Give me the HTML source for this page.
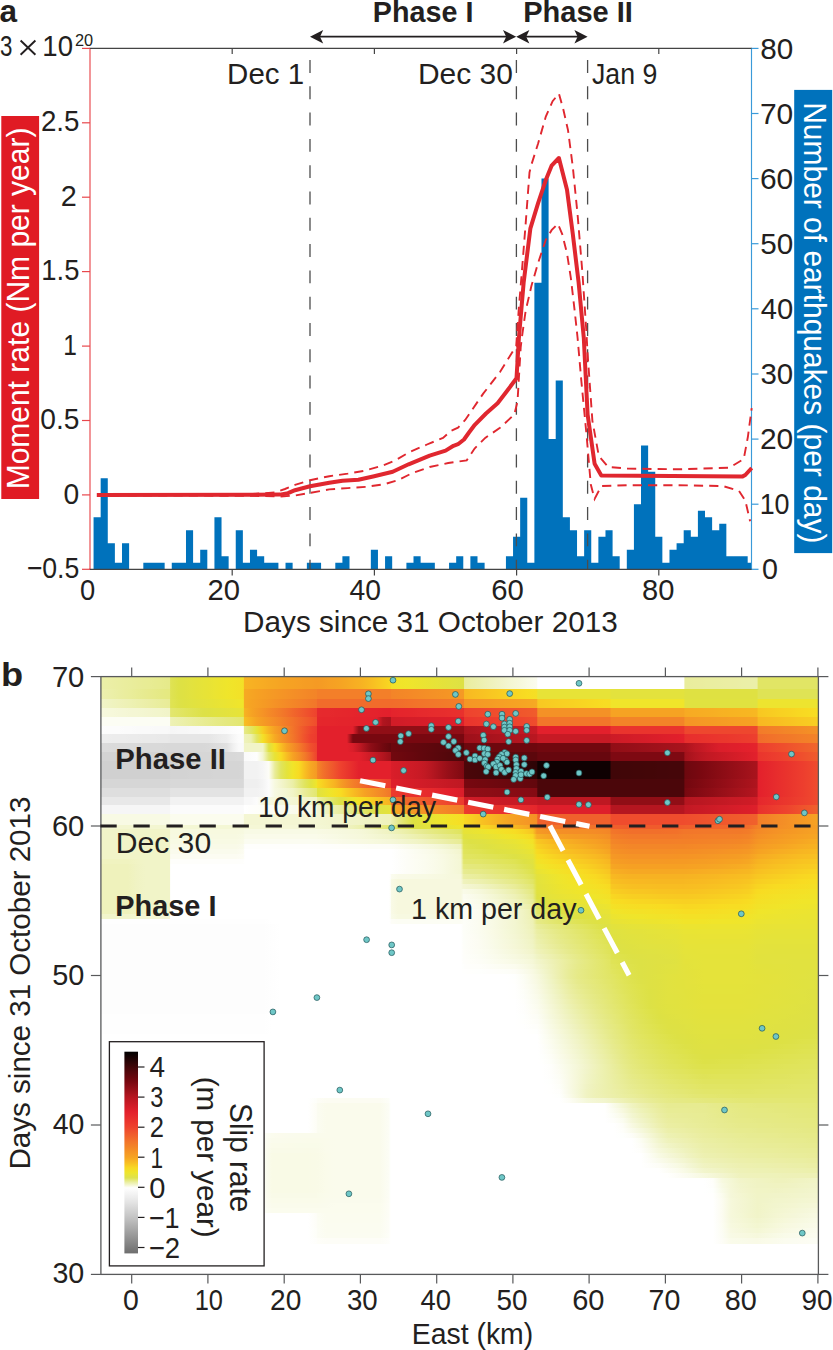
<!DOCTYPE html>
<html><head><meta charset="utf-8"><title>Figure</title>
<style>html,body{margin:0;padding:0;background:#fff;overflow:hidden}svg{display:block}text{font-family:"Liberation Sans",sans-serif}</style>
</head><body>
<svg width="833" height="1350" viewBox="0 0 833 1350">
<rect width="833" height="1350" fill="#fff"/>
<!-- panel a -->
<path d="M93.56 569.30H100.67V517.21H93.56ZM100.67 569.30H107.78V478.14H100.67ZM107.78 569.30H114.89V543.25H107.78ZM114.89 569.30H122.00V562.79H114.89ZM122.00 569.30H129.11V543.25H122.00ZM143.32 569.30H150.44V562.79H143.32ZM150.44 569.30H157.55V562.79H150.44ZM157.55 569.30H164.66V562.79H157.55ZM171.76 569.30H178.88V562.79H171.76ZM178.88 569.30H185.99V562.79H178.88ZM185.99 569.30H193.09V530.23H185.99ZM193.09 569.30H200.20V562.79H193.09ZM200.20 569.30H207.31V549.77H200.20ZM214.43 569.30H221.53V517.21H214.43ZM221.53 569.30H228.65V556.28H221.53ZM235.75 569.30H242.87V530.23H235.75ZM242.87 569.30H249.97V562.79H242.87ZM249.97 569.30H257.09V549.77H249.97ZM257.09 569.30H264.20V556.28H257.09ZM264.20 569.30H271.31V562.79H264.20ZM271.31 569.30H278.42V562.79H271.31ZM285.52 569.30H292.63V562.79H285.52ZM306.86 569.30H313.97V562.79H306.86ZM313.97 569.30H321.08V562.79H313.97ZM335.30 569.30H342.40V562.79H335.30ZM342.40 569.30H349.51V556.28H342.40ZM370.85 569.30H377.96V549.77H370.85ZM385.06 569.30H392.18V556.28H385.06ZM406.40 569.30H413.50V562.79H406.40ZM413.50 569.30H420.62V556.28H413.50ZM420.62 569.30H427.73V562.79H420.62ZM427.73 569.30H434.84V562.79H427.73ZM449.06 569.30H456.17V562.79H449.06ZM456.17 569.30H463.28V556.28H456.17ZM470.38 569.30H477.50V556.28H470.38ZM477.50 569.30H484.61V562.79H477.50ZM505.94 569.30H513.05V556.28H505.94ZM513.05 569.30H520.15V536.74H513.05ZM520.15 569.30H527.27V497.68H520.15ZM527.27 569.30H534.38V562.79H527.27ZM534.38 569.30H541.49V282.80H534.38ZM541.49 569.30H548.60V178.62H541.49ZM548.60 569.30H555.71V439.07H548.60ZM555.71 569.30H562.82V380.47H555.71ZM562.82 569.30H569.92V517.21H562.82ZM569.92 569.30H577.04V530.23H569.92ZM577.04 569.30H584.14V556.28H577.04ZM584.14 569.30H591.25V530.23H584.14ZM591.25 569.30H598.37V562.79H591.25ZM598.37 569.30H605.48V536.74H598.37ZM605.48 569.30H612.59V530.23H605.48ZM612.59 569.30H619.70V556.28H612.59ZM626.81 569.30H633.92V549.77H626.81ZM633.92 569.30H641.02V504.19H633.92ZM641.02 569.30H648.13V445.59H641.02ZM648.13 569.30H655.25V471.63H648.13ZM655.25 569.30H662.36V536.74H655.25ZM662.36 569.30H669.47V562.79H662.36ZM669.47 569.30H676.58V549.77H669.47ZM676.58 569.30H683.69V543.25H676.58ZM683.69 569.30H690.80V530.23H683.69ZM690.80 569.30H697.90V536.74H690.80ZM697.90 569.30H705.01V510.70H697.90ZM705.01 569.30H712.12V517.21H705.01ZM712.12 569.30H719.24V530.23H712.12ZM719.24 569.30H726.35V523.72H719.24ZM726.35 569.30H733.46V556.28H726.35ZM733.46 569.30H740.57V556.28H733.46ZM740.57 569.30H747.68V556.28H740.57ZM747.68 569.30H751.50V562.79H747.68Z" fill="#0072bc"/>
<line x1="310.0" y1="60" x2="310.0" y2="569.3" stroke="#4d4d4d" stroke-width="1.3" stroke-dasharray="12.9 13.4"/>
<line x1="516.4" y1="60" x2="516.4" y2="569.3" stroke="#4d4d4d" stroke-width="1.3" stroke-dasharray="12.9 13.4"/>
<line x1="587.6" y1="60" x2="587.6" y2="569.3" stroke="#4d4d4d" stroke-width="1.3" stroke-dasharray="12.9 13.4"/>
<line x1="90.0" y1="48.4" x2="90.0" y2="569.3" stroke="#e8474c" stroke-width="1.15"/>
<line x1="751.5" y1="48.4" x2="751.5" y2="569.3" stroke="#3a9ad9" stroke-width="1.15"/>
<line x1="89.4" y1="48.4" x2="752.1" y2="48.4" stroke="#444" stroke-width="1.2"/>
<line x1="89.4" y1="569.3" x2="752.1" y2="569.3" stroke="#444" stroke-width="1.2"/>
<line x1="82.0" y1="569.3" x2="90.0" y2="569.3" stroke="#e8474c" stroke-width="1.2"/>
<line x1="82.0" y1="494.9" x2="90.0" y2="494.9" stroke="#e8474c" stroke-width="1.2"/>
<line x1="82.0" y1="420.5" x2="90.0" y2="420.5" stroke="#e8474c" stroke-width="1.2"/>
<line x1="82.0" y1="346.1" x2="90.0" y2="346.1" stroke="#e8474c" stroke-width="1.2"/>
<line x1="82.0" y1="271.6" x2="90.0" y2="271.6" stroke="#e8474c" stroke-width="1.2"/>
<line x1="82.0" y1="197.2" x2="90.0" y2="197.2" stroke="#e8474c" stroke-width="1.2"/>
<line x1="82.0" y1="122.8" x2="90.0" y2="122.8" stroke="#e8474c" stroke-width="1.2"/>
<line x1="82.0" y1="48.4" x2="90.0" y2="48.4" stroke="#e8474c" stroke-width="1.2"/>
<line x1="751.5" y1="569.3" x2="758.5" y2="569.3" stroke="#3a9ad9" stroke-width="1.2"/>
<line x1="751.5" y1="504.2" x2="758.5" y2="504.2" stroke="#3a9ad9" stroke-width="1.2"/>
<line x1="751.5" y1="439.1" x2="758.5" y2="439.1" stroke="#3a9ad9" stroke-width="1.2"/>
<line x1="751.5" y1="374.0" x2="758.5" y2="374.0" stroke="#3a9ad9" stroke-width="1.2"/>
<line x1="751.5" y1="308.8" x2="758.5" y2="308.8" stroke="#3a9ad9" stroke-width="1.2"/>
<line x1="751.5" y1="243.7" x2="758.5" y2="243.7" stroke="#3a9ad9" stroke-width="1.2"/>
<line x1="751.5" y1="178.6" x2="758.5" y2="178.6" stroke="#3a9ad9" stroke-width="1.2"/>
<line x1="751.5" y1="113.5" x2="758.5" y2="113.5" stroke="#3a9ad9" stroke-width="1.2"/>
<line x1="751.5" y1="48.4" x2="758.5" y2="48.4" stroke="#3a9ad9" stroke-width="1.2"/>
<line x1="232.2" y1="569.3" x2="232.2" y2="575.6" stroke="#444" stroke-width="1.2"/>
<line x1="232.2" y1="48.4" x2="232.2" y2="54.0" stroke="#444" stroke-width="1.2"/>
<line x1="374.4" y1="569.3" x2="374.4" y2="575.6" stroke="#444" stroke-width="1.2"/>
<line x1="374.4" y1="48.4" x2="374.4" y2="54.0" stroke="#444" stroke-width="1.2"/>
<line x1="516.6" y1="569.3" x2="516.6" y2="575.6" stroke="#444" stroke-width="1.2"/>
<line x1="516.6" y1="48.4" x2="516.6" y2="54.0" stroke="#444" stroke-width="1.2"/>
<line x1="658.8" y1="569.3" x2="658.8" y2="575.6" stroke="#444" stroke-width="1.2"/>
<line x1="658.8" y1="48.4" x2="658.8" y2="54.0" stroke="#444" stroke-width="1.2"/>
<polyline points="97.0,494.2 250.0,494.1 275.0,492.5 285.0,489.0 295.0,484.9 310.0,480.2 329.3,476.2 347.8,473.6 363.7,470.9 382.2,465.7 395.4,460.4 408.6,452.5 427.0,444.5 443.0,437.9 450.8,430.9 458.0,427.7 465.2,420.0 483.2,393.6 500.0,372.0 516.2,346.0 518.9,307.2 521.8,272.6 525.6,224.4 529.5,172.4 531.4,164.7 538.1,143.5 545.8,116.6 552.6,101.2 558.9,93.6 563.2,108.9 568.0,130.1 572.8,166.7 577.6,214.8 582.4,272.6 586.3,330.3 587.6,353.9 592.4,420.8 598.8,455.9 608.3,467.0 627.4,468.6 678.4,469.3 729.4,467.7 743.7,459.1 747.9,436.8 751.7,408.1" fill="none" stroke="#e0272f" stroke-width="1.9" stroke-dasharray="9.2 6.1"/>
<polyline points="97.0,495.6 250.0,495.7 280.0,496.5 295.0,495.5 310.0,492.9 329.3,489.4 347.8,488.1 366.3,486.8 384.8,484.1 398.0,480.2 411.2,473.6 429.7,467.0 448.2,463.0 466.7,460.4 474.6,448.5 485.2,437.9 500.0,427.8 514.3,414.5 517.5,401.7 520.7,347.5 521.8,338.0 525.6,311.1 531.4,286.0 538.1,262.9 545.8,239.8 551.6,230.2 557.8,223.8 562.2,234.1 567.0,253.3 570.9,278.3 574.7,311.1 577.6,338.0 581.2,379.4 586.7,436.8 590.8,484.6 594.6,498.9 601.3,486.1 627.4,485.2 678.4,485.2 723.0,486.1 739.0,490.9 745.3,500.5 750.1,521.2" fill="none" stroke="#e0272f" stroke-width="1.9" stroke-dasharray="9.2 6.1"/>
<polyline points="96.8,494.9 280.0,494.6 288.0,493.2 295.0,490.2 310.0,486.3 329.3,482.8 342.5,480.7 358.4,479.7 374.2,476.2 392.7,471.7 408.6,464.3 429.7,455.6 445.6,450.6 453.5,445.8 458.0,444.2 464.0,439.5 469.0,432.5 474.8,424.8 486.0,413.5 497.6,403.2 507.0,391.0 516.5,378.3 518.9,338.0 523.7,282.2 530.4,228.3 538.1,203.2 545.8,180.1 551.6,165.7 558.9,158.0 567.0,189.8 572.8,234.1 578.6,282.2 583.8,338.0 587.6,414.5 594.6,463.8 601.3,475.6 742.2,476.6 745.3,475.0 751.7,468.0" fill="none" stroke="#e0272f" stroke-width="4" stroke-linejoin="round" stroke-linecap="butt"/>
<text x="-0.52" y="22.30" font-size="31.0" font-weight="bold" textLength="17.56" lengthAdjust="spacingAndGlyphs" fill="#231f20">a</text>
<text x="-0.06" y="55.70" font-size="29.4" textLength="12.43" lengthAdjust="spacingAndGlyphs" fill="#231f20">3</text>
<path d="M20.6 40.5L35.4 54.7M35.4 40.5L20.6 54.7" stroke="#231f20" stroke-width="1.9" fill="none"/>
<text x="42.29" y="55.70" font-size="29.4" textLength="30.70" lengthAdjust="spacingAndGlyphs" fill="#231f20">10</text>
<text x="74.90" y="45.60" font-size="17.4" textLength="18.17" lengthAdjust="spacingAndGlyphs" fill="#231f20">20</text>
<text x="372.89" y="21.60" font-size="28.6" font-weight="bold" textLength="100.54" lengthAdjust="spacingAndGlyphs" fill="#231f20">Phase I</text>
<text x="523.16" y="21.60" font-size="28.6" font-weight="bold" textLength="109.75" lengthAdjust="spacingAndGlyphs" fill="#231f20">Phase II</text>
<line x1="318" y1="36.7" x2="509" y2="36.7" stroke="#231f20" stroke-width="1.7"/>
<line x1="523" y1="36.7" x2="580" y2="36.7" stroke="#231f20" stroke-width="1.7"/>
<path d="M310.0 36.7L323.2 30L320.0 36.7L323.2 43.4Z" fill="#231f20"/>
<path d="M516.2 36.7L503.0 30L506.2 36.7L503.0 43.4Z" fill="#231f20"/>
<path d="M516.2 36.7L529.4 30L526.2 36.7L529.4 43.4Z" fill="#231f20"/>
<path d="M587.6 36.7L574.4 30L577.6 36.7L574.4 43.4Z" fill="#231f20"/>
<text x="227.10" y="84.00" font-size="29.4" textLength="77.01" lengthAdjust="spacingAndGlyphs" fill="#231f20">Dec 1</text>
<text x="417.96" y="84.00" font-size="29.4" textLength="94.98" lengthAdjust="spacingAndGlyphs" fill="#231f20">Dec 30</text>
<text x="591.95" y="84.00" font-size="29.4" textLength="65.33" lengthAdjust="spacingAndGlyphs" fill="#231f20">Jan 9</text>
<text x="26.75" y="578.20" font-size="29.4" textLength="52.57" lengthAdjust="spacingAndGlyphs" fill="#231f20">−0.5</text>
<text x="63.40" y="503.70" font-size="29.4" textLength="15.70" lengthAdjust="spacingAndGlyphs" fill="#231f20">0</text>
<text x="40.31" y="429.20" font-size="29.4" textLength="39.09" lengthAdjust="spacingAndGlyphs" fill="#231f20">0.5</text>
<text x="63.33" y="354.70" font-size="29.4" textLength="13.64" lengthAdjust="spacingAndGlyphs" fill="#231f20">1</text>
<text x="41.31" y="280.20" font-size="29.4" textLength="38.06" lengthAdjust="spacingAndGlyphs" fill="#231f20">1.5</text>
<text x="60.83" y="205.70" font-size="29.4" textLength="16.04" lengthAdjust="spacingAndGlyphs" fill="#231f20">2</text>
<text x="40.89" y="131.20" font-size="29.4" textLength="38.49" lengthAdjust="spacingAndGlyphs" fill="#231f20">2.5</text>
<text x="79.94" y="599.80" font-size="29.4" textLength="15.23" lengthAdjust="spacingAndGlyphs" fill="#231f20">0</text>
<text x="207.41" y="599.80" font-size="29.4" textLength="32.54" lengthAdjust="spacingAndGlyphs" fill="#231f20">20</text>
<text x="349.58" y="599.80" font-size="29.4" textLength="31.44" lengthAdjust="spacingAndGlyphs" fill="#231f20">40</text>
<text x="491.21" y="599.80" font-size="29.4" textLength="32.65" lengthAdjust="spacingAndGlyphs" fill="#231f20">60</text>
<text x="641.97" y="599.80" font-size="29.4" textLength="32.38" lengthAdjust="spacingAndGlyphs" fill="#231f20">80</text>
<text x="243.08" y="632.20" font-size="29.4" textLength="374.76" lengthAdjust="spacingAndGlyphs" fill="#231f20">Days since 31 October 2013</text>
<text x="760.24" y="58.70" font-size="29.4" textLength="33.03" lengthAdjust="spacingAndGlyphs" fill="#231f20">80</text>
<text x="759.98" y="123.74" font-size="29.4" textLength="33.30" lengthAdjust="spacingAndGlyphs" fill="#231f20">70</text>
<text x="759.98" y="188.78" font-size="29.4" textLength="33.30" lengthAdjust="spacingAndGlyphs" fill="#231f20">60</text>
<text x="760.24" y="253.82" font-size="29.4" textLength="33.03" lengthAdjust="spacingAndGlyphs" fill="#231f20">50</text>
<text x="760.76" y="318.86" font-size="29.4" textLength="32.49" lengthAdjust="spacingAndGlyphs" fill="#231f20">40</text>
<text x="760.50" y="383.90" font-size="29.4" textLength="32.76" lengthAdjust="spacingAndGlyphs" fill="#231f20">30</text>
<text x="759.98" y="448.94" font-size="29.4" textLength="33.30" lengthAdjust="spacingAndGlyphs" fill="#231f20">20</text>
<text x="759.65" y="513.98" font-size="29.4" textLength="29.92" lengthAdjust="spacingAndGlyphs" fill="#231f20">10</text>
<text x="762.09" y="579.02" font-size="29.4" textLength="15.94" lengthAdjust="spacingAndGlyphs" fill="#231f20">0</text>
<rect x="1.3" y="116" width="37.8" height="383" fill="#e01b24"/>
<text transform="translate(28.70,489.36) rotate(-90)" font-size="30.5" textLength="361.84" lengthAdjust="spacingAndGlyphs" fill="#fff">Moment rate (Nm per year)</text>
<rect x="794.2" y="89.9" width="38" height="463.2" fill="#0072bc"/>
<text transform="translate(803.50,102.24) rotate(90)" font-size="30.5" textLength="441.19" lengthAdjust="spacingAndGlyphs" fill="#fff">Number of earthquakes (per day)</text>
<!-- panel b -->
<defs><linearGradient id="g0" gradientUnits="userSpaceOnUse" x1="100.9" x2="818.4" y1="0" y2="0"><stop offset="0.0000" stop-color="#f3f6d1"/><stop offset="0.0960" stop-color="#f3f6d1"/><stop offset="0.0971" stop-color="#f4f7d5"/><stop offset="0.1882" stop-color="#f4f7d5"/><stop offset="0.1986" stop-color="#f4f7d6"/><stop offset="0.1997" stop-color="#f5f7d6"/><stop offset="0.2885" stop-color="#f5f7d6"/><stop offset="0.3006" stop-color="#f4f7d6"/><stop offset="0.3010" stop-color="#f4f7d6"/><stop offset="0.3017" stop-color="#f4f7d5"/><stop offset="0.3136" stop-color="#f3f6d2"/><stop offset="0.3261" stop-color="#f2f5ce"/><stop offset="0.3387" stop-color="#f0f3c5"/><stop offset="0.3512" stop-color="#eef2b9"/><stop offset="0.3638" stop-color="#ecf0ac"/><stop offset="0.3763" stop-color="#e9ed9b"/><stop offset="0.3889" stop-color="#e5e983"/><stop offset="0.4014" stop-color="#e2e66e"/><stop offset="0.4036" stop-color="#e2e66a"/><stop offset="0.4047" stop-color="#e2e668"/><stop offset="0.4139" stop-color="#e0e45d"/><stop offset="0.4265" stop-color="#dee24e"/><stop offset="0.4390" stop-color="#dee143"/><stop offset="0.4516" stop-color="#e1e23f"/><stop offset="0.4641" stop-color="#e5e33a"/><stop offset="0.4767" stop-color="#e8e335"/><stop offset="0.4892" stop-color="#ebe430"/><stop offset="0.5017" stop-color="#efe52c"/><stop offset="0.5056" stop-color="#f5df25"/><stop offset="0.5068" stop-color="#f6df24"/><stop offset="0.5143" stop-color="#f7dd23"/><stop offset="0.5268" stop-color="#f8d922"/><stop offset="0.5394" stop-color="#f8d122"/><stop offset="0.5519" stop-color="#f8c822"/><stop offset="0.5645" stop-color="#f8bf22"/><stop offset="0.5770" stop-color="#f7b722"/><stop offset="0.5895" stop-color="#f7ac23"/><stop offset="0.6021" stop-color="#f6a023"/><stop offset="0.6077" stop-color="#f38028"/><stop offset="0.6088" stop-color="#f38029"/><stop offset="0.6146" stop-color="#f37d29"/><stop offset="0.6272" stop-color="#f2772a"/><stop offset="0.6397" stop-color="#f2752a"/><stop offset="0.6774" stop-color="#f2752a"/><stop offset="0.6899" stop-color="#f2732a"/><stop offset="0.7024" stop-color="#f2712a"/><stop offset="0.7097" stop-color="#f2702a"/><stop offset="0.7108" stop-color="#f0602c"/><stop offset="0.7150" stop-color="#f05f2c"/><stop offset="0.7275" stop-color="#f05d2c"/><stop offset="0.7401" stop-color="#f05b2c"/><stop offset="0.7902" stop-color="#f05b2c"/><stop offset="0.8028" stop-color="#f05c2c"/><stop offset="0.8127" stop-color="#f05f2c"/><stop offset="0.8138" stop-color="#f0602c"/><stop offset="0.8153" stop-color="#f0602c"/><stop offset="0.8279" stop-color="#f0612c"/><stop offset="0.8404" stop-color="#f1632b"/><stop offset="0.8530" stop-color="#f1642b"/><stop offset="0.8655" stop-color="#f1662b"/><stop offset="0.8780" stop-color="#f1672b"/><stop offset="0.8906" stop-color="#f1692b"/><stop offset="0.9031" stop-color="#f16e2b"/><stop offset="0.9147" stop-color="#f38028"/><stop offset="0.9157" stop-color="#f38128"/><stop offset="0.9158" stop-color="#f38128"/><stop offset="0.9282" stop-color="#f48727"/><stop offset="0.9408" stop-color="#f48d26"/><stop offset="0.9533" stop-color="#f49126"/><stop offset="0.9659" stop-color="#f59525"/><stop offset="0.9784" stop-color="#f59a24"/><stop offset="0.9909" stop-color="#f59d24"/><stop offset="1.0000" stop-color="#f69f24"/></linearGradient><linearGradient id="g1" gradientUnits="userSpaceOnUse" x1="100.9" x2="818.4" y1="0" y2="0"><stop offset="0.0000" stop-color="#f1f4c8"/><stop offset="0.0960" stop-color="#f1f4c8"/><stop offset="0.0971" stop-color="#f7f9df"/><stop offset="0.1882" stop-color="#f7f9df"/><stop offset="0.1986" stop-color="#f7f9e0"/><stop offset="0.1997" stop-color="#f8fae4"/><stop offset="0.2007" stop-color="#f8fae5"/><stop offset="0.3006" stop-color="#f8fae5"/><stop offset="0.3010" stop-color="#f8fae4"/><stop offset="0.3017" stop-color="#f8fae4"/><stop offset="0.3136" stop-color="#f8f9e2"/><stop offset="0.3261" stop-color="#f7f9e0"/><stop offset="0.3387" stop-color="#f6f8de"/><stop offset="0.3512" stop-color="#f6f8db"/><stop offset="0.3638" stop-color="#f5f7d8"/><stop offset="0.3763" stop-color="#f3f6d1"/><stop offset="0.3889" stop-color="#f1f4c9"/><stop offset="0.4014" stop-color="#f0f3c1"/><stop offset="0.4036" stop-color="#eff3bf"/><stop offset="0.4047" stop-color="#eff2be"/><stop offset="0.4139" stop-color="#eef1b4"/><stop offset="0.4265" stop-color="#ebefa7"/><stop offset="0.4390" stop-color="#e9ec99"/><stop offset="0.4516" stop-color="#e6ea8c"/><stop offset="0.4641" stop-color="#e5e980"/><stop offset="0.4767" stop-color="#e3e775"/><stop offset="0.4892" stop-color="#e2e66a"/><stop offset="0.5017" stop-color="#e0e45f"/><stop offset="0.5056" stop-color="#e6e338"/><stop offset="0.5068" stop-color="#e7e337"/><stop offset="0.5143" stop-color="#e8e335"/><stop offset="0.5268" stop-color="#ebe431"/><stop offset="0.5394" stop-color="#efe52c"/><stop offset="0.5519" stop-color="#f2e328"/><stop offset="0.5645" stop-color="#f5e025"/><stop offset="0.5770" stop-color="#f7dd23"/><stop offset="0.5895" stop-color="#f8d322"/><stop offset="0.6021" stop-color="#f8c622"/><stop offset="0.6077" stop-color="#f59a24"/><stop offset="0.6088" stop-color="#f59a24"/><stop offset="0.6146" stop-color="#f59725"/><stop offset="0.6272" stop-color="#f49226"/><stop offset="0.6397" stop-color="#f48f26"/><stop offset="0.6523" stop-color="#f48e26"/><stop offset="0.6648" stop-color="#f48d26"/><stop offset="0.6774" stop-color="#f48d26"/><stop offset="0.6899" stop-color="#f48b27"/><stop offset="0.7024" stop-color="#f48827"/><stop offset="0.7097" stop-color="#f38627"/><stop offset="0.7108" stop-color="#f2762a"/><stop offset="0.7150" stop-color="#f2752a"/><stop offset="0.7275" stop-color="#f2712a"/><stop offset="0.7401" stop-color="#f16f2b"/><stop offset="0.7777" stop-color="#f16f2b"/><stop offset="0.7902" stop-color="#f2702a"/><stop offset="0.8028" stop-color="#f2712a"/><stop offset="0.8127" stop-color="#f2762a"/><stop offset="0.8153" stop-color="#f2762a"/><stop offset="0.8279" stop-color="#f2772a"/><stop offset="0.8404" stop-color="#f2782a"/><stop offset="0.8530" stop-color="#f2782a"/><stop offset="0.8655" stop-color="#f2792a"/><stop offset="0.8780" stop-color="#f2792a"/><stop offset="0.8906" stop-color="#f27929"/><stop offset="0.9031" stop-color="#f37c29"/><stop offset="0.9147" stop-color="#f48927"/><stop offset="0.9158" stop-color="#f48927"/><stop offset="0.9282" stop-color="#f48e26"/><stop offset="0.9408" stop-color="#f59226"/><stop offset="0.9533" stop-color="#f59625"/><stop offset="0.9659" stop-color="#f59924"/><stop offset="0.9784" stop-color="#f59d24"/><stop offset="0.9909" stop-color="#f6a024"/><stop offset="1.0000" stop-color="#f6a123"/></linearGradient><linearGradient id="g2" gradientUnits="userSpaceOnUse" x1="100.9" x2="818.4" y1="0" y2="0"><stop offset="0.0000" stop-color="#f1f4c8"/><stop offset="0.0960" stop-color="#f1f4c8"/><stop offset="0.0971" stop-color="#f7f9e1"/><stop offset="0.1882" stop-color="#f7f9e1"/><stop offset="0.1986" stop-color="#f8fae4"/><stop offset="0.1997" stop-color="#f9fae8"/><stop offset="0.2007" stop-color="#fafbea"/><stop offset="0.3010" stop-color="#fafbea"/><stop offset="0.3017" stop-color="#fafbe9"/><stop offset="0.3136" stop-color="#f9fae7"/><stop offset="0.3261" stop-color="#f8fae4"/><stop offset="0.3387" stop-color="#f7f9e1"/><stop offset="0.3512" stop-color="#f7f8de"/><stop offset="0.3638" stop-color="#f6f8db"/><stop offset="0.3763" stop-color="#f5f7d6"/><stop offset="0.3889" stop-color="#f3f6d1"/><stop offset="0.4014" stop-color="#f2f5cc"/><stop offset="0.4036" stop-color="#f2f5cb"/><stop offset="0.4047" stop-color="#f2f4ca"/><stop offset="0.4139" stop-color="#f0f3c3"/><stop offset="0.4265" stop-color="#eef2b9"/><stop offset="0.4390" stop-color="#edf0af"/><stop offset="0.4516" stop-color="#ebeea4"/><stop offset="0.4641" stop-color="#e9ec98"/><stop offset="0.4767" stop-color="#e6ea8d"/><stop offset="0.4892" stop-color="#e5e982"/><stop offset="0.5017" stop-color="#e4e878"/><stop offset="0.5056" stop-color="#e1e23f"/><stop offset="0.5068" stop-color="#e1e23f"/><stop offset="0.5143" stop-color="#e3e23d"/><stop offset="0.5268" stop-color="#e5e33a"/><stop offset="0.5394" stop-color="#e8e336"/><stop offset="0.5519" stop-color="#ebe430"/><stop offset="0.5645" stop-color="#efe52b"/><stop offset="0.5770" stop-color="#f2e328"/><stop offset="0.5895" stop-color="#f5df25"/><stop offset="0.6021" stop-color="#f8d822"/><stop offset="0.6077" stop-color="#f7ae23"/><stop offset="0.6088" stop-color="#f7ae23"/><stop offset="0.6146" stop-color="#f6aa23"/><stop offset="0.6272" stop-color="#f6a223"/><stop offset="0.6397" stop-color="#f69e24"/><stop offset="0.6523" stop-color="#f59c24"/><stop offset="0.6648" stop-color="#f59a24"/><stop offset="0.6774" stop-color="#f59825"/><stop offset="0.6899" stop-color="#f59525"/><stop offset="0.7024" stop-color="#f49126"/><stop offset="0.7097" stop-color="#f48e26"/><stop offset="0.7108" stop-color="#f37e29"/><stop offset="0.7150" stop-color="#f37d29"/><stop offset="0.7275" stop-color="#f27a29"/><stop offset="0.7401" stop-color="#f2782a"/><stop offset="0.8028" stop-color="#f2782a"/><stop offset="0.8127" stop-color="#f27b29"/><stop offset="0.8153" stop-color="#f27b29"/><stop offset="0.8279" stop-color="#f37c29"/><stop offset="0.8404" stop-color="#f37d29"/><stop offset="0.8530" stop-color="#f37e29"/><stop offset="0.8655" stop-color="#f37e29"/><stop offset="0.8780" stop-color="#f37f29"/><stop offset="0.8906" stop-color="#f38028"/><stop offset="0.9031" stop-color="#f38328"/><stop offset="0.9147" stop-color="#f48e26"/><stop offset="0.9157" stop-color="#f48f26"/><stop offset="0.9158" stop-color="#f48f26"/><stop offset="0.9282" stop-color="#f59325"/><stop offset="0.9408" stop-color="#f59725"/><stop offset="0.9533" stop-color="#f59b24"/><stop offset="0.9659" stop-color="#f69e24"/><stop offset="0.9784" stop-color="#f6a123"/><stop offset="0.9909" stop-color="#f6a423"/><stop offset="1.0000" stop-color="#f6a623"/></linearGradient><linearGradient id="g3" gradientUnits="userSpaceOnUse" x1="100.9" x2="818.4" y1="0" y2="0"><stop offset="0.0000" stop-color="#f1f4c8"/><stop offset="0.0960" stop-color="#f1f4c8"/><stop offset="0.0971" stop-color="#f8fae4"/><stop offset="0.1882" stop-color="#f8fae4"/><stop offset="0.1986" stop-color="#f9fae7"/><stop offset="0.1997" stop-color="#fbfcee"/><stop offset="0.2007" stop-color="#fbfcf1"/><stop offset="0.2885" stop-color="#fbfcf1"/><stop offset="0.3006" stop-color="#fbfcf0"/><stop offset="0.3017" stop-color="#fbfcf0"/><stop offset="0.3136" stop-color="#fafbed"/><stop offset="0.3261" stop-color="#fafbea"/><stop offset="0.3387" stop-color="#f9fae7"/><stop offset="0.3512" stop-color="#f8fae5"/><stop offset="0.3638" stop-color="#f8f9e2"/><stop offset="0.3763" stop-color="#f7f9df"/><stop offset="0.3889" stop-color="#f6f8dc"/><stop offset="0.4014" stop-color="#f5f7d9"/><stop offset="0.4036" stop-color="#f5f7d9"/><stop offset="0.4047" stop-color="#f5f7d8"/><stop offset="0.4139" stop-color="#f4f6d4"/><stop offset="0.4265" stop-color="#f2f5cd"/><stop offset="0.4390" stop-color="#f1f4c7"/><stop offset="0.4516" stop-color="#eff2be"/><stop offset="0.4641" stop-color="#eef1b4"/><stop offset="0.4767" stop-color="#ecefaa"/><stop offset="0.4892" stop-color="#eaed9f"/><stop offset="0.5017" stop-color="#e8ec95"/><stop offset="0.5056" stop-color="#dee24a"/><stop offset="0.5068" stop-color="#dee24a"/><stop offset="0.5143" stop-color="#dde145"/><stop offset="0.5268" stop-color="#dfe143"/><stop offset="0.5394" stop-color="#e1e23f"/><stop offset="0.5519" stop-color="#e4e23b"/><stop offset="0.5645" stop-color="#e7e337"/><stop offset="0.5770" stop-color="#e9e434"/><stop offset="0.5895" stop-color="#eee52d"/><stop offset="0.6021" stop-color="#f3e227"/><stop offset="0.6077" stop-color="#f8c822"/><stop offset="0.6088" stop-color="#f8c722"/><stop offset="0.6146" stop-color="#f8c222"/><stop offset="0.6272" stop-color="#f8b922"/><stop offset="0.6397" stop-color="#f7b222"/><stop offset="0.6523" stop-color="#f7ad23"/><stop offset="0.6648" stop-color="#f6a823"/><stop offset="0.6774" stop-color="#f6a323"/><stop offset="0.6899" stop-color="#f69f24"/><stop offset="0.7024" stop-color="#f59924"/><stop offset="0.7097" stop-color="#f59625"/><stop offset="0.7108" stop-color="#f38628"/><stop offset="0.7150" stop-color="#f38528"/><stop offset="0.7275" stop-color="#f38128"/><stop offset="0.7401" stop-color="#f37f29"/><stop offset="0.7902" stop-color="#f37f29"/><stop offset="0.8028" stop-color="#f38029"/><stop offset="0.8127" stop-color="#f38028"/><stop offset="0.8153" stop-color="#f38028"/><stop offset="0.8279" stop-color="#f38128"/><stop offset="0.8404" stop-color="#f38228"/><stop offset="0.8530" stop-color="#f38328"/><stop offset="0.8655" stop-color="#f38428"/><stop offset="0.8780" stop-color="#f38528"/><stop offset="0.8906" stop-color="#f38627"/><stop offset="0.9031" stop-color="#f48927"/><stop offset="0.9147" stop-color="#f59425"/><stop offset="0.9157" stop-color="#f59425"/><stop offset="0.9158" stop-color="#f59525"/><stop offset="0.9282" stop-color="#f59925"/><stop offset="0.9408" stop-color="#f59c24"/><stop offset="0.9533" stop-color="#f69f24"/><stop offset="0.9659" stop-color="#f6a323"/><stop offset="0.9784" stop-color="#f6a723"/><stop offset="0.9909" stop-color="#f7ab23"/><stop offset="1.0000" stop-color="#f7ad23"/></linearGradient><linearGradient id="g4" gradientUnits="userSpaceOnUse" x1="100.9" x2="818.4" y1="0" y2="0"><stop offset="0.0000" stop-color="#f1f4c8"/><stop offset="0.0960" stop-color="#f1f4c8"/><stop offset="0.0971" stop-color="#f9fae8"/><stop offset="0.1882" stop-color="#f9fae8"/><stop offset="0.1986" stop-color="#fafbed"/><stop offset="0.1997" stop-color="#fdfdf7"/><stop offset="0.2007" stop-color="#fefefc"/><stop offset="0.2885" stop-color="#fefefc"/><stop offset="0.3006" stop-color="#fefefb"/><stop offset="0.3136" stop-color="#fefefb"/><stop offset="0.3261" stop-color="#fefefa"/><stop offset="0.3387" stop-color="#fefef9"/><stop offset="0.3512" stop-color="#fdfef9"/><stop offset="0.3638" stop-color="#fdfef8"/><stop offset="0.3763" stop-color="#fdfdf7"/><stop offset="0.3889" stop-color="#fdfdf7"/><stop offset="0.4014" stop-color="#fdfdf6"/><stop offset="0.4047" stop-color="#fdfdf6"/><stop offset="0.4139" stop-color="#fcfcf2"/><stop offset="0.4265" stop-color="#fafbec"/><stop offset="0.4390" stop-color="#f9fae6"/><stop offset="0.4516" stop-color="#f7f9e0"/><stop offset="0.4641" stop-color="#f6f8da"/><stop offset="0.4767" stop-color="#f3f6d2"/><stop offset="0.4892" stop-color="#f1f4c8"/><stop offset="0.5017" stop-color="#eff2be"/><stop offset="0.5056" stop-color="#dfe352"/><stop offset="0.5068" stop-color="#dfe352"/><stop offset="0.5143" stop-color="#dee24e"/><stop offset="0.5268" stop-color="#dde148"/><stop offset="0.5394" stop-color="#dee143"/><stop offset="0.5519" stop-color="#e1e240"/><stop offset="0.5645" stop-color="#e3e23d"/><stop offset="0.5770" stop-color="#e5e339"/><stop offset="0.5895" stop-color="#eae433"/><stop offset="0.6021" stop-color="#efe52b"/><stop offset="0.6077" stop-color="#f8d122"/><stop offset="0.6088" stop-color="#f8d022"/><stop offset="0.6146" stop-color="#f8cb22"/><stop offset="0.6272" stop-color="#f8c222"/><stop offset="0.6397" stop-color="#f8bb22"/><stop offset="0.6523" stop-color="#f7b622"/><stop offset="0.6648" stop-color="#f7b122"/><stop offset="0.6774" stop-color="#f7ac23"/><stop offset="0.6899" stop-color="#f6a623"/><stop offset="0.7024" stop-color="#f6a023"/><stop offset="0.7097" stop-color="#f59d24"/><stop offset="0.7108" stop-color="#f48c27"/><stop offset="0.7150" stop-color="#f48b27"/><stop offset="0.7275" stop-color="#f48827"/><stop offset="0.7401" stop-color="#f38628"/><stop offset="0.7902" stop-color="#f38628"/><stop offset="0.8028" stop-color="#f38627"/><stop offset="0.8138" stop-color="#f38627"/><stop offset="0.8153" stop-color="#f38727"/><stop offset="0.8279" stop-color="#f48827"/><stop offset="0.8404" stop-color="#f48927"/><stop offset="0.8530" stop-color="#f48a27"/><stop offset="0.8655" stop-color="#f48b27"/><stop offset="0.8780" stop-color="#f48c27"/><stop offset="0.8906" stop-color="#f48e26"/><stop offset="0.9031" stop-color="#f49126"/><stop offset="0.9147" stop-color="#f59b24"/><stop offset="0.9158" stop-color="#f59b24"/><stop offset="0.9282" stop-color="#f69f24"/><stop offset="0.9408" stop-color="#f6a223"/><stop offset="0.9533" stop-color="#f6a623"/><stop offset="0.9659" stop-color="#f7aa23"/><stop offset="0.9784" stop-color="#f7ae23"/><stop offset="0.9909" stop-color="#f7b122"/><stop offset="1.0000" stop-color="#f7b322"/></linearGradient><linearGradient id="g5" gradientUnits="userSpaceOnUse" x1="100.9" x2="818.4" y1="0" y2="0"><stop offset="0.0000" stop-color="#f1f4c8"/><stop offset="0.0960" stop-color="#f1f4c8"/><stop offset="0.0971" stop-color="#fafbed"/><stop offset="0.1882" stop-color="#fafbed"/><stop offset="0.1986" stop-color="#fcfcf1"/><stop offset="0.1997" stop-color="#fefefb"/><stop offset="0.2007" stop-color="#ffffff"/><stop offset="0.4047" stop-color="#ffffff"/><stop offset="0.4139" stop-color="#fefefb"/><stop offset="0.4265" stop-color="#fdfdf6"/><stop offset="0.4390" stop-color="#fbfcf1"/><stop offset="0.4516" stop-color="#fafbec"/><stop offset="0.4641" stop-color="#f9fae7"/><stop offset="0.4767" stop-color="#f7f9df"/><stop offset="0.4892" stop-color="#f5f7d7"/><stop offset="0.5017" stop-color="#f3f5ce"/><stop offset="0.5056" stop-color="#e0e45a"/><stop offset="0.5068" stop-color="#e0e45a"/><stop offset="0.5143" stop-color="#dfe357"/><stop offset="0.5268" stop-color="#dfe352"/><stop offset="0.5394" stop-color="#dee24a"/><stop offset="0.5519" stop-color="#dee144"/><stop offset="0.5645" stop-color="#dfe242"/><stop offset="0.5770" stop-color="#e1e23f"/><stop offset="0.5895" stop-color="#e5e33a"/><stop offset="0.6021" stop-color="#eae432"/><stop offset="0.6077" stop-color="#f8da22"/><stop offset="0.6088" stop-color="#f8d922"/><stop offset="0.6146" stop-color="#f8d422"/><stop offset="0.6272" stop-color="#f8cb22"/><stop offset="0.6397" stop-color="#f8c422"/><stop offset="0.6523" stop-color="#f8bf22"/><stop offset="0.6648" stop-color="#f8ba22"/><stop offset="0.6774" stop-color="#f7b622"/><stop offset="0.6899" stop-color="#f7b023"/><stop offset="0.7024" stop-color="#f6a823"/><stop offset="0.7097" stop-color="#f6a323"/><stop offset="0.7108" stop-color="#f59326"/><stop offset="0.7150" stop-color="#f49226"/><stop offset="0.7275" stop-color="#f48e26"/><stop offset="0.7401" stop-color="#f48c27"/><stop offset="0.7902" stop-color="#f48c27"/><stop offset="0.8028" stop-color="#f48d26"/><stop offset="0.8153" stop-color="#f48d26"/><stop offset="0.8279" stop-color="#f48e26"/><stop offset="0.8404" stop-color="#f49026"/><stop offset="0.8530" stop-color="#f49126"/><stop offset="0.8655" stop-color="#f59226"/><stop offset="0.8780" stop-color="#f59425"/><stop offset="0.8906" stop-color="#f59525"/><stop offset="0.9031" stop-color="#f59825"/><stop offset="0.9147" stop-color="#f6a123"/><stop offset="0.9157" stop-color="#f6a223"/><stop offset="0.9158" stop-color="#f6a223"/><stop offset="0.9282" stop-color="#f6a623"/><stop offset="0.9408" stop-color="#f7ab23"/><stop offset="0.9533" stop-color="#f7ae23"/><stop offset="0.9659" stop-color="#f7b222"/><stop offset="0.9784" stop-color="#f7b622"/><stop offset="0.9909" stop-color="#f8b822"/><stop offset="1.0000" stop-color="#f8ba22"/></linearGradient><linearGradient id="g6" gradientUnits="userSpaceOnUse" x1="100.9" x2="818.4" y1="0" y2="0"><stop offset="0.0000" stop-color="#f1f4c8"/><stop offset="0.0960" stop-color="#f1f4c8"/><stop offset="0.0971" stop-color="#fcfcf2"/><stop offset="0.1882" stop-color="#fcfcf2"/><stop offset="0.1986" stop-color="#fdfdf5"/><stop offset="0.1997" stop-color="#fefefc"/><stop offset="0.2007" stop-color="#ffffff"/><stop offset="0.4047" stop-color="#ffffff"/><stop offset="0.4139" stop-color="#fefefb"/><stop offset="0.4265" stop-color="#fdfdf7"/><stop offset="0.4390" stop-color="#fcfcf2"/><stop offset="0.4516" stop-color="#fbfcee"/><stop offset="0.4641" stop-color="#f9fbe9"/><stop offset="0.4767" stop-color="#f8f9e3"/><stop offset="0.4892" stop-color="#f6f8db"/><stop offset="0.5017" stop-color="#f4f6d3"/><stop offset="0.5056" stop-color="#e1e562"/><stop offset="0.5068" stop-color="#e1e562"/><stop offset="0.5143" stop-color="#e1e560"/><stop offset="0.5268" stop-color="#e0e45c"/><stop offset="0.5394" stop-color="#dfe357"/><stop offset="0.5519" stop-color="#dfe351"/><stop offset="0.5645" stop-color="#dee24b"/><stop offset="0.5770" stop-color="#dde145"/><stop offset="0.5895" stop-color="#e1e240"/><stop offset="0.6021" stop-color="#e5e339"/><stop offset="0.6077" stop-color="#f5df25"/><stop offset="0.6088" stop-color="#f6df24"/><stop offset="0.6146" stop-color="#f7dd23"/><stop offset="0.6272" stop-color="#f8d522"/><stop offset="0.6397" stop-color="#f8ce22"/><stop offset="0.6523" stop-color="#f8c922"/><stop offset="0.6648" stop-color="#f8c422"/><stop offset="0.6774" stop-color="#f8bf22"/><stop offset="0.6899" stop-color="#f8b922"/><stop offset="0.7024" stop-color="#f7b222"/><stop offset="0.7097" stop-color="#f7ad23"/><stop offset="0.7108" stop-color="#f59925"/><stop offset="0.7150" stop-color="#f59825"/><stop offset="0.7275" stop-color="#f59525"/><stop offset="0.7401" stop-color="#f59326"/><stop offset="0.7902" stop-color="#f59326"/><stop offset="0.8028" stop-color="#f59325"/><stop offset="0.8127" stop-color="#f59425"/><stop offset="0.8153" stop-color="#f59425"/><stop offset="0.8279" stop-color="#f59525"/><stop offset="0.8404" stop-color="#f59625"/><stop offset="0.8530" stop-color="#f59825"/><stop offset="0.8655" stop-color="#f59a24"/><stop offset="0.8780" stop-color="#f59b24"/><stop offset="0.8906" stop-color="#f59d24"/><stop offset="0.9031" stop-color="#f6a024"/><stop offset="0.9147" stop-color="#f7aa23"/><stop offset="0.9157" stop-color="#f7ab23"/><stop offset="0.9158" stop-color="#f7ab23"/><stop offset="0.9282" stop-color="#f7af23"/><stop offset="0.9408" stop-color="#f7b322"/><stop offset="0.9533" stop-color="#f7b722"/><stop offset="0.9659" stop-color="#f8ba22"/><stop offset="0.9784" stop-color="#f8bd22"/><stop offset="0.9909" stop-color="#f8bf22"/><stop offset="1.0000" stop-color="#f8c122"/></linearGradient><linearGradient id="g7" gradientUnits="userSpaceOnUse" x1="100.9" x2="818.4" y1="0" y2="0"><stop offset="0.0000" stop-color="#f0f3c0"/><stop offset="0.0376" stop-color="#f0f3c0"/><stop offset="0.0502" stop-color="#f1f4c5"/><stop offset="0.0627" stop-color="#f1f4c8"/><stop offset="0.0960" stop-color="#f1f4c8"/><stop offset="0.0971" stop-color="#fefefb"/><stop offset="0.1882" stop-color="#fefefb"/><stop offset="0.1986" stop-color="#fefefc"/><stop offset="0.1997" stop-color="#fffffe"/><stop offset="0.2007" stop-color="#ffffff"/><stop offset="0.4047" stop-color="#ffffff"/><stop offset="0.4139" stop-color="#fefefc"/><stop offset="0.4265" stop-color="#fdfdf7"/><stop offset="0.4390" stop-color="#fcfdf3"/><stop offset="0.4516" stop-color="#fbfcef"/><stop offset="0.4641" stop-color="#fafbea"/><stop offset="0.4767" stop-color="#f8fae4"/><stop offset="0.4892" stop-color="#f6f8dc"/><stop offset="0.5017" stop-color="#f4f7d5"/><stop offset="0.5056" stop-color="#e3e76f"/><stop offset="0.5068" stop-color="#e2e66f"/><stop offset="0.5143" stop-color="#e2e66d"/><stop offset="0.5268" stop-color="#e2e669"/><stop offset="0.5394" stop-color="#e1e564"/><stop offset="0.5519" stop-color="#e0e45f"/><stop offset="0.5645" stop-color="#e0e459"/><stop offset="0.5770" stop-color="#dfe353"/><stop offset="0.5895" stop-color="#dde145"/><stop offset="0.6021" stop-color="#e1e23f"/><stop offset="0.6077" stop-color="#f2e328"/><stop offset="0.6088" stop-color="#f2e228"/><stop offset="0.6146" stop-color="#f4e126"/><stop offset="0.6272" stop-color="#f7dd23"/><stop offset="0.6397" stop-color="#f8d822"/><stop offset="0.6523" stop-color="#f8d222"/><stop offset="0.6648" stop-color="#f8cd22"/><stop offset="0.6774" stop-color="#f8c822"/><stop offset="0.6899" stop-color="#f8c222"/><stop offset="0.7024" stop-color="#f8ba22"/><stop offset="0.7097" stop-color="#f7b622"/><stop offset="0.7108" stop-color="#f69f24"/><stop offset="0.7150" stop-color="#f69e24"/><stop offset="0.7275" stop-color="#f59b24"/><stop offset="0.7401" stop-color="#f59925"/><stop offset="0.7777" stop-color="#f59925"/><stop offset="0.7902" stop-color="#f59924"/><stop offset="0.8028" stop-color="#f59a24"/><stop offset="0.8153" stop-color="#f59a24"/><stop offset="0.8279" stop-color="#f59c24"/><stop offset="0.8404" stop-color="#f59d24"/><stop offset="0.8530" stop-color="#f69e24"/><stop offset="0.8655" stop-color="#f6a023"/><stop offset="0.8780" stop-color="#f6a223"/><stop offset="0.8906" stop-color="#f6a323"/><stop offset="0.9031" stop-color="#f6a723"/><stop offset="0.9147" stop-color="#f7b222"/><stop offset="0.9157" stop-color="#f7b322"/><stop offset="0.9158" stop-color="#f7b322"/><stop offset="0.9282" stop-color="#f7b722"/><stop offset="0.9408" stop-color="#f8bb22"/><stop offset="0.9533" stop-color="#f8bd22"/><stop offset="0.9659" stop-color="#f8c122"/><stop offset="0.9784" stop-color="#f8c422"/><stop offset="0.9909" stop-color="#f8c622"/><stop offset="1.0000" stop-color="#f8c822"/></linearGradient><linearGradient id="g8" gradientUnits="userSpaceOnUse" x1="100.9" x2="818.4" y1="0" y2="0"><stop offset="0.0000" stop-color="#eff2bc"/><stop offset="0.0376" stop-color="#eff2bc"/><stop offset="0.0502" stop-color="#f0f3c4"/><stop offset="0.0627" stop-color="#f1f4c8"/><stop offset="0.0960" stop-color="#f1f4c8"/><stop offset="0.0971" stop-color="#ffffff"/><stop offset="0.4047" stop-color="#ffffff"/><stop offset="0.4139" stop-color="#fefefc"/><stop offset="0.4265" stop-color="#fdfdf7"/><stop offset="0.4390" stop-color="#fcfdf3"/><stop offset="0.4516" stop-color="#fbfcef"/><stop offset="0.4641" stop-color="#fafbea"/><stop offset="0.4767" stop-color="#f8fae4"/><stop offset="0.4892" stop-color="#f6f8dc"/><stop offset="0.5017" stop-color="#f4f7d5"/><stop offset="0.5056" stop-color="#e5e97f"/><stop offset="0.5068" stop-color="#e5e97f"/><stop offset="0.5143" stop-color="#e4e87d"/><stop offset="0.5268" stop-color="#e4e879"/><stop offset="0.5394" stop-color="#e3e773"/><stop offset="0.5519" stop-color="#e2e66c"/><stop offset="0.5645" stop-color="#e1e565"/><stop offset="0.5770" stop-color="#e0e45f"/><stop offset="0.5895" stop-color="#dee250"/><stop offset="0.6021" stop-color="#dfe143"/><stop offset="0.6077" stop-color="#eee52d"/><stop offset="0.6088" stop-color="#eee52d"/><stop offset="0.6146" stop-color="#f0e52a"/><stop offset="0.6272" stop-color="#f4e126"/><stop offset="0.6397" stop-color="#f6de24"/><stop offset="0.6523" stop-color="#f8db22"/><stop offset="0.6648" stop-color="#f8d522"/><stop offset="0.6774" stop-color="#f8d022"/><stop offset="0.6899" stop-color="#f8c922"/><stop offset="0.7024" stop-color="#f8c122"/><stop offset="0.7097" stop-color="#f8bd22"/><stop offset="0.7108" stop-color="#f6a723"/><stop offset="0.7150" stop-color="#f6a523"/><stop offset="0.7275" stop-color="#f6a223"/><stop offset="0.7401" stop-color="#f6a023"/><stop offset="0.8127" stop-color="#f6a023"/><stop offset="0.8138" stop-color="#f6a123"/><stop offset="0.8153" stop-color="#f6a123"/><stop offset="0.8279" stop-color="#f6a223"/><stop offset="0.8404" stop-color="#f6a323"/><stop offset="0.8530" stop-color="#f6a523"/><stop offset="0.8655" stop-color="#f6a723"/><stop offset="0.8780" stop-color="#f6aa23"/><stop offset="0.8906" stop-color="#f7ac23"/><stop offset="0.9031" stop-color="#f7af23"/><stop offset="0.9147" stop-color="#f8b922"/><stop offset="0.9158" stop-color="#f8b922"/><stop offset="0.9282" stop-color="#f8bd22"/><stop offset="0.9408" stop-color="#f8c122"/><stop offset="0.9533" stop-color="#f8c422"/><stop offset="0.9659" stop-color="#f8c722"/><stop offset="0.9784" stop-color="#f8ca22"/><stop offset="0.9909" stop-color="#f8cc22"/><stop offset="1.0000" stop-color="#f8ce22"/></linearGradient><linearGradient id="g9" gradientUnits="userSpaceOnUse" x1="100.9" x2="818.4" y1="0" y2="0"><stop offset="0.0000" stop-color="#eff2bc"/><stop offset="0.0376" stop-color="#eff2bc"/><stop offset="0.0502" stop-color="#f0f3c4"/><stop offset="0.0627" stop-color="#f1f4c8"/><stop offset="0.0960" stop-color="#f1f4c8"/><stop offset="0.0971" stop-color="#ffffff"/><stop offset="0.4047" stop-color="#ffffff"/><stop offset="0.4139" stop-color="#fefefc"/><stop offset="0.4265" stop-color="#fdfdf7"/><stop offset="0.4390" stop-color="#fcfdf3"/><stop offset="0.4516" stop-color="#fbfcef"/><stop offset="0.4641" stop-color="#fafbea"/><stop offset="0.4767" stop-color="#f8fae4"/><stop offset="0.4892" stop-color="#f6f8dc"/><stop offset="0.5017" stop-color="#f4f7d5"/><stop offset="0.5056" stop-color="#e7eb90"/><stop offset="0.5068" stop-color="#e7eb90"/><stop offset="0.5143" stop-color="#e6ea8d"/><stop offset="0.5268" stop-color="#e6ea88"/><stop offset="0.5394" stop-color="#e5e981"/><stop offset="0.5519" stop-color="#e4e879"/><stop offset="0.5645" stop-color="#e3e772"/><stop offset="0.5770" stop-color="#e2e66a"/><stop offset="0.5895" stop-color="#e0e45c"/><stop offset="0.6021" stop-color="#dee24a"/><stop offset="0.6077" stop-color="#e8e335"/><stop offset="0.6088" stop-color="#e9e335"/><stop offset="0.6146" stop-color="#ebe431"/><stop offset="0.6272" stop-color="#f0e52a"/><stop offset="0.6397" stop-color="#f3e227"/><stop offset="0.6523" stop-color="#f5df25"/><stop offset="0.6648" stop-color="#f7dd23"/><stop offset="0.6774" stop-color="#f8d822"/><stop offset="0.6899" stop-color="#f8d122"/><stop offset="0.7024" stop-color="#f8c922"/><stop offset="0.7097" stop-color="#f8c422"/><stop offset="0.7108" stop-color="#f7b023"/><stop offset="0.7150" stop-color="#f7af23"/><stop offset="0.7275" stop-color="#f7ab23"/><stop offset="0.7401" stop-color="#f6a823"/><stop offset="0.7902" stop-color="#f6a823"/><stop offset="0.8028" stop-color="#f6a923"/><stop offset="0.8153" stop-color="#f6a923"/><stop offset="0.8279" stop-color="#f7ab23"/><stop offset="0.8404" stop-color="#f7ad23"/><stop offset="0.8530" stop-color="#f7af23"/><stop offset="0.8655" stop-color="#f7b023"/><stop offset="0.8780" stop-color="#f7b222"/><stop offset="0.8906" stop-color="#f7b522"/><stop offset="0.9031" stop-color="#f7b722"/><stop offset="0.9147" stop-color="#f8c022"/><stop offset="0.9158" stop-color="#f8c022"/><stop offset="0.9282" stop-color="#f8c422"/><stop offset="0.9408" stop-color="#f8c722"/><stop offset="0.9533" stop-color="#f8ca22"/><stop offset="0.9659" stop-color="#f8cd22"/><stop offset="0.9784" stop-color="#f8d022"/><stop offset="0.9909" stop-color="#f8d322"/><stop offset="1.0000" stop-color="#f8d422"/></linearGradient><linearGradient id="g10" gradientUnits="userSpaceOnUse" x1="100.9" x2="818.4" y1="0" y2="0"><stop offset="0.0000" stop-color="#eff2bc"/><stop offset="0.0376" stop-color="#eff2bc"/><stop offset="0.0502" stop-color="#f0f3c4"/><stop offset="0.0627" stop-color="#f1f4c8"/><stop offset="0.0960" stop-color="#f1f4c8"/><stop offset="0.0971" stop-color="#ffffff"/><stop offset="0.4014" stop-color="#ffffff"/><stop offset="0.4036" stop-color="#fefefa"/><stop offset="0.4047" stop-color="#fbfcef"/><stop offset="0.4139" stop-color="#f9fae8"/><stop offset="0.4265" stop-color="#f9fae7"/><stop offset="0.4390" stop-color="#f8fae5"/><stop offset="0.4516" stop-color="#f8fae4"/><stop offset="0.4641" stop-color="#f8f9e2"/><stop offset="0.4767" stop-color="#f7f9e0"/><stop offset="0.4892" stop-color="#f6f8dd"/><stop offset="0.5017" stop-color="#f6f8db"/><stop offset="0.5056" stop-color="#ebeea4"/><stop offset="0.5068" stop-color="#ebeea4"/><stop offset="0.5143" stop-color="#eaeea0"/><stop offset="0.5268" stop-color="#e9ed9a"/><stop offset="0.5394" stop-color="#e7eb91"/><stop offset="0.5519" stop-color="#e6ea87"/><stop offset="0.5645" stop-color="#e5e97f"/><stop offset="0.5770" stop-color="#e3e776"/><stop offset="0.5895" stop-color="#e2e668"/><stop offset="0.6021" stop-color="#dfe357"/><stop offset="0.6077" stop-color="#e3e23c"/><stop offset="0.6088" stop-color="#e4e23c"/><stop offset="0.6146" stop-color="#e6e338"/><stop offset="0.6272" stop-color="#ebe431"/><stop offset="0.6397" stop-color="#efe52b"/><stop offset="0.6523" stop-color="#f2e328"/><stop offset="0.6648" stop-color="#f4e026"/><stop offset="0.6774" stop-color="#f7dd23"/><stop offset="0.6899" stop-color="#f8d922"/><stop offset="0.7024" stop-color="#f8d122"/><stop offset="0.7097" stop-color="#f8cc22"/><stop offset="0.7108" stop-color="#f8b922"/><stop offset="0.7150" stop-color="#f8b822"/><stop offset="0.7275" stop-color="#f7b422"/><stop offset="0.7401" stop-color="#f7b222"/><stop offset="0.8127" stop-color="#f7b222"/><stop offset="0.8138" stop-color="#f7b322"/><stop offset="0.8153" stop-color="#f7b322"/><stop offset="0.8279" stop-color="#f7b422"/><stop offset="0.8404" stop-color="#f7b622"/><stop offset="0.8530" stop-color="#f7b722"/><stop offset="0.8655" stop-color="#f8b922"/><stop offset="0.8780" stop-color="#f8bb22"/><stop offset="0.8906" stop-color="#f8bd22"/><stop offset="0.9031" stop-color="#f8bf22"/><stop offset="0.9147" stop-color="#f8c722"/><stop offset="0.9158" stop-color="#f8c722"/><stop offset="0.9282" stop-color="#f8cb22"/><stop offset="0.9408" stop-color="#f8ce22"/><stop offset="0.9533" stop-color="#f8d122"/><stop offset="0.9659" stop-color="#f8d422"/><stop offset="0.9784" stop-color="#f8d722"/><stop offset="0.9909" stop-color="#f8d922"/><stop offset="1.0000" stop-color="#f8da22"/></linearGradient><linearGradient id="g11" gradientUnits="userSpaceOnUse" x1="100.9" x2="818.4" y1="0" y2="0"><stop offset="0.0000" stop-color="#eff2bc"/><stop offset="0.0376" stop-color="#eff2bc"/><stop offset="0.0502" stop-color="#f0f3c4"/><stop offset="0.0627" stop-color="#f1f4c8"/><stop offset="0.0960" stop-color="#f1f4c8"/><stop offset="0.0971" stop-color="#ffffff"/><stop offset="0.4014" stop-color="#ffffff"/><stop offset="0.4036" stop-color="#fdfef8"/><stop offset="0.4047" stop-color="#f9fae6"/><stop offset="0.4139" stop-color="#f7f8de"/><stop offset="0.5017" stop-color="#f7f8de"/><stop offset="0.5056" stop-color="#eff2bc"/><stop offset="0.5068" stop-color="#eff2bc"/><stop offset="0.5143" stop-color="#eef1b8"/><stop offset="0.5268" stop-color="#edf0b1"/><stop offset="0.5394" stop-color="#ebefa7"/><stop offset="0.5519" stop-color="#e9ed9c"/><stop offset="0.5645" stop-color="#e7eb91"/><stop offset="0.5770" stop-color="#e6ea86"/><stop offset="0.5895" stop-color="#e4e877"/><stop offset="0.6021" stop-color="#e1e564"/><stop offset="0.6077" stop-color="#e2e23e"/><stop offset="0.6088" stop-color="#e3e23d"/><stop offset="0.6146" stop-color="#e5e33a"/><stop offset="0.6272" stop-color="#eae433"/><stop offset="0.6397" stop-color="#eee52d"/><stop offset="0.6523" stop-color="#f1e429"/><stop offset="0.6648" stop-color="#f3e227"/><stop offset="0.6774" stop-color="#f5e025"/><stop offset="0.6899" stop-color="#f7dd23"/><stop offset="0.7024" stop-color="#f8d722"/><stop offset="0.7097" stop-color="#f8d322"/><stop offset="0.7108" stop-color="#f8c022"/><stop offset="0.7150" stop-color="#f8bf22"/><stop offset="0.7275" stop-color="#f8bb22"/><stop offset="0.7401" stop-color="#f8b922"/><stop offset="0.7526" stop-color="#f8b822"/><stop offset="0.7652" stop-color="#f7b822"/><stop offset="0.7777" stop-color="#f7b722"/><stop offset="0.8127" stop-color="#f7b722"/><stop offset="0.8138" stop-color="#f7b822"/><stop offset="0.8153" stop-color="#f7b822"/><stop offset="0.8279" stop-color="#f8b922"/><stop offset="0.8404" stop-color="#f8ba22"/><stop offset="0.8530" stop-color="#f8bc22"/><stop offset="0.8655" stop-color="#f8be22"/><stop offset="0.8780" stop-color="#f8c022"/><stop offset="0.8906" stop-color="#f8c222"/><stop offset="0.9031" stop-color="#f8c522"/><stop offset="0.9147" stop-color="#f8ce22"/><stop offset="0.9158" stop-color="#f8ce22"/><stop offset="0.9282" stop-color="#f8d122"/><stop offset="0.9408" stop-color="#f8d422"/><stop offset="0.9533" stop-color="#f8d722"/><stop offset="0.9659" stop-color="#f8d922"/><stop offset="0.9784" stop-color="#f8dc22"/><stop offset="0.9909" stop-color="#f7dd23"/><stop offset="1.0000" stop-color="#f7dd23"/></linearGradient><linearGradient id="g12" gradientUnits="userSpaceOnUse" x1="100.9" x2="818.4" y1="0" y2="0"><stop offset="0.0000" stop-color="#eff2bc"/><stop offset="0.0376" stop-color="#eff2bc"/><stop offset="0.0502" stop-color="#f0f3c4"/><stop offset="0.0627" stop-color="#f1f4c8"/><stop offset="0.0960" stop-color="#f1f4c8"/><stop offset="0.0971" stop-color="#ffffff"/><stop offset="0.4014" stop-color="#ffffff"/><stop offset="0.4036" stop-color="#fdfef8"/><stop offset="0.4047" stop-color="#f9fae6"/><stop offset="0.4139" stop-color="#f7f8de"/><stop offset="0.5017" stop-color="#f7f8de"/><stop offset="0.5056" stop-color="#f4f6d3"/><stop offset="0.5068" stop-color="#f4f6d3"/><stop offset="0.5143" stop-color="#f3f5cf"/><stop offset="0.5268" stop-color="#f1f4c8"/><stop offset="0.5394" stop-color="#eff2bd"/><stop offset="0.5519" stop-color="#edf0b1"/><stop offset="0.5645" stop-color="#ebeea5"/><stop offset="0.5770" stop-color="#e9ec98"/><stop offset="0.5895" stop-color="#e5e986"/><stop offset="0.6021" stop-color="#e3e772"/><stop offset="0.6077" stop-color="#e1e23f"/><stop offset="0.6088" stop-color="#e2e23e"/><stop offset="0.6146" stop-color="#e4e23b"/><stop offset="0.6272" stop-color="#e8e335"/><stop offset="0.6397" stop-color="#ece42f"/><stop offset="0.6523" stop-color="#efe52b"/><stop offset="0.6648" stop-color="#f1e429"/><stop offset="0.6774" stop-color="#f3e227"/><stop offset="0.6899" stop-color="#f5e025"/><stop offset="0.7024" stop-color="#f7dd23"/><stop offset="0.7097" stop-color="#f8da22"/><stop offset="0.7108" stop-color="#f8c822"/><stop offset="0.7150" stop-color="#f8c622"/><stop offset="0.7275" stop-color="#f8c222"/><stop offset="0.7401" stop-color="#f8bf22"/><stop offset="0.7526" stop-color="#f8be22"/><stop offset="0.7652" stop-color="#f8be22"/><stop offset="0.7777" stop-color="#f8bd22"/><stop offset="0.8028" stop-color="#f8bd22"/><stop offset="0.8127" stop-color="#f8bc22"/><stop offset="0.8138" stop-color="#f8bd22"/><stop offset="0.8153" stop-color="#f8bd22"/><stop offset="0.8279" stop-color="#f8be22"/><stop offset="0.8404" stop-color="#f8bf22"/><stop offset="0.8530" stop-color="#f8c122"/><stop offset="0.8655" stop-color="#f8c322"/><stop offset="0.8780" stop-color="#f8c522"/><stop offset="0.8906" stop-color="#f8c722"/><stop offset="0.9031" stop-color="#f8cb22"/><stop offset="0.9147" stop-color="#f8d422"/><stop offset="0.9158" stop-color="#f8d422"/><stop offset="0.9282" stop-color="#f8d822"/><stop offset="0.9408" stop-color="#f8db22"/><stop offset="0.9533" stop-color="#f8dc22"/><stop offset="0.9659" stop-color="#f7dd23"/><stop offset="0.9784" stop-color="#f6de24"/><stop offset="0.9909" stop-color="#f5df25"/><stop offset="1.0000" stop-color="#f5e025"/></linearGradient><linearGradient id="g13" gradientUnits="userSpaceOnUse" x1="100.9" x2="818.4" y1="0" y2="0"><stop offset="0.0000" stop-color="#eff2bc"/><stop offset="0.0376" stop-color="#eff2bc"/><stop offset="0.0502" stop-color="#f0f3c4"/><stop offset="0.0627" stop-color="#f1f4c8"/><stop offset="0.0960" stop-color="#f1f4c8"/><stop offset="0.0971" stop-color="#ffffff"/><stop offset="0.4014" stop-color="#ffffff"/><stop offset="0.4036" stop-color="#fdfef8"/><stop offset="0.4047" stop-color="#f9fae6"/><stop offset="0.4139" stop-color="#f7f8de"/><stop offset="0.5017" stop-color="#f7f8de"/><stop offset="0.5056" stop-color="#f9fbe9"/><stop offset="0.5068" stop-color="#f9fae8"/><stop offset="0.5143" stop-color="#f8fae4"/><stop offset="0.5268" stop-color="#f6f8dd"/><stop offset="0.5394" stop-color="#f4f6d2"/><stop offset="0.5519" stop-color="#f1f4c6"/><stop offset="0.5645" stop-color="#eef2b9"/><stop offset="0.5770" stop-color="#ecefab"/><stop offset="0.5895" stop-color="#e8ec96"/><stop offset="0.6021" stop-color="#e5e97f"/><stop offset="0.6077" stop-color="#e0e240"/><stop offset="0.6088" stop-color="#e1e240"/><stop offset="0.6146" stop-color="#e3e23d"/><stop offset="0.6272" stop-color="#e7e336"/><stop offset="0.6397" stop-color="#ebe432"/><stop offset="0.6523" stop-color="#ede42f"/><stop offset="0.6648" stop-color="#efe52b"/><stop offset="0.6774" stop-color="#f1e429"/><stop offset="0.6899" stop-color="#f2e228"/><stop offset="0.7024" stop-color="#f5e025"/><stop offset="0.7097" stop-color="#f6de24"/><stop offset="0.7108" stop-color="#f8cf22"/><stop offset="0.7150" stop-color="#f8ce22"/><stop offset="0.7275" stop-color="#f8ca22"/><stop offset="0.7401" stop-color="#f8c722"/><stop offset="0.7526" stop-color="#f8c622"/><stop offset="0.7652" stop-color="#f8c522"/><stop offset="0.7777" stop-color="#f8c322"/><stop offset="0.7902" stop-color="#f8c322"/><stop offset="0.8028" stop-color="#f8c222"/><stop offset="0.8153" stop-color="#f8c222"/><stop offset="0.8279" stop-color="#f8c322"/><stop offset="0.8404" stop-color="#f8c522"/><stop offset="0.8530" stop-color="#f8c722"/><stop offset="0.8655" stop-color="#f8c922"/><stop offset="0.8780" stop-color="#f8cb22"/><stop offset="0.8906" stop-color="#f8cd22"/><stop offset="0.9031" stop-color="#f8d022"/><stop offset="0.9147" stop-color="#f8db22"/><stop offset="0.9158" stop-color="#f8db22"/><stop offset="0.9282" stop-color="#f7dd23"/><stop offset="0.9408" stop-color="#f6de24"/><stop offset="0.9533" stop-color="#f5df25"/><stop offset="0.9659" stop-color="#f4e026"/><stop offset="0.9784" stop-color="#f4e126"/><stop offset="0.9909" stop-color="#f3e227"/><stop offset="1.0000" stop-color="#f3e227"/></linearGradient><linearGradient id="g14" gradientUnits="userSpaceOnUse" x1="100.9" x2="818.4" y1="0" y2="0"><stop offset="0.0000" stop-color="#eff2bc"/><stop offset="0.0376" stop-color="#eff2bc"/><stop offset="0.0502" stop-color="#f0f3c4"/><stop offset="0.0627" stop-color="#f1f4c8"/><stop offset="0.0960" stop-color="#f1f4c8"/><stop offset="0.0971" stop-color="#ffffff"/><stop offset="0.4014" stop-color="#ffffff"/><stop offset="0.4036" stop-color="#fdfef8"/><stop offset="0.4047" stop-color="#f9fae6"/><stop offset="0.4139" stop-color="#f7f8de"/><stop offset="0.5017" stop-color="#f7f8de"/><stop offset="0.5056" stop-color="#fbfcf1"/><stop offset="0.5068" stop-color="#fbfcf0"/><stop offset="0.5143" stop-color="#fafbec"/><stop offset="0.5268" stop-color="#f8fae5"/><stop offset="0.5394" stop-color="#f6f8db"/><stop offset="0.5519" stop-color="#f3f6d0"/><stop offset="0.5645" stop-color="#f0f3c4"/><stop offset="0.5770" stop-color="#eef1b7"/><stop offset="0.5895" stop-color="#eaeea3"/><stop offset="0.6021" stop-color="#e6ea8a"/><stop offset="0.6077" stop-color="#dee143"/><stop offset="0.6088" stop-color="#dfe143"/><stop offset="0.6146" stop-color="#e0e240"/><stop offset="0.6272" stop-color="#e5e33a"/><stop offset="0.6397" stop-color="#e8e336"/><stop offset="0.6523" stop-color="#eae433"/><stop offset="0.6648" stop-color="#ece430"/><stop offset="0.6774" stop-color="#eee52d"/><stop offset="0.6899" stop-color="#f0e52a"/><stop offset="0.7024" stop-color="#f2e228"/><stop offset="0.7097" stop-color="#f3e127"/><stop offset="0.7108" stop-color="#f8d822"/><stop offset="0.7150" stop-color="#f8d622"/><stop offset="0.7275" stop-color="#f8d222"/><stop offset="0.7401" stop-color="#f8cf22"/><stop offset="0.7526" stop-color="#f8ce22"/><stop offset="0.7652" stop-color="#f8cd22"/><stop offset="0.7777" stop-color="#f8cb22"/><stop offset="0.7902" stop-color="#f8ca22"/><stop offset="0.8028" stop-color="#f8c922"/><stop offset="0.8153" stop-color="#f8c922"/><stop offset="0.8279" stop-color="#f8ca22"/><stop offset="0.8404" stop-color="#f8cb22"/><stop offset="0.8530" stop-color="#f8cd22"/><stop offset="0.8655" stop-color="#f8cf22"/><stop offset="0.8780" stop-color="#f8d122"/><stop offset="0.8906" stop-color="#f8d322"/><stop offset="0.9031" stop-color="#f8d622"/><stop offset="0.9147" stop-color="#f6de24"/><stop offset="0.9158" stop-color="#f6de24"/><stop offset="0.9282" stop-color="#f5df25"/><stop offset="0.9408" stop-color="#f4e126"/><stop offset="0.9533" stop-color="#f3e127"/><stop offset="0.9659" stop-color="#f3e227"/><stop offset="0.9784" stop-color="#f2e328"/><stop offset="0.9909" stop-color="#f1e329"/><stop offset="1.0000" stop-color="#f1e429"/></linearGradient><linearGradient id="g15" gradientUnits="userSpaceOnUse" x1="100.9" x2="818.4" y1="0" y2="0"><stop offset="0.0000" stop-color="#eff2bc"/><stop offset="0.0376" stop-color="#eff2bc"/><stop offset="0.0502" stop-color="#f0f3c4"/><stop offset="0.0627" stop-color="#f1f4c8"/><stop offset="0.0960" stop-color="#f1f4c8"/><stop offset="0.0971" stop-color="#ffffff"/><stop offset="0.4014" stop-color="#ffffff"/><stop offset="0.4036" stop-color="#fdfef8"/><stop offset="0.4047" stop-color="#f9fae6"/><stop offset="0.4139" stop-color="#f7f8de"/><stop offset="0.5017" stop-color="#f7f8de"/><stop offset="0.5056" stop-color="#fcfdf3"/><stop offset="0.5068" stop-color="#fcfdf3"/><stop offset="0.5143" stop-color="#fbfcef"/><stop offset="0.5268" stop-color="#f9fbe9"/><stop offset="0.5394" stop-color="#f7f9e0"/><stop offset="0.5519" stop-color="#f5f7d6"/><stop offset="0.5645" stop-color="#f2f5cc"/><stop offset="0.5770" stop-color="#f0f3c0"/><stop offset="0.5895" stop-color="#ecf0ad"/><stop offset="0.6021" stop-color="#e8ec96"/><stop offset="0.6077" stop-color="#dee24d"/><stop offset="0.6088" stop-color="#dee24c"/><stop offset="0.6146" stop-color="#dde144"/><stop offset="0.6272" stop-color="#e2e23f"/><stop offset="0.6397" stop-color="#e4e33b"/><stop offset="0.6523" stop-color="#e6e338"/><stop offset="0.6648" stop-color="#e8e335"/><stop offset="0.6774" stop-color="#eae433"/><stop offset="0.6899" stop-color="#ece42f"/><stop offset="0.7024" stop-color="#f0e52b"/><stop offset="0.7097" stop-color="#f1e429"/><stop offset="0.7108" stop-color="#f6de24"/><stop offset="0.7150" stop-color="#f7dd23"/><stop offset="0.7275" stop-color="#f8db22"/><stop offset="0.7401" stop-color="#f8d822"/><stop offset="0.7526" stop-color="#f8d622"/><stop offset="0.7652" stop-color="#f8d522"/><stop offset="0.7777" stop-color="#f8d422"/><stop offset="0.7902" stop-color="#f8d222"/><stop offset="0.8028" stop-color="#f8d122"/><stop offset="0.8127" stop-color="#f8d022"/><stop offset="0.8153" stop-color="#f8d022"/><stop offset="0.8279" stop-color="#f8d122"/><stop offset="0.8404" stop-color="#f8d222"/><stop offset="0.8530" stop-color="#f8d422"/><stop offset="0.8655" stop-color="#f8d622"/><stop offset="0.8780" stop-color="#f8d722"/><stop offset="0.8906" stop-color="#f8d922"/><stop offset="0.9031" stop-color="#f8dc22"/><stop offset="0.9147" stop-color="#f4e026"/><stop offset="0.9158" stop-color="#f4e026"/><stop offset="0.9282" stop-color="#f3e127"/><stop offset="0.9408" stop-color="#f2e228"/><stop offset="0.9533" stop-color="#f2e328"/><stop offset="0.9659" stop-color="#f1e429"/><stop offset="0.9784" stop-color="#f0e52a"/><stop offset="0.9909" stop-color="#f0e52a"/><stop offset="1.0000" stop-color="#f0e52b"/></linearGradient><linearGradient id="g16" gradientUnits="userSpaceOnUse" x1="100.9" x2="818.4" y1="0" y2="0"><stop offset="0.0000" stop-color="#eff2bc"/><stop offset="0.0376" stop-color="#eff2bc"/><stop offset="0.0502" stop-color="#f0f3c4"/><stop offset="0.0627" stop-color="#f1f4c8"/><stop offset="0.0960" stop-color="#f1f4c8"/><stop offset="0.0971" stop-color="#ffffff"/><stop offset="0.4014" stop-color="#ffffff"/><stop offset="0.4036" stop-color="#fdfef8"/><stop offset="0.4047" stop-color="#f9fae6"/><stop offset="0.4139" stop-color="#f7f8de"/><stop offset="0.5017" stop-color="#f7f8de"/><stop offset="0.5056" stop-color="#fdfdf6"/><stop offset="0.5068" stop-color="#fdfdf5"/><stop offset="0.5143" stop-color="#fcfcf2"/><stop offset="0.5268" stop-color="#fafbed"/><stop offset="0.5394" stop-color="#f8fae5"/><stop offset="0.5519" stop-color="#f6f8dc"/><stop offset="0.5645" stop-color="#f4f6d2"/><stop offset="0.5770" stop-color="#f1f4c9"/><stop offset="0.5895" stop-color="#eef1b8"/><stop offset="0.6021" stop-color="#eaeea2"/><stop offset="0.6077" stop-color="#e0e45b"/><stop offset="0.6088" stop-color="#e0e459"/><stop offset="0.6146" stop-color="#dfe351"/><stop offset="0.6272" stop-color="#dee143"/><stop offset="0.6397" stop-color="#e1e23f"/><stop offset="0.6523" stop-color="#e3e23d"/><stop offset="0.6648" stop-color="#e4e33a"/><stop offset="0.6774" stop-color="#e6e338"/><stop offset="0.6899" stop-color="#e8e335"/><stop offset="0.7024" stop-color="#ebe431"/><stop offset="0.7097" stop-color="#ede42e"/><stop offset="0.7108" stop-color="#f3e227"/><stop offset="0.7150" stop-color="#f4e126"/><stop offset="0.7275" stop-color="#f5df25"/><stop offset="0.7401" stop-color="#f6de24"/><stop offset="0.7526" stop-color="#f7dd23"/><stop offset="0.7652" stop-color="#f7dd23"/><stop offset="0.7777" stop-color="#f8dc22"/><stop offset="0.7902" stop-color="#f8db22"/><stop offset="0.8028" stop-color="#f8d922"/><stop offset="0.8127" stop-color="#f8d722"/><stop offset="0.8153" stop-color="#f8d722"/><stop offset="0.8279" stop-color="#f8d822"/><stop offset="0.8404" stop-color="#f8d922"/><stop offset="0.8530" stop-color="#f8da22"/><stop offset="0.8655" stop-color="#f8dc22"/><stop offset="0.8780" stop-color="#f7dd23"/><stop offset="0.8906" stop-color="#f7dd23"/><stop offset="0.9031" stop-color="#f6df24"/><stop offset="0.9147" stop-color="#f2e228"/><stop offset="0.9158" stop-color="#f2e228"/><stop offset="0.9282" stop-color="#f1e329"/><stop offset="0.9408" stop-color="#f1e429"/><stop offset="0.9533" stop-color="#f0e52a"/><stop offset="0.9659" stop-color="#efe52b"/><stop offset="0.9784" stop-color="#eee52c"/><stop offset="0.9909" stop-color="#eee42d"/><stop offset="1.0000" stop-color="#ede42e"/></linearGradient><linearGradient id="g17" gradientUnits="userSpaceOnUse" x1="100.9" x2="818.4" y1="0" y2="0"><stop offset="0.0000" stop-color="#eff2bc"/><stop offset="0.0376" stop-color="#eff2bc"/><stop offset="0.0502" stop-color="#f0f3c4"/><stop offset="0.0627" stop-color="#f1f4c8"/><stop offset="0.0960" stop-color="#f1f4c8"/><stop offset="0.0971" stop-color="#ffffff"/><stop offset="0.4014" stop-color="#ffffff"/><stop offset="0.4036" stop-color="#fdfef8"/><stop offset="0.4047" stop-color="#f9fae6"/><stop offset="0.4139" stop-color="#f7f8de"/><stop offset="0.5017" stop-color="#f7f8de"/><stop offset="0.5056" stop-color="#fdfef8"/><stop offset="0.5068" stop-color="#fdfef8"/><stop offset="0.5143" stop-color="#fcfdf5"/><stop offset="0.5268" stop-color="#fbfcf0"/><stop offset="0.5394" stop-color="#f9fbe9"/><stop offset="0.5519" stop-color="#f7f9e1"/><stop offset="0.5645" stop-color="#f5f7d9"/><stop offset="0.5770" stop-color="#f3f6d1"/><stop offset="0.5895" stop-color="#f0f3c2"/><stop offset="0.6021" stop-color="#ecf0ae"/><stop offset="0.6077" stop-color="#e2e669"/><stop offset="0.6088" stop-color="#e1e567"/><stop offset="0.6146" stop-color="#e0e45f"/><stop offset="0.6272" stop-color="#dee24e"/><stop offset="0.6397" stop-color="#dee144"/><stop offset="0.6523" stop-color="#dfe142"/><stop offset="0.6648" stop-color="#e1e240"/><stop offset="0.6774" stop-color="#e2e23d"/><stop offset="0.6899" stop-color="#e5e33a"/><stop offset="0.7024" stop-color="#e7e337"/><stop offset="0.7097" stop-color="#e9e334"/><stop offset="0.7108" stop-color="#efe52b"/><stop offset="0.7150" stop-color="#f0e52a"/><stop offset="0.7275" stop-color="#f2e328"/><stop offset="0.7401" stop-color="#f3e227"/><stop offset="0.7526" stop-color="#f3e127"/><stop offset="0.7652" stop-color="#f4e126"/><stop offset="0.7777" stop-color="#f5e025"/><stop offset="0.7902" stop-color="#f5df25"/><stop offset="0.8028" stop-color="#f6df24"/><stop offset="0.8127" stop-color="#f7dd23"/><stop offset="0.8279" stop-color="#f7dd23"/><stop offset="0.8404" stop-color="#f6de24"/><stop offset="0.8530" stop-color="#f6de24"/><stop offset="0.8655" stop-color="#f5df25"/><stop offset="0.8780" stop-color="#f5e025"/><stop offset="0.8906" stop-color="#f4e026"/><stop offset="0.9031" stop-color="#f3e127"/><stop offset="0.9147" stop-color="#f0e42a"/><stop offset="0.9157" stop-color="#f0e52a"/><stop offset="0.9158" stop-color="#f0e52a"/><stop offset="0.9282" stop-color="#efe52b"/><stop offset="0.9408" stop-color="#eee52d"/><stop offset="0.9533" stop-color="#ede42e"/><stop offset="0.9659" stop-color="#ede42f"/><stop offset="0.9784" stop-color="#ece430"/><stop offset="0.9909" stop-color="#ebe431"/><stop offset="1.0000" stop-color="#ebe431"/></linearGradient><linearGradient id="g18" gradientUnits="userSpaceOnUse" x1="100.9" x2="818.4" y1="0" y2="0"><stop offset="0.0000" stop-color="#f2f5cb"/><stop offset="0.0376" stop-color="#f2f5cb"/><stop offset="0.0502" stop-color="#f3f6d1"/><stop offset="0.0627" stop-color="#f4f6d4"/><stop offset="0.0960" stop-color="#f4f6d4"/><stop offset="0.0971" stop-color="#ffffff"/><stop offset="0.4014" stop-color="#ffffff"/><stop offset="0.4036" stop-color="#fdfef8"/><stop offset="0.4047" stop-color="#f9fbe9"/><stop offset="0.4139" stop-color="#f7f9e1"/><stop offset="0.5017" stop-color="#f7f9e1"/><stop offset="0.5056" stop-color="#fdfef8"/><stop offset="0.5068" stop-color="#fdfef8"/><stop offset="0.5143" stop-color="#fcfdf5"/><stop offset="0.5268" stop-color="#fbfcf0"/><stop offset="0.5394" stop-color="#f9fbe9"/><stop offset="0.5519" stop-color="#f7f9e1"/><stop offset="0.5645" stop-color="#f5f7d9"/><stop offset="0.5770" stop-color="#f3f6d1"/><stop offset="0.5895" stop-color="#f0f3c3"/><stop offset="0.6021" stop-color="#edf0b1"/><stop offset="0.6077" stop-color="#e4e879"/><stop offset="0.6088" stop-color="#e4e877"/><stop offset="0.6146" stop-color="#e3e770"/><stop offset="0.6272" stop-color="#e1e560"/><stop offset="0.6397" stop-color="#dfe354"/><stop offset="0.6523" stop-color="#dee24c"/><stop offset="0.6648" stop-color="#dde144"/><stop offset="0.6774" stop-color="#dfe142"/><stop offset="0.6899" stop-color="#e1e23f"/><stop offset="0.7024" stop-color="#e4e23b"/><stop offset="0.7097" stop-color="#e5e339"/><stop offset="0.7108" stop-color="#ebe431"/><stop offset="0.7150" stop-color="#ece430"/><stop offset="0.7275" stop-color="#eee52d"/><stop offset="0.7401" stop-color="#efe52b"/><stop offset="0.7526" stop-color="#f0e52a"/><stop offset="0.7652" stop-color="#f1e429"/><stop offset="0.7777" stop-color="#f1e329"/><stop offset="0.7902" stop-color="#f2e328"/><stop offset="0.8028" stop-color="#f3e227"/><stop offset="0.8127" stop-color="#f4e126"/><stop offset="0.8404" stop-color="#f4e126"/><stop offset="0.8530" stop-color="#f3e127"/><stop offset="0.8655" stop-color="#f3e227"/><stop offset="0.8780" stop-color="#f2e228"/><stop offset="0.8906" stop-color="#f2e328"/><stop offset="0.9031" stop-color="#f1e429"/><stop offset="0.9147" stop-color="#eee52d"/><stop offset="0.9158" stop-color="#eee52d"/><stop offset="0.9282" stop-color="#ede42e"/><stop offset="0.9408" stop-color="#ece430"/><stop offset="0.9533" stop-color="#ece430"/><stop offset="0.9659" stop-color="#ebe431"/><stop offset="0.9784" stop-color="#eae432"/><stop offset="0.9909" stop-color="#eae432"/><stop offset="1.0000" stop-color="#eae433"/></linearGradient><linearGradient id="g19" gradientUnits="userSpaceOnUse" x1="100.9" x2="818.4" y1="0" y2="0"><stop offset="0.0000" stop-color="#fefefe"/><stop offset="0.2258" stop-color="#fefefe"/><stop offset="0.2383" stop-color="#ffffff"/><stop offset="0.4014" stop-color="#ffffff"/><stop offset="0.4036" stop-color="#fefefc"/><stop offset="0.4047" stop-color="#fdfdf7"/><stop offset="0.4139" stop-color="#fcfdf4"/><stop offset="0.5017" stop-color="#fcfdf4"/><stop offset="0.5056" stop-color="#fdfef8"/><stop offset="0.5068" stop-color="#fdfef8"/><stop offset="0.5143" stop-color="#fcfdf5"/><stop offset="0.5268" stop-color="#fbfcf0"/><stop offset="0.5394" stop-color="#f9fbe9"/><stop offset="0.5519" stop-color="#f7f9e1"/><stop offset="0.5645" stop-color="#f5f7d9"/><stop offset="0.5770" stop-color="#f3f6d1"/><stop offset="0.5895" stop-color="#f0f3c4"/><stop offset="0.6021" stop-color="#eef1b5"/><stop offset="0.6077" stop-color="#e6ea88"/><stop offset="0.6088" stop-color="#e6ea87"/><stop offset="0.6146" stop-color="#e5e980"/><stop offset="0.6272" stop-color="#e3e772"/><stop offset="0.6397" stop-color="#e1e567"/><stop offset="0.6523" stop-color="#e0e45d"/><stop offset="0.6648" stop-color="#dfe354"/><stop offset="0.6774" stop-color="#dee24b"/><stop offset="0.6899" stop-color="#dee144"/><stop offset="0.7024" stop-color="#e0e240"/><stop offset="0.7097" stop-color="#e2e23e"/><stop offset="0.7108" stop-color="#e6e338"/><stop offset="0.7150" stop-color="#e7e337"/><stop offset="0.7275" stop-color="#e9e334"/><stop offset="0.7401" stop-color="#eae432"/><stop offset="0.7526" stop-color="#ebe431"/><stop offset="0.7652" stop-color="#ece42f"/><stop offset="0.7777" stop-color="#ede42e"/><stop offset="0.7902" stop-color="#eee52d"/><stop offset="0.8028" stop-color="#efe52c"/><stop offset="0.8127" stop-color="#f1e429"/><stop offset="0.8404" stop-color="#f1e429"/><stop offset="0.8530" stop-color="#f0e52a"/><stop offset="0.8780" stop-color="#f0e52a"/><stop offset="0.8906" stop-color="#efe52b"/><stop offset="0.9031" stop-color="#efe52c"/><stop offset="0.9147" stop-color="#ebe431"/><stop offset="0.9158" stop-color="#ebe431"/><stop offset="0.9282" stop-color="#ebe432"/><stop offset="0.9408" stop-color="#eae433"/><stop offset="0.9533" stop-color="#eae433"/><stop offset="0.9659" stop-color="#e9e433"/><stop offset="0.9784" stop-color="#e9e434"/><stop offset="0.9909" stop-color="#e9e334"/><stop offset="1.0000" stop-color="#e9e334"/></linearGradient><linearGradient id="g20" gradientUnits="userSpaceOnUse" x1="100.9" x2="818.4" y1="0" y2="0"><stop offset="0.0000" stop-color="#fdfdfd"/><stop offset="0.2258" stop-color="#fdfdfd"/><stop offset="0.2383" stop-color="#fefefe"/><stop offset="0.2509" stop-color="#ffffff"/><stop offset="0.5017" stop-color="#ffffff"/><stop offset="0.5056" stop-color="#fdfef8"/><stop offset="0.5068" stop-color="#fdfef8"/><stop offset="0.5143" stop-color="#fcfdf5"/><stop offset="0.5268" stop-color="#fbfcf0"/><stop offset="0.5394" stop-color="#f9fbe9"/><stop offset="0.5519" stop-color="#f7f9e1"/><stop offset="0.5645" stop-color="#f5f7d9"/><stop offset="0.5770" stop-color="#f3f6d1"/><stop offset="0.5895" stop-color="#f1f4c6"/><stop offset="0.6021" stop-color="#eef1b8"/><stop offset="0.6077" stop-color="#e9ed9a"/><stop offset="0.6088" stop-color="#e9ec99"/><stop offset="0.6146" stop-color="#e7eb92"/><stop offset="0.6272" stop-color="#e5e984"/><stop offset="0.6397" stop-color="#e4e879"/><stop offset="0.6523" stop-color="#e2e66f"/><stop offset="0.6648" stop-color="#e1e564"/><stop offset="0.6774" stop-color="#e0e45a"/><stop offset="0.6899" stop-color="#dee250"/><stop offset="0.7024" stop-color="#dde145"/><stop offset="0.7097" stop-color="#dee143"/><stop offset="0.7108" stop-color="#e2e23e"/><stop offset="0.7150" stop-color="#e2e23d"/><stop offset="0.7275" stop-color="#e4e23b"/><stop offset="0.7401" stop-color="#e5e339"/><stop offset="0.7526" stop-color="#e6e338"/><stop offset="0.7652" stop-color="#e7e337"/><stop offset="0.7777" stop-color="#e8e336"/><stop offset="0.7902" stop-color="#e9e334"/><stop offset="0.8028" stop-color="#eae433"/><stop offset="0.8127" stop-color="#ece430"/><stop offset="0.8279" stop-color="#ece430"/><stop offset="0.8404" stop-color="#ece42f"/><stop offset="0.8530" stop-color="#ece430"/><stop offset="0.8906" stop-color="#ece430"/><stop offset="0.9031" stop-color="#ebe431"/><stop offset="0.9147" stop-color="#e9e334"/><stop offset="0.9158" stop-color="#e9e334"/><stop offset="0.9282" stop-color="#e8e335"/><stop offset="0.9408" stop-color="#e8e336"/><stop offset="0.9909" stop-color="#e8e336"/><stop offset="1.0000" stop-color="#e7e336"/></linearGradient><linearGradient id="g21" gradientUnits="userSpaceOnUse" x1="100.9" x2="818.4" y1="0" y2="0"><stop offset="0.0000" stop-color="#fdfdfd"/><stop offset="0.2258" stop-color="#fdfdfd"/><stop offset="0.2383" stop-color="#fefefe"/><stop offset="0.2509" stop-color="#ffffff"/><stop offset="0.5017" stop-color="#ffffff"/><stop offset="0.5056" stop-color="#fdfef8"/><stop offset="0.5068" stop-color="#fdfef8"/><stop offset="0.5143" stop-color="#fcfdf5"/><stop offset="0.5268" stop-color="#fbfcf0"/><stop offset="0.5394" stop-color="#fafbe9"/><stop offset="0.5519" stop-color="#f8f9e2"/><stop offset="0.5645" stop-color="#f5f8da"/><stop offset="0.5770" stop-color="#f3f6d2"/><stop offset="0.5895" stop-color="#f1f4c8"/><stop offset="0.6021" stop-color="#eff2bb"/><stop offset="0.6077" stop-color="#ebeea4"/><stop offset="0.6088" stop-color="#eaeea3"/><stop offset="0.6146" stop-color="#e9ed9c"/><stop offset="0.6272" stop-color="#e7eb8e"/><stop offset="0.6397" stop-color="#e5e982"/><stop offset="0.6523" stop-color="#e4e878"/><stop offset="0.6648" stop-color="#e2e66d"/><stop offset="0.6774" stop-color="#e1e563"/><stop offset="0.6899" stop-color="#dfe358"/><stop offset="0.7024" stop-color="#dee24d"/><stop offset="0.7097" stop-color="#dde147"/><stop offset="0.7108" stop-color="#dfe242"/><stop offset="0.7150" stop-color="#e0e241"/><stop offset="0.7275" stop-color="#e1e23f"/><stop offset="0.7401" stop-color="#e3e23d"/><stop offset="0.7526" stop-color="#e3e23c"/><stop offset="0.7652" stop-color="#e4e33b"/><stop offset="0.7777" stop-color="#e5e33a"/><stop offset="0.7902" stop-color="#e6e338"/><stop offset="0.8028" stop-color="#e7e337"/><stop offset="0.8127" stop-color="#e9e434"/><stop offset="0.8153" stop-color="#e9e434"/><stop offset="0.8279" stop-color="#e9e433"/><stop offset="0.8404" stop-color="#eae433"/><stop offset="0.8906" stop-color="#eae433"/><stop offset="0.9031" stop-color="#e9e434"/><stop offset="0.9147" stop-color="#e7e337"/><stop offset="0.9282" stop-color="#e7e337"/><stop offset="0.9408" stop-color="#e6e338"/><stop offset="1.0000" stop-color="#e6e338"/></linearGradient><linearGradient id="g22" gradientUnits="userSpaceOnUse" x1="100.9" x2="818.4" y1="0" y2="0"><stop offset="0.0000" stop-color="#fdfdfd"/><stop offset="0.2258" stop-color="#fdfdfd"/><stop offset="0.2383" stop-color="#fefefe"/><stop offset="0.2509" stop-color="#ffffff"/><stop offset="0.5017" stop-color="#ffffff"/><stop offset="0.5056" stop-color="#fdfef9"/><stop offset="0.5068" stop-color="#fdfef8"/><stop offset="0.5143" stop-color="#fdfdf6"/><stop offset="0.5268" stop-color="#fbfcf1"/><stop offset="0.5394" stop-color="#fafbea"/><stop offset="0.5519" stop-color="#f8f9e3"/><stop offset="0.5645" stop-color="#f6f8db"/><stop offset="0.5770" stop-color="#f4f6d4"/><stop offset="0.5895" stop-color="#f2f4ca"/><stop offset="0.6021" stop-color="#eff2bf"/><stop offset="0.6077" stop-color="#ecefaa"/><stop offset="0.6088" stop-color="#ebefa8"/><stop offset="0.6146" stop-color="#eaeea2"/><stop offset="0.6272" stop-color="#e8ec94"/><stop offset="0.6397" stop-color="#e6ea87"/><stop offset="0.6523" stop-color="#e4e87c"/><stop offset="0.6648" stop-color="#e3e772"/><stop offset="0.6774" stop-color="#e1e567"/><stop offset="0.6899" stop-color="#e0e45c"/><stop offset="0.7024" stop-color="#dfe351"/><stop offset="0.7097" stop-color="#dee24b"/><stop offset="0.7108" stop-color="#dee143"/><stop offset="0.7150" stop-color="#dfe142"/><stop offset="0.7275" stop-color="#e0e240"/><stop offset="0.7401" stop-color="#e1e23f"/><stop offset="0.7526" stop-color="#e2e23e"/><stop offset="0.7652" stop-color="#e3e23c"/><stop offset="0.7777" stop-color="#e4e23b"/><stop offset="0.7902" stop-color="#e5e33a"/><stop offset="0.8028" stop-color="#e5e339"/><stop offset="0.8127" stop-color="#e8e336"/><stop offset="0.8153" stop-color="#e8e336"/><stop offset="0.8279" stop-color="#e8e335"/><stop offset="0.8404" stop-color="#e9e335"/><stop offset="0.8906" stop-color="#e9e335"/><stop offset="0.9031" stop-color="#e8e335"/><stop offset="0.9147" stop-color="#e6e338"/><stop offset="0.9158" stop-color="#e6e338"/><stop offset="0.9282" stop-color="#e5e339"/><stop offset="1.0000" stop-color="#e5e339"/></linearGradient><linearGradient id="g23" gradientUnits="userSpaceOnUse" x1="100.9" x2="818.4" y1="0" y2="0"><stop offset="0.0000" stop-color="#fdfdfd"/><stop offset="0.2258" stop-color="#fdfdfd"/><stop offset="0.2383" stop-color="#fefefe"/><stop offset="0.2509" stop-color="#ffffff"/><stop offset="0.5017" stop-color="#ffffff"/><stop offset="0.5056" stop-color="#fdfef9"/><stop offset="0.5068" stop-color="#fdfef9"/><stop offset="0.5143" stop-color="#fdfdf6"/><stop offset="0.5268" stop-color="#fcfcf2"/><stop offset="0.5394" stop-color="#fafbeb"/><stop offset="0.5519" stop-color="#f8fae4"/><stop offset="0.5645" stop-color="#f6f8dd"/><stop offset="0.5770" stop-color="#f4f7d6"/><stop offset="0.5895" stop-color="#f2f5cd"/><stop offset="0.6021" stop-color="#f0f3c2"/><stop offset="0.6077" stop-color="#edf0af"/><stop offset="0.6088" stop-color="#ecf0ae"/><stop offset="0.6146" stop-color="#ebefa7"/><stop offset="0.6272" stop-color="#e9ec99"/><stop offset="0.6397" stop-color="#e6ea8c"/><stop offset="0.6523" stop-color="#e5e981"/><stop offset="0.6648" stop-color="#e3e776"/><stop offset="0.6774" stop-color="#e2e66c"/><stop offset="0.6899" stop-color="#e1e561"/><stop offset="0.7024" stop-color="#dfe356"/><stop offset="0.7097" stop-color="#dee24f"/><stop offset="0.7108" stop-color="#dde145"/><stop offset="0.7150" stop-color="#dee144"/><stop offset="0.7275" stop-color="#dfe142"/><stop offset="0.7401" stop-color="#e0e240"/><stop offset="0.7526" stop-color="#e1e23f"/><stop offset="0.7652" stop-color="#e2e23e"/><stop offset="0.7777" stop-color="#e3e23d"/><stop offset="0.7902" stop-color="#e3e23c"/><stop offset="0.8028" stop-color="#e4e33b"/><stop offset="0.8127" stop-color="#e7e337"/><stop offset="0.8279" stop-color="#e7e337"/><stop offset="0.8404" stop-color="#e7e336"/><stop offset="0.8906" stop-color="#e7e336"/><stop offset="0.9031" stop-color="#e7e337"/><stop offset="0.9147" stop-color="#e5e33a"/><stop offset="0.9158" stop-color="#e5e33a"/><stop offset="0.9282" stop-color="#e4e33b"/><stop offset="1.0000" stop-color="#e4e33b"/></linearGradient><linearGradient id="g24" gradientUnits="userSpaceOnUse" x1="100.9" x2="818.4" y1="0" y2="0"><stop offset="0.0000" stop-color="#fdfdfd"/><stop offset="0.2258" stop-color="#fdfdfd"/><stop offset="0.2383" stop-color="#fefefe"/><stop offset="0.2509" stop-color="#ffffff"/><stop offset="0.5017" stop-color="#ffffff"/><stop offset="0.5056" stop-color="#fefef9"/><stop offset="0.5068" stop-color="#fdfef9"/><stop offset="0.5143" stop-color="#fdfdf6"/><stop offset="0.5268" stop-color="#fcfcf2"/><stop offset="0.5394" stop-color="#fafbec"/><stop offset="0.5519" stop-color="#f8fae5"/><stop offset="0.5645" stop-color="#f7f8de"/><stop offset="0.5770" stop-color="#f5f7d7"/><stop offset="0.5895" stop-color="#f3f5cf"/><stop offset="0.6021" stop-color="#f0f4c5"/><stop offset="0.6077" stop-color="#eef1b4"/><stop offset="0.6088" stop-color="#edf1b3"/><stop offset="0.6146" stop-color="#ecf0ad"/><stop offset="0.6272" stop-color="#eaed9f"/><stop offset="0.6397" stop-color="#e7eb92"/><stop offset="0.6523" stop-color="#e5e986"/><stop offset="0.6648" stop-color="#e4e87b"/><stop offset="0.6774" stop-color="#e3e770"/><stop offset="0.6899" stop-color="#e1e565"/><stop offset="0.7024" stop-color="#e0e45a"/><stop offset="0.7097" stop-color="#dfe354"/><stop offset="0.7108" stop-color="#dee249"/><stop offset="0.7150" stop-color="#dde147"/><stop offset="0.7275" stop-color="#dee144"/><stop offset="0.7401" stop-color="#dfe142"/><stop offset="0.7526" stop-color="#e0e241"/><stop offset="0.7652" stop-color="#e1e240"/><stop offset="0.7777" stop-color="#e1e23f"/><stop offset="0.7902" stop-color="#e2e23e"/><stop offset="0.8028" stop-color="#e3e23d"/><stop offset="0.8127" stop-color="#e5e339"/><stop offset="0.8138" stop-color="#e6e339"/><stop offset="0.8153" stop-color="#e6e339"/><stop offset="0.8279" stop-color="#e6e338"/><stop offset="0.9031" stop-color="#e6e338"/><stop offset="0.9147" stop-color="#e4e23c"/><stop offset="0.9158" stop-color="#e4e23c"/><stop offset="0.9282" stop-color="#e3e23c"/><stop offset="1.0000" stop-color="#e3e23c"/></linearGradient><linearGradient id="g25" gradientUnits="userSpaceOnUse" x1="100.9" x2="818.4" y1="0" y2="0"><stop offset="0.0000" stop-color="#fdfdfd"/><stop offset="0.2258" stop-color="#fdfdfd"/><stop offset="0.2383" stop-color="#fefefe"/><stop offset="0.2509" stop-color="#ffffff"/><stop offset="0.5017" stop-color="#ffffff"/><stop offset="0.5056" stop-color="#fefefa"/><stop offset="0.5068" stop-color="#fefef9"/><stop offset="0.5143" stop-color="#fdfdf7"/><stop offset="0.5268" stop-color="#fcfdf3"/><stop offset="0.5394" stop-color="#fbfcee"/><stop offset="0.5519" stop-color="#f9fae8"/><stop offset="0.5645" stop-color="#f7f9e1"/><stop offset="0.5770" stop-color="#f6f8db"/><stop offset="0.5895" stop-color="#f4f6d3"/><stop offset="0.6021" stop-color="#f2f4ca"/><stop offset="0.6077" stop-color="#eff2bc"/><stop offset="0.6088" stop-color="#eff2bb"/><stop offset="0.6146" stop-color="#eef1b4"/><stop offset="0.6272" stop-color="#ebefa7"/><stop offset="0.6397" stop-color="#e9ec99"/><stop offset="0.6523" stop-color="#e6ea8c"/><stop offset="0.6648" stop-color="#e5e980"/><stop offset="0.6774" stop-color="#e3e775"/><stop offset="0.6899" stop-color="#e2e66a"/><stop offset="0.7024" stop-color="#e0e45f"/><stop offset="0.7097" stop-color="#dfe358"/><stop offset="0.7108" stop-color="#dee24e"/><stop offset="0.7150" stop-color="#dee24c"/><stop offset="0.7275" stop-color="#dde145"/><stop offset="0.7401" stop-color="#dee143"/><stop offset="0.7526" stop-color="#dfe142"/><stop offset="0.7652" stop-color="#dfe242"/><stop offset="0.7777" stop-color="#e0e241"/><stop offset="0.7902" stop-color="#e1e23f"/><stop offset="0.8028" stop-color="#e2e23e"/><stop offset="0.8127" stop-color="#e5e33a"/><stop offset="0.8153" stop-color="#e5e33a"/><stop offset="0.8279" stop-color="#e5e339"/><stop offset="0.8404" stop-color="#e6e339"/><stop offset="0.8906" stop-color="#e6e339"/><stop offset="0.9031" stop-color="#e5e339"/><stop offset="0.9147" stop-color="#e3e23d"/><stop offset="0.9282" stop-color="#e3e23d"/><stop offset="0.9408" stop-color="#e2e23d"/><stop offset="1.0000" stop-color="#e2e23d"/></linearGradient><linearGradient id="g26" gradientUnits="userSpaceOnUse" x1="100.9" x2="818.4" y1="0" y2="0"><stop offset="0.0000" stop-color="#fdfdfd"/><stop offset="0.2258" stop-color="#fdfdfd"/><stop offset="0.2383" stop-color="#fefefe"/><stop offset="0.2509" stop-color="#ffffff"/><stop offset="0.5017" stop-color="#ffffff"/><stop offset="0.5056" stop-color="#fefefa"/><stop offset="0.5068" stop-color="#fefefa"/><stop offset="0.5143" stop-color="#fdfef8"/><stop offset="0.5268" stop-color="#fcfdf5"/><stop offset="0.5394" stop-color="#fbfcf0"/><stop offset="0.5519" stop-color="#fafbeb"/><stop offset="0.5645" stop-color="#f8fae5"/><stop offset="0.5770" stop-color="#f7f9e0"/><stop offset="0.5895" stop-color="#f5f7d9"/><stop offset="0.6021" stop-color="#f3f6d1"/><stop offset="0.6077" stop-color="#f0f4c5"/><stop offset="0.6088" stop-color="#f0f3c4"/><stop offset="0.6146" stop-color="#eff2bd"/><stop offset="0.6272" stop-color="#edf0b0"/><stop offset="0.6397" stop-color="#eaeea2"/><stop offset="0.6523" stop-color="#e8ec94"/><stop offset="0.6648" stop-color="#e6ea87"/><stop offset="0.6774" stop-color="#e4e87b"/><stop offset="0.6899" stop-color="#e3e76f"/><stop offset="0.7024" stop-color="#e1e564"/><stop offset="0.7097" stop-color="#e0e45d"/><stop offset="0.7108" stop-color="#dfe352"/><stop offset="0.7150" stop-color="#dee250"/><stop offset="0.7275" stop-color="#dee24a"/><stop offset="0.7401" stop-color="#dde145"/><stop offset="0.7526" stop-color="#dee144"/><stop offset="0.7652" stop-color="#dfe143"/><stop offset="0.7777" stop-color="#dfe142"/><stop offset="0.7902" stop-color="#e0e241"/><stop offset="0.8028" stop-color="#e1e23f"/><stop offset="0.8127" stop-color="#e4e23b"/><stop offset="0.8138" stop-color="#e4e33b"/><stop offset="0.8153" stop-color="#e4e33b"/><stop offset="0.8279" stop-color="#e5e33a"/><stop offset="0.8404" stop-color="#e5e339"/><stop offset="0.8906" stop-color="#e5e339"/><stop offset="0.9031" stop-color="#e5e33a"/><stop offset="0.9147" stop-color="#e2e23d"/><stop offset="0.9158" stop-color="#e2e23d"/><stop offset="0.9282" stop-color="#e2e23e"/><stop offset="1.0000" stop-color="#e2e23e"/></linearGradient><linearGradient id="g27" gradientUnits="userSpaceOnUse" x1="100.9" x2="818.4" y1="0" y2="0"><stop offset="0.0000" stop-color="#fdfdfd"/><stop offset="0.2258" stop-color="#fdfdfd"/><stop offset="0.2383" stop-color="#fefefe"/><stop offset="0.2509" stop-color="#ffffff"/><stop offset="0.5017" stop-color="#ffffff"/><stop offset="0.5056" stop-color="#fefefb"/><stop offset="0.5068" stop-color="#fefefb"/><stop offset="0.5143" stop-color="#fefef9"/><stop offset="0.5268" stop-color="#fdfdf7"/><stop offset="0.5394" stop-color="#fcfdf3"/><stop offset="0.5519" stop-color="#fbfcee"/><stop offset="0.5645" stop-color="#fafbea"/><stop offset="0.5770" stop-color="#f8fae5"/><stop offset="0.5895" stop-color="#f7f9df"/><stop offset="0.6021" stop-color="#f5f7d7"/><stop offset="0.6077" stop-color="#f2f5cd"/><stop offset="0.6088" stop-color="#f2f5cc"/><stop offset="0.6146" stop-color="#f1f4c6"/><stop offset="0.6272" stop-color="#eef1b8"/><stop offset="0.6397" stop-color="#ecefa9"/><stop offset="0.6523" stop-color="#e9ed9a"/><stop offset="0.6648" stop-color="#e6ea8c"/><stop offset="0.6774" stop-color="#e5e980"/><stop offset="0.6899" stop-color="#e3e774"/><stop offset="0.7024" stop-color="#e2e668"/><stop offset="0.7097" stop-color="#e1e561"/><stop offset="0.7108" stop-color="#dfe357"/><stop offset="0.7150" stop-color="#dfe355"/><stop offset="0.7275" stop-color="#dee24e"/><stop offset="0.7401" stop-color="#dde148"/><stop offset="0.7526" stop-color="#dde145"/><stop offset="0.7652" stop-color="#dee144"/><stop offset="0.7777" stop-color="#dfe143"/><stop offset="0.7902" stop-color="#dfe142"/><stop offset="0.8028" stop-color="#e0e240"/><stop offset="0.8127" stop-color="#e4e23c"/><stop offset="0.8138" stop-color="#e4e23c"/><stop offset="0.8153" stop-color="#e4e23b"/><stop offset="0.8279" stop-color="#e4e33b"/><stop offset="0.8404" stop-color="#e5e33a"/><stop offset="0.8906" stop-color="#e5e33a"/><stop offset="0.9031" stop-color="#e4e33a"/><stop offset="0.9147" stop-color="#e2e23e"/><stop offset="0.9282" stop-color="#e2e23e"/><stop offset="0.9408" stop-color="#e2e23f"/><stop offset="0.9533" stop-color="#e2e23f"/><stop offset="0.9659" stop-color="#e1e23f"/><stop offset="1.0000" stop-color="#e1e23f"/></linearGradient><linearGradient id="g28" gradientUnits="userSpaceOnUse" x1="100.9" x2="818.4" y1="0" y2="0"><stop offset="0.0000" stop-color="#fdfdfd"/><stop offset="0.2258" stop-color="#fdfdfd"/><stop offset="0.2383" stop-color="#fefefe"/><stop offset="0.2509" stop-color="#ffffff"/><stop offset="0.5017" stop-color="#ffffff"/><stop offset="0.5056" stop-color="#fefffd"/><stop offset="0.5068" stop-color="#fefefc"/><stop offset="0.5143" stop-color="#fefefb"/><stop offset="0.5268" stop-color="#fefefa"/><stop offset="0.5394" stop-color="#fdfdf7"/><stop offset="0.5519" stop-color="#fcfdf4"/><stop offset="0.5645" stop-color="#fcfcf1"/><stop offset="0.5770" stop-color="#fbfcee"/><stop offset="0.5895" stop-color="#f9fae6"/><stop offset="0.6021" stop-color="#f6f8dc"/><stop offset="0.6077" stop-color="#f4f6d3"/><stop offset="0.6088" stop-color="#f4f6d2"/><stop offset="0.6146" stop-color="#f2f5cb"/><stop offset="0.6272" stop-color="#eff2bb"/><stop offset="0.6397" stop-color="#ecefaa"/><stop offset="0.6523" stop-color="#e9ec99"/><stop offset="0.6648" stop-color="#e6ea8a"/><stop offset="0.6774" stop-color="#e5e97f"/><stop offset="0.6899" stop-color="#e3e774"/><stop offset="0.7024" stop-color="#e2e669"/><stop offset="0.7097" stop-color="#e1e562"/><stop offset="0.7108" stop-color="#e0e45c"/><stop offset="0.7150" stop-color="#e0e459"/><stop offset="0.7275" stop-color="#dee250"/><stop offset="0.7401" stop-color="#dee24a"/><stop offset="0.7526" stop-color="#dde145"/><stop offset="0.7652" stop-color="#dee144"/><stop offset="0.7777" stop-color="#dfe142"/><stop offset="0.7902" stop-color="#e0e241"/><stop offset="0.8028" stop-color="#e1e240"/><stop offset="0.8127" stop-color="#e3e23c"/><stop offset="0.8153" stop-color="#e3e23c"/><stop offset="0.8279" stop-color="#e4e33b"/><stop offset="0.8404" stop-color="#e5e33a"/><stop offset="0.8906" stop-color="#e5e33a"/><stop offset="0.9031" stop-color="#e4e33a"/><stop offset="0.9147" stop-color="#e3e23d"/><stop offset="0.9158" stop-color="#e3e23d"/><stop offset="0.9282" stop-color="#e2e23d"/><stop offset="0.9408" stop-color="#e2e23e"/><stop offset="0.9533" stop-color="#e2e23e"/><stop offset="0.9659" stop-color="#e1e23f"/><stop offset="0.9909" stop-color="#e1e23f"/><stop offset="1.0000" stop-color="#e1e240"/></linearGradient><linearGradient id="g29" gradientUnits="userSpaceOnUse" x1="100.9" x2="818.4" y1="0" y2="0"><stop offset="0.0000" stop-color="#fdfdfd"/><stop offset="0.2258" stop-color="#fdfdfd"/><stop offset="0.2383" stop-color="#fefefe"/><stop offset="0.2509" stop-color="#ffffff"/><stop offset="0.5017" stop-color="#ffffff"/><stop offset="0.5056" stop-color="#fffffe"/><stop offset="0.5068" stop-color="#fffffe"/><stop offset="0.5143" stop-color="#fffffd"/><stop offset="0.5268" stop-color="#fefffd"/><stop offset="0.5394" stop-color="#fefefc"/><stop offset="0.5519" stop-color="#fefefa"/><stop offset="0.5645" stop-color="#fdfef9"/><stop offset="0.5770" stop-color="#fdfdf6"/><stop offset="0.5895" stop-color="#fafbed"/><stop offset="0.6021" stop-color="#f8f9e2"/><stop offset="0.6077" stop-color="#f5f8da"/><stop offset="0.6088" stop-color="#f5f7d8"/><stop offset="0.6146" stop-color="#f3f6d0"/><stop offset="0.6272" stop-color="#eff2be"/><stop offset="0.6397" stop-color="#ecefab"/><stop offset="0.6523" stop-color="#e8ec97"/><stop offset="0.6648" stop-color="#e6ea88"/><stop offset="0.6774" stop-color="#e4e87e"/><stop offset="0.6899" stop-color="#e3e774"/><stop offset="0.7024" stop-color="#e2e66a"/><stop offset="0.7097" stop-color="#e1e564"/><stop offset="0.7108" stop-color="#e1e560"/><stop offset="0.7150" stop-color="#e0e45d"/><stop offset="0.7275" stop-color="#dfe353"/><stop offset="0.7401" stop-color="#dee24b"/><stop offset="0.7526" stop-color="#dde146"/><stop offset="0.7652" stop-color="#dee144"/><stop offset="0.7777" stop-color="#dfe142"/><stop offset="0.7902" stop-color="#e0e240"/><stop offset="0.8028" stop-color="#e1e23f"/><stop offset="0.8127" stop-color="#e3e23d"/><stop offset="0.8138" stop-color="#e3e23d"/><stop offset="0.8153" stop-color="#e3e23c"/><stop offset="0.8279" stop-color="#e4e23b"/><stop offset="0.8404" stop-color="#e5e33a"/><stop offset="0.8906" stop-color="#e5e33a"/><stop offset="0.9031" stop-color="#e4e33a"/><stop offset="0.9147" stop-color="#e3e23c"/><stop offset="0.9158" stop-color="#e3e23c"/><stop offset="0.9282" stop-color="#e3e23d"/><stop offset="0.9408" stop-color="#e2e23d"/><stop offset="0.9533" stop-color="#e2e23e"/><stop offset="0.9659" stop-color="#e1e23f"/><stop offset="0.9784" stop-color="#e1e23f"/><stop offset="0.9909" stop-color="#e0e240"/><stop offset="1.0000" stop-color="#e0e241"/></linearGradient><linearGradient id="g30" gradientUnits="userSpaceOnUse" x1="100.9" x2="818.4" y1="0" y2="0"><stop offset="0.0000" stop-color="#fdfdfd"/><stop offset="0.2258" stop-color="#fdfdfd"/><stop offset="0.2383" stop-color="#fefefe"/><stop offset="0.2509" stop-color="#ffffff"/><stop offset="0.5645" stop-color="#ffffff"/><stop offset="0.5770" stop-color="#fefffd"/><stop offset="0.5895" stop-color="#fcfdf3"/><stop offset="0.6021" stop-color="#f9fae6"/><stop offset="0.6077" stop-color="#f7f9df"/><stop offset="0.6088" stop-color="#f7f8de"/><stop offset="0.6146" stop-color="#f4f7d5"/><stop offset="0.6272" stop-color="#f0f3c1"/><stop offset="0.6397" stop-color="#ecefac"/><stop offset="0.6523" stop-color="#e8ec97"/><stop offset="0.6648" stop-color="#e6ea87"/><stop offset="0.6774" stop-color="#e4e87e"/><stop offset="0.6899" stop-color="#e3e774"/><stop offset="0.7024" stop-color="#e2e66b"/><stop offset="0.7097" stop-color="#e1e566"/><stop offset="0.7108" stop-color="#e1e565"/><stop offset="0.7150" stop-color="#e1e561"/><stop offset="0.7275" stop-color="#dfe356"/><stop offset="0.7401" stop-color="#dee24d"/><stop offset="0.7526" stop-color="#dde146"/><stop offset="0.7652" stop-color="#dee144"/><stop offset="0.7777" stop-color="#dfe242"/><stop offset="0.7902" stop-color="#e1e240"/><stop offset="0.8028" stop-color="#e2e23e"/><stop offset="0.8127" stop-color="#e3e23d"/><stop offset="0.8153" stop-color="#e3e23d"/><stop offset="0.8279" stop-color="#e4e23b"/><stop offset="0.8404" stop-color="#e5e33a"/><stop offset="0.8906" stop-color="#e5e33a"/><stop offset="0.9031" stop-color="#e4e33b"/><stop offset="0.9147" stop-color="#e4e23b"/><stop offset="0.9158" stop-color="#e4e23b"/><stop offset="0.9282" stop-color="#e3e23c"/><stop offset="0.9408" stop-color="#e3e23d"/><stop offset="0.9533" stop-color="#e2e23e"/><stop offset="0.9659" stop-color="#e1e23f"/><stop offset="0.9784" stop-color="#e1e240"/><stop offset="0.9909" stop-color="#e0e241"/><stop offset="1.0000" stop-color="#dfe242"/></linearGradient><linearGradient id="g31" gradientUnits="userSpaceOnUse" x1="100.9" x2="818.4" y1="0" y2="0"><stop offset="0.0000" stop-color="#fdfdfd"/><stop offset="0.2258" stop-color="#fdfdfd"/><stop offset="0.2383" stop-color="#fefefe"/><stop offset="0.2509" stop-color="#ffffff"/><stop offset="0.5645" stop-color="#ffffff"/><stop offset="0.5770" stop-color="#fffffd"/><stop offset="0.5895" stop-color="#fcfdf5"/><stop offset="0.6021" stop-color="#f9fae8"/><stop offset="0.6077" stop-color="#f8f9e2"/><stop offset="0.6088" stop-color="#f7f9e0"/><stop offset="0.6146" stop-color="#f5f7d8"/><stop offset="0.6272" stop-color="#f0f4c5"/><stop offset="0.6397" stop-color="#edf0b0"/><stop offset="0.6523" stop-color="#e9ed9c"/><stop offset="0.6648" stop-color="#e6ea8b"/><stop offset="0.6774" stop-color="#e5e981"/><stop offset="0.6899" stop-color="#e4e878"/><stop offset="0.7024" stop-color="#e2e66e"/><stop offset="0.7097" stop-color="#e2e668"/><stop offset="0.7108" stop-color="#e1e567"/><stop offset="0.7150" stop-color="#e1e564"/><stop offset="0.7275" stop-color="#e0e458"/><stop offset="0.7401" stop-color="#dee24f"/><stop offset="0.7526" stop-color="#dde148"/><stop offset="0.7652" stop-color="#dee144"/><stop offset="0.7777" stop-color="#dfe142"/><stop offset="0.7902" stop-color="#e1e240"/><stop offset="0.8028" stop-color="#e2e23e"/><stop offset="0.8127" stop-color="#e2e23d"/><stop offset="0.8138" stop-color="#e3e23d"/><stop offset="0.8153" stop-color="#e3e23d"/><stop offset="0.8279" stop-color="#e4e23c"/><stop offset="0.8404" stop-color="#e5e33a"/><stop offset="0.8906" stop-color="#e5e33a"/><stop offset="0.9031" stop-color="#e4e33b"/><stop offset="0.9147" stop-color="#e4e23c"/><stop offset="0.9158" stop-color="#e4e23c"/><stop offset="0.9282" stop-color="#e3e23c"/><stop offset="0.9408" stop-color="#e3e23d"/><stop offset="0.9533" stop-color="#e2e23e"/><stop offset="0.9659" stop-color="#e1e23f"/><stop offset="0.9784" stop-color="#e0e240"/><stop offset="0.9909" stop-color="#e0e241"/><stop offset="1.0000" stop-color="#dfe142"/></linearGradient><linearGradient id="g32" gradientUnits="userSpaceOnUse" x1="100.9" x2="818.4" y1="0" y2="0"><stop offset="0.0000" stop-color="#fdfdfd"/><stop offset="0.2258" stop-color="#fdfdfd"/><stop offset="0.2383" stop-color="#fefefe"/><stop offset="0.2509" stop-color="#ffffff"/><stop offset="0.5645" stop-color="#ffffff"/><stop offset="0.5770" stop-color="#fffffe"/><stop offset="0.5895" stop-color="#fdfdf6"/><stop offset="0.6021" stop-color="#fafbeb"/><stop offset="0.6077" stop-color="#f8fae5"/><stop offset="0.6088" stop-color="#f8f9e3"/><stop offset="0.6146" stop-color="#f6f8db"/><stop offset="0.6272" stop-color="#f1f4c9"/><stop offset="0.6397" stop-color="#eef1b5"/><stop offset="0.6523" stop-color="#eaeea1"/><stop offset="0.6648" stop-color="#e7eb90"/><stop offset="0.6774" stop-color="#e5e985"/><stop offset="0.6899" stop-color="#e4e87b"/><stop offset="0.7024" stop-color="#e3e771"/><stop offset="0.7097" stop-color="#e2e66b"/><stop offset="0.7108" stop-color="#e2e66a"/><stop offset="0.7150" stop-color="#e1e566"/><stop offset="0.7275" stop-color="#e0e45b"/><stop offset="0.7401" stop-color="#dfe351"/><stop offset="0.7526" stop-color="#dee249"/><stop offset="0.7652" stop-color="#dee144"/><stop offset="0.7777" stop-color="#dfe142"/><stop offset="0.7902" stop-color="#e1e240"/><stop offset="0.8028" stop-color="#e2e23e"/><stop offset="0.8127" stop-color="#e2e23d"/><stop offset="0.8138" stop-color="#e2e23d"/><stop offset="0.8153" stop-color="#e3e23d"/><stop offset="0.8279" stop-color="#e3e23c"/><stop offset="0.8404" stop-color="#e4e33a"/><stop offset="0.8906" stop-color="#e4e33a"/><stop offset="0.9031" stop-color="#e4e23b"/><stop offset="0.9147" stop-color="#e3e23c"/><stop offset="0.9158" stop-color="#e3e23c"/><stop offset="0.9282" stop-color="#e3e23d"/><stop offset="0.9408" stop-color="#e2e23e"/><stop offset="0.9533" stop-color="#e2e23e"/><stop offset="0.9659" stop-color="#e1e23f"/><stop offset="0.9784" stop-color="#e0e240"/><stop offset="0.9909" stop-color="#e0e241"/><stop offset="1.0000" stop-color="#dfe142"/></linearGradient><linearGradient id="g33" gradientUnits="userSpaceOnUse" x1="100.9" x2="818.4" y1="0" y2="0"><stop offset="0.0000" stop-color="#fdfdfd"/><stop offset="0.2258" stop-color="#fdfdfd"/><stop offset="0.2383" stop-color="#fefefe"/><stop offset="0.2509" stop-color="#ffffff"/><stop offset="0.5645" stop-color="#ffffff"/><stop offset="0.5770" stop-color="#fffffe"/><stop offset="0.5895" stop-color="#fdfef8"/><stop offset="0.6021" stop-color="#fafbed"/><stop offset="0.6077" stop-color="#f9fae7"/><stop offset="0.6088" stop-color="#f9fae6"/><stop offset="0.6146" stop-color="#f7f8de"/><stop offset="0.6272" stop-color="#f2f5cc"/><stop offset="0.6397" stop-color="#eef2b9"/><stop offset="0.6523" stop-color="#ebeea5"/><stop offset="0.6648" stop-color="#e8ec95"/><stop offset="0.6774" stop-color="#e6ea89"/><stop offset="0.6899" stop-color="#e4e87e"/><stop offset="0.7024" stop-color="#e3e774"/><stop offset="0.7097" stop-color="#e2e66e"/><stop offset="0.7108" stop-color="#e2e66d"/><stop offset="0.7150" stop-color="#e2e669"/><stop offset="0.7275" stop-color="#e0e45d"/><stop offset="0.7401" stop-color="#dfe353"/><stop offset="0.7526" stop-color="#dee24b"/><stop offset="0.7652" stop-color="#dde144"/><stop offset="0.7777" stop-color="#dfe142"/><stop offset="0.7902" stop-color="#e1e240"/><stop offset="0.8028" stop-color="#e2e23f"/><stop offset="0.8127" stop-color="#e2e23e"/><stop offset="0.8138" stop-color="#e2e23d"/><stop offset="0.8153" stop-color="#e2e23d"/><stop offset="0.8279" stop-color="#e3e23c"/><stop offset="0.8404" stop-color="#e4e33b"/><stop offset="0.8906" stop-color="#e4e33b"/><stop offset="0.9031" stop-color="#e4e23b"/><stop offset="0.9147" stop-color="#e3e23c"/><stop offset="0.9158" stop-color="#e3e23c"/><stop offset="0.9282" stop-color="#e3e23d"/><stop offset="0.9408" stop-color="#e2e23e"/><stop offset="0.9533" stop-color="#e1e23f"/><stop offset="0.9659" stop-color="#e1e240"/><stop offset="0.9784" stop-color="#e0e241"/><stop offset="0.9909" stop-color="#dfe142"/><stop offset="1.0000" stop-color="#dfe142"/></linearGradient><linearGradient id="g34" gradientUnits="userSpaceOnUse" x1="100.9" x2="818.4" y1="0" y2="0"><stop offset="0.0000" stop-color="#fdfdfd"/><stop offset="0.2258" stop-color="#fdfdfd"/><stop offset="0.2383" stop-color="#fefefe"/><stop offset="0.2509" stop-color="#ffffff"/><stop offset="0.5645" stop-color="#ffffff"/><stop offset="0.5770" stop-color="#fffffe"/><stop offset="0.5895" stop-color="#fdfef9"/><stop offset="0.6021" stop-color="#fbfcef"/><stop offset="0.6077" stop-color="#fafbea"/><stop offset="0.6088" stop-color="#f9fbe9"/><stop offset="0.6146" stop-color="#f7f9e1"/><stop offset="0.6272" stop-color="#f3f6d0"/><stop offset="0.6397" stop-color="#eff2be"/><stop offset="0.6523" stop-color="#ecefaa"/><stop offset="0.6648" stop-color="#e9ed9a"/><stop offset="0.6774" stop-color="#e7eb8d"/><stop offset="0.6899" stop-color="#e5e982"/><stop offset="0.7024" stop-color="#e3e777"/><stop offset="0.7097" stop-color="#e3e770"/><stop offset="0.7108" stop-color="#e3e76f"/><stop offset="0.7150" stop-color="#e2e66c"/><stop offset="0.7275" stop-color="#e1e560"/><stop offset="0.7401" stop-color="#dfe355"/><stop offset="0.7526" stop-color="#dee24c"/><stop offset="0.7652" stop-color="#dde145"/><stop offset="0.7777" stop-color="#dfe142"/><stop offset="0.7902" stop-color="#e1e240"/><stop offset="0.8028" stop-color="#e1e23f"/><stop offset="0.8127" stop-color="#e2e23e"/><stop offset="0.8138" stop-color="#e2e23e"/><stop offset="0.8153" stop-color="#e2e23d"/><stop offset="0.8279" stop-color="#e3e23c"/><stop offset="0.8404" stop-color="#e4e23b"/><stop offset="0.8906" stop-color="#e4e23b"/><stop offset="0.9031" stop-color="#e4e23c"/><stop offset="0.9147" stop-color="#e3e23c"/><stop offset="0.9157" stop-color="#e3e23d"/><stop offset="0.9158" stop-color="#e3e23d"/><stop offset="0.9282" stop-color="#e2e23d"/><stop offset="0.9408" stop-color="#e2e23e"/><stop offset="0.9533" stop-color="#e1e23f"/><stop offset="0.9659" stop-color="#e0e240"/><stop offset="0.9784" stop-color="#e0e241"/><stop offset="0.9909" stop-color="#dfe142"/><stop offset="1.0000" stop-color="#dfe143"/></linearGradient><linearGradient id="g35" gradientUnits="userSpaceOnUse" x1="100.9" x2="818.4" y1="0" y2="0"><stop offset="0.0000" stop-color="#fdfdfd"/><stop offset="0.2258" stop-color="#fdfdfd"/><stop offset="0.2383" stop-color="#fefefe"/><stop offset="0.2509" stop-color="#ffffff"/><stop offset="0.5770" stop-color="#ffffff"/><stop offset="0.5895" stop-color="#fefefb"/><stop offset="0.6021" stop-color="#fbfcf1"/><stop offset="0.6077" stop-color="#fafbed"/><stop offset="0.6088" stop-color="#fafbec"/><stop offset="0.6146" stop-color="#f8fae4"/><stop offset="0.6272" stop-color="#f4f6d3"/><stop offset="0.6397" stop-color="#f0f3c2"/><stop offset="0.6523" stop-color="#edf0af"/><stop offset="0.6648" stop-color="#eaed9f"/><stop offset="0.6774" stop-color="#e7eb92"/><stop offset="0.6899" stop-color="#e5e985"/><stop offset="0.7024" stop-color="#e4e87a"/><stop offset="0.7097" stop-color="#e3e773"/><stop offset="0.7108" stop-color="#e3e772"/><stop offset="0.7150" stop-color="#e2e66e"/><stop offset="0.7275" stop-color="#e1e562"/><stop offset="0.7401" stop-color="#dfe357"/><stop offset="0.7526" stop-color="#dee24d"/><stop offset="0.7652" stop-color="#dde145"/><stop offset="0.7777" stop-color="#dfe142"/><stop offset="0.7902" stop-color="#e1e240"/><stop offset="0.8028" stop-color="#e1e23f"/><stop offset="0.8127" stop-color="#e2e23e"/><stop offset="0.8153" stop-color="#e2e23e"/><stop offset="0.8279" stop-color="#e3e23c"/><stop offset="0.8404" stop-color="#e4e23b"/><stop offset="0.8906" stop-color="#e4e23b"/><stop offset="0.9031" stop-color="#e3e23c"/><stop offset="0.9147" stop-color="#e3e23d"/><stop offset="0.9158" stop-color="#e3e23d"/><stop offset="0.9282" stop-color="#e2e23e"/><stop offset="0.9408" stop-color="#e2e23f"/><stop offset="0.9533" stop-color="#e1e23f"/><stop offset="0.9659" stop-color="#e0e240"/><stop offset="0.9784" stop-color="#e0e241"/><stop offset="0.9909" stop-color="#dfe142"/><stop offset="1.0000" stop-color="#dfe143"/></linearGradient><linearGradient id="g36" gradientUnits="userSpaceOnUse" x1="100.9" x2="818.4" y1="0" y2="0"><stop offset="0.0000" stop-color="#fdfdfd"/><stop offset="0.2258" stop-color="#fdfdfd"/><stop offset="0.2383" stop-color="#fefefe"/><stop offset="0.2509" stop-color="#ffffff"/><stop offset="0.5770" stop-color="#ffffff"/><stop offset="0.5895" stop-color="#fefefc"/><stop offset="0.6021" stop-color="#fcfdf3"/><stop offset="0.6077" stop-color="#fbfcef"/><stop offset="0.6088" stop-color="#fbfcee"/><stop offset="0.6146" stop-color="#f9fae7"/><stop offset="0.6272" stop-color="#f5f7d7"/><stop offset="0.6397" stop-color="#f1f4c6"/><stop offset="0.6523" stop-color="#edf1b4"/><stop offset="0.6648" stop-color="#ebeea4"/><stop offset="0.6774" stop-color="#e8ec96"/><stop offset="0.6899" stop-color="#e6ea89"/><stop offset="0.7024" stop-color="#e4e87d"/><stop offset="0.7097" stop-color="#e3e776"/><stop offset="0.7108" stop-color="#e3e775"/><stop offset="0.7150" stop-color="#e3e771"/><stop offset="0.7275" stop-color="#e1e565"/><stop offset="0.7401" stop-color="#e0e459"/><stop offset="0.7526" stop-color="#dee24f"/><stop offset="0.7652" stop-color="#dde146"/><stop offset="0.7777" stop-color="#dfe142"/><stop offset="0.7902" stop-color="#e0e240"/><stop offset="0.8028" stop-color="#e1e23f"/><stop offset="0.8127" stop-color="#e2e23e"/><stop offset="0.8153" stop-color="#e2e23e"/><stop offset="0.8279" stop-color="#e3e23d"/><stop offset="0.8404" stop-color="#e4e23c"/><stop offset="0.8906" stop-color="#e4e23c"/><stop offset="0.9031" stop-color="#e3e23c"/><stop offset="0.9147" stop-color="#e3e23d"/><stop offset="0.9157" stop-color="#e2e23d"/><stop offset="0.9158" stop-color="#e2e23d"/><stop offset="0.9282" stop-color="#e2e23e"/><stop offset="0.9408" stop-color="#e1e23f"/><stop offset="0.9533" stop-color="#e1e240"/><stop offset="0.9659" stop-color="#e0e241"/><stop offset="0.9784" stop-color="#dfe142"/><stop offset="0.9909" stop-color="#dfe143"/><stop offset="1.0000" stop-color="#dee143"/></linearGradient><linearGradient id="g37" gradientUnits="userSpaceOnUse" x1="100.9" x2="818.4" y1="0" y2="0"><stop offset="0.0000" stop-color="#fdfdfd"/><stop offset="0.2258" stop-color="#fdfdfd"/><stop offset="0.2383" stop-color="#fefefe"/><stop offset="0.2509" stop-color="#ffffff"/><stop offset="0.5770" stop-color="#ffffff"/><stop offset="0.5895" stop-color="#fefefc"/><stop offset="0.6021" stop-color="#fdfdf5"/><stop offset="0.6077" stop-color="#fcfcf2"/><stop offset="0.6088" stop-color="#fbfcf1"/><stop offset="0.6146" stop-color="#fafbea"/><stop offset="0.6272" stop-color="#f6f8da"/><stop offset="0.6397" stop-color="#f2f4ca"/><stop offset="0.6523" stop-color="#eef2b9"/><stop offset="0.6648" stop-color="#ebefa9"/><stop offset="0.6774" stop-color="#e9ed9b"/><stop offset="0.6899" stop-color="#e7ea8d"/><stop offset="0.7024" stop-color="#e5e980"/><stop offset="0.7097" stop-color="#e4e879"/><stop offset="0.7108" stop-color="#e4e878"/><stop offset="0.7150" stop-color="#e3e774"/><stop offset="0.7275" stop-color="#e2e668"/><stop offset="0.7401" stop-color="#e0e45c"/><stop offset="0.7526" stop-color="#dfe352"/><stop offset="0.7652" stop-color="#dee249"/><stop offset="0.7777" stop-color="#dee143"/><stop offset="0.7902" stop-color="#e0e241"/><stop offset="0.8028" stop-color="#e1e240"/><stop offset="0.8127" stop-color="#e1e23f"/><stop offset="0.8153" stop-color="#e1e23f"/><stop offset="0.8279" stop-color="#e2e23e"/><stop offset="0.8404" stop-color="#e3e23c"/><stop offset="0.8906" stop-color="#e3e23c"/><stop offset="0.9031" stop-color="#e3e23d"/><stop offset="0.9147" stop-color="#e2e23e"/><stop offset="0.9158" stop-color="#e2e23e"/><stop offset="0.9282" stop-color="#e1e23f"/><stop offset="0.9408" stop-color="#e1e240"/><stop offset="0.9533" stop-color="#e0e241"/><stop offset="0.9659" stop-color="#e0e241"/><stop offset="0.9784" stop-color="#dfe142"/><stop offset="0.9909" stop-color="#dee143"/><stop offset="1.0000" stop-color="#dee144"/></linearGradient><linearGradient id="g38" gradientUnits="userSpaceOnUse" x1="100.9" x2="818.4" y1="0" y2="0"><stop offset="0.0000" stop-color="#fefefe"/><stop offset="0.2258" stop-color="#fefefe"/><stop offset="0.2383" stop-color="#ffffff"/><stop offset="0.5770" stop-color="#ffffff"/><stop offset="0.5895" stop-color="#fefffd"/><stop offset="0.6021" stop-color="#fdfdf7"/><stop offset="0.6077" stop-color="#fcfdf5"/><stop offset="0.6088" stop-color="#fcfdf4"/><stop offset="0.6146" stop-color="#fafbed"/><stop offset="0.6272" stop-color="#f6f8dd"/><stop offset="0.6397" stop-color="#f3f5ce"/><stop offset="0.6523" stop-color="#eff2be"/><stop offset="0.6648" stop-color="#ecf0ae"/><stop offset="0.6774" stop-color="#eaeda0"/><stop offset="0.6899" stop-color="#e7eb91"/><stop offset="0.7024" stop-color="#e5e984"/><stop offset="0.7097" stop-color="#e4e87d"/><stop offset="0.7108" stop-color="#e4e87c"/><stop offset="0.7150" stop-color="#e4e878"/><stop offset="0.7275" stop-color="#e2e66b"/><stop offset="0.7401" stop-color="#e0e45f"/><stop offset="0.7526" stop-color="#dfe355"/><stop offset="0.7652" stop-color="#dee24c"/><stop offset="0.7777" stop-color="#dde144"/><stop offset="0.7902" stop-color="#dfe142"/><stop offset="0.8028" stop-color="#e0e241"/><stop offset="0.8127" stop-color="#e1e240"/><stop offset="0.8153" stop-color="#e1e240"/><stop offset="0.8279" stop-color="#e2e23e"/><stop offset="0.8404" stop-color="#e2e23d"/><stop offset="0.8906" stop-color="#e2e23d"/><stop offset="0.9031" stop-color="#e2e23e"/><stop offset="0.9147" stop-color="#e1e23f"/><stop offset="0.9158" stop-color="#e1e23f"/><stop offset="0.9282" stop-color="#e1e240"/><stop offset="0.9408" stop-color="#e0e240"/><stop offset="0.9533" stop-color="#e0e241"/><stop offset="0.9659" stop-color="#dfe142"/><stop offset="0.9784" stop-color="#dfe143"/><stop offset="0.9909" stop-color="#dee144"/><stop offset="1.0000" stop-color="#dee144"/></linearGradient><linearGradient id="g39" gradientUnits="userSpaceOnUse" x1="100.9" x2="818.4" y1="0" y2="0"><stop offset="0.0000" stop-color="#fefefe"/><stop offset="0.2258" stop-color="#fefefe"/><stop offset="0.2383" stop-color="#ffffff"/><stop offset="0.5770" stop-color="#ffffff"/><stop offset="0.5895" stop-color="#fffffd"/><stop offset="0.6021" stop-color="#fefef9"/><stop offset="0.6077" stop-color="#fdfdf7"/><stop offset="0.6088" stop-color="#fdfdf7"/><stop offset="0.6146" stop-color="#fbfcf0"/><stop offset="0.6272" stop-color="#f7f9e1"/><stop offset="0.6397" stop-color="#f4f6d2"/><stop offset="0.6523" stop-color="#f0f3c3"/><stop offset="0.6648" stop-color="#edf1b3"/><stop offset="0.6774" stop-color="#ebeea4"/><stop offset="0.6899" stop-color="#e8ec96"/><stop offset="0.7024" stop-color="#e6ea88"/><stop offset="0.7097" stop-color="#e5e981"/><stop offset="0.7108" stop-color="#e5e97f"/><stop offset="0.7150" stop-color="#e4e87b"/><stop offset="0.7275" stop-color="#e2e66e"/><stop offset="0.7401" stop-color="#e1e562"/><stop offset="0.7526" stop-color="#dfe358"/><stop offset="0.7652" stop-color="#dee24f"/><stop offset="0.7777" stop-color="#dde147"/><stop offset="0.7902" stop-color="#dee143"/><stop offset="0.8028" stop-color="#dfe142"/><stop offset="0.8127" stop-color="#e0e241"/><stop offset="0.8153" stop-color="#e0e241"/><stop offset="0.8279" stop-color="#e1e23f"/><stop offset="0.8404" stop-color="#e2e23e"/><stop offset="0.8906" stop-color="#e2e23e"/><stop offset="0.9031" stop-color="#e1e23f"/><stop offset="0.9158" stop-color="#e1e23f"/><stop offset="0.9282" stop-color="#e0e240"/><stop offset="0.9408" stop-color="#e0e241"/><stop offset="0.9533" stop-color="#dfe142"/><stop offset="0.9659" stop-color="#dfe143"/><stop offset="0.9784" stop-color="#dee143"/><stop offset="0.9909" stop-color="#dee144"/><stop offset="1.0000" stop-color="#dde145"/></linearGradient><linearGradient id="g40" gradientUnits="userSpaceOnUse" x1="100.9" x2="818.4" y1="0" y2="0"><stop offset="0.0000" stop-color="#fefefe"/><stop offset="0.2258" stop-color="#fefefe"/><stop offset="0.2383" stop-color="#ffffff"/><stop offset="0.5770" stop-color="#ffffff"/><stop offset="0.5895" stop-color="#fffffe"/><stop offset="0.6021" stop-color="#fefefb"/><stop offset="0.6077" stop-color="#fefefa"/><stop offset="0.6088" stop-color="#fefef9"/><stop offset="0.6146" stop-color="#fcfdf3"/><stop offset="0.6272" stop-color="#f8fae4"/><stop offset="0.6397" stop-color="#f5f7d6"/><stop offset="0.6523" stop-color="#f1f4c8"/><stop offset="0.6648" stop-color="#eef1b8"/><stop offset="0.6774" stop-color="#ecefa9"/><stop offset="0.6899" stop-color="#e9ed9a"/><stop offset="0.7024" stop-color="#e6ea8c"/><stop offset="0.7097" stop-color="#e5e984"/><stop offset="0.7108" stop-color="#e5e983"/><stop offset="0.7150" stop-color="#e5e97f"/><stop offset="0.7275" stop-color="#e3e772"/><stop offset="0.7401" stop-color="#e1e564"/><stop offset="0.7526" stop-color="#e0e45a"/><stop offset="0.7652" stop-color="#dfe352"/><stop offset="0.7777" stop-color="#dee24a"/><stop offset="0.7902" stop-color="#dee144"/><stop offset="0.8028" stop-color="#dee143"/><stop offset="0.8127" stop-color="#dfe142"/><stop offset="0.8138" stop-color="#dfe142"/><stop offset="0.8153" stop-color="#dfe242"/><stop offset="0.8279" stop-color="#e0e240"/><stop offset="0.8404" stop-color="#e1e23f"/><stop offset="0.9031" stop-color="#e1e23f"/><stop offset="0.9147" stop-color="#e0e240"/><stop offset="0.9158" stop-color="#e0e240"/><stop offset="0.9282" stop-color="#e0e241"/><stop offset="0.9408" stop-color="#dfe142"/><stop offset="0.9533" stop-color="#dfe142"/><stop offset="0.9659" stop-color="#dee143"/><stop offset="0.9784" stop-color="#dee144"/><stop offset="0.9909" stop-color="#dde145"/><stop offset="1.0000" stop-color="#dde146"/></linearGradient><linearGradient id="g41" gradientUnits="userSpaceOnUse" x1="100.9" x2="818.4" y1="0" y2="0"><stop offset="0.0000" stop-color="#fefefe"/><stop offset="0.2258" stop-color="#fefefe"/><stop offset="0.2383" stop-color="#ffffff"/><stop offset="0.5895" stop-color="#ffffff"/><stop offset="0.6021" stop-color="#fffffd"/><stop offset="0.6077" stop-color="#fefffd"/><stop offset="0.6088" stop-color="#fefefc"/><stop offset="0.6146" stop-color="#fdfdf6"/><stop offset="0.6272" stop-color="#f9fae8"/><stop offset="0.6397" stop-color="#f6f8da"/><stop offset="0.6523" stop-color="#f2f5cc"/><stop offset="0.6648" stop-color="#eff2bd"/><stop offset="0.6774" stop-color="#ecf0ae"/><stop offset="0.6899" stop-color="#eaed9f"/><stop offset="0.7024" stop-color="#e7eb90"/><stop offset="0.7097" stop-color="#e6ea88"/><stop offset="0.7108" stop-color="#e6ea87"/><stop offset="0.7150" stop-color="#e5e982"/><stop offset="0.7275" stop-color="#e3e775"/><stop offset="0.7401" stop-color="#e1e567"/><stop offset="0.7526" stop-color="#e0e45d"/><stop offset="0.7652" stop-color="#dfe355"/><stop offset="0.7777" stop-color="#dee24d"/><stop offset="0.7902" stop-color="#dde146"/><stop offset="0.8028" stop-color="#dee144"/><stop offset="0.8127" stop-color="#dfe143"/><stop offset="0.8138" stop-color="#dfe143"/><stop offset="0.8153" stop-color="#dfe142"/><stop offset="0.8279" stop-color="#e0e241"/><stop offset="0.8404" stop-color="#e1e240"/><stop offset="0.8906" stop-color="#e1e240"/><stop offset="0.9031" stop-color="#e0e240"/><stop offset="0.9147" stop-color="#e0e241"/><stop offset="0.9158" stop-color="#e0e241"/><stop offset="0.9282" stop-color="#dfe142"/><stop offset="0.9408" stop-color="#dfe142"/><stop offset="0.9533" stop-color="#dee143"/><stop offset="0.9659" stop-color="#dee144"/><stop offset="0.9784" stop-color="#dde145"/><stop offset="0.9909" stop-color="#dde146"/><stop offset="1.0000" stop-color="#dde148"/></linearGradient><linearGradient id="g42" gradientUnits="userSpaceOnUse" x1="100.9" x2="818.4" y1="0" y2="0"><stop offset="0.0000" stop-color="#ffffff"/><stop offset="0.6077" stop-color="#ffffff"/><stop offset="0.6088" stop-color="#fffffe"/><stop offset="0.6146" stop-color="#fdfef8"/><stop offset="0.6272" stop-color="#fafbeb"/><stop offset="0.6397" stop-color="#f6f8de"/><stop offset="0.6523" stop-color="#f3f6d0"/><stop offset="0.6648" stop-color="#f0f3c2"/><stop offset="0.6774" stop-color="#edf1b3"/><stop offset="0.6899" stop-color="#ebeea3"/><stop offset="0.7024" stop-color="#e8ec94"/><stop offset="0.7097" stop-color="#e6ea8b"/><stop offset="0.7108" stop-color="#e6ea8a"/><stop offset="0.7150" stop-color="#e5e985"/><stop offset="0.7275" stop-color="#e4e878"/><stop offset="0.7401" stop-color="#e2e66a"/><stop offset="0.7526" stop-color="#e1e560"/><stop offset="0.7652" stop-color="#e0e458"/><stop offset="0.7777" stop-color="#dfe351"/><stop offset="0.7902" stop-color="#dee24a"/><stop offset="0.8028" stop-color="#dde145"/><stop offset="0.8127" stop-color="#dee144"/><stop offset="0.8138" stop-color="#dee144"/><stop offset="0.8153" stop-color="#dee143"/><stop offset="0.8279" stop-color="#dfe142"/><stop offset="0.8404" stop-color="#e0e240"/><stop offset="0.8906" stop-color="#e0e240"/><stop offset="0.9031" stop-color="#e0e241"/><stop offset="0.9147" stop-color="#dfe142"/><stop offset="0.9282" stop-color="#dfe142"/><stop offset="0.9408" stop-color="#dee143"/><stop offset="0.9533" stop-color="#dee144"/><stop offset="0.9659" stop-color="#dde145"/><stop offset="0.9784" stop-color="#dde146"/><stop offset="0.9909" stop-color="#dde148"/><stop offset="1.0000" stop-color="#dee24a"/></linearGradient><linearGradient id="g43" gradientUnits="userSpaceOnUse" x1="100.9" x2="818.4" y1="0" y2="0"><stop offset="0.0000" stop-color="#ffffff"/><stop offset="0.6088" stop-color="#ffffff"/><stop offset="0.6146" stop-color="#fefef9"/><stop offset="0.6272" stop-color="#fbfcee"/><stop offset="0.6397" stop-color="#f7f9e1"/><stop offset="0.6523" stop-color="#f4f6d4"/><stop offset="0.6648" stop-color="#f1f4c6"/><stop offset="0.6774" stop-color="#eef1b7"/><stop offset="0.6899" stop-color="#ebefa8"/><stop offset="0.7024" stop-color="#e9ec98"/><stop offset="0.7097" stop-color="#e7eb90"/><stop offset="0.7108" stop-color="#e7eb8e"/><stop offset="0.7150" stop-color="#e6ea89"/><stop offset="0.7275" stop-color="#e4e87b"/><stop offset="0.7401" stop-color="#e2e66e"/><stop offset="0.7526" stop-color="#e1e564"/><stop offset="0.7652" stop-color="#e0e45c"/><stop offset="0.7777" stop-color="#dfe354"/><stop offset="0.7902" stop-color="#dee24d"/><stop offset="0.8028" stop-color="#dde148"/><stop offset="0.8127" stop-color="#dde145"/><stop offset="0.8138" stop-color="#dde145"/><stop offset="0.8153" stop-color="#dde144"/><stop offset="0.8279" stop-color="#dee143"/><stop offset="0.8404" stop-color="#dfe241"/><stop offset="0.8530" stop-color="#dfe242"/><stop offset="0.8655" stop-color="#dfe142"/><stop offset="0.9031" stop-color="#dfe142"/><stop offset="0.9147" stop-color="#dee143"/><stop offset="0.9158" stop-color="#dee143"/><stop offset="0.9282" stop-color="#dee144"/><stop offset="0.9408" stop-color="#dde144"/><stop offset="0.9533" stop-color="#dde145"/><stop offset="0.9659" stop-color="#dde148"/><stop offset="0.9784" stop-color="#dee24a"/><stop offset="0.9909" stop-color="#dee24c"/><stop offset="1.0000" stop-color="#dee24e"/></linearGradient><linearGradient id="g44" gradientUnits="userSpaceOnUse" x1="100.9" x2="818.4" y1="0" y2="0"><stop offset="0.0000" stop-color="#ffffff"/><stop offset="0.6088" stop-color="#ffffff"/><stop offset="0.6146" stop-color="#fefefb"/><stop offset="0.6272" stop-color="#fbfcf0"/><stop offset="0.6397" stop-color="#f8fae4"/><stop offset="0.6523" stop-color="#f5f7d7"/><stop offset="0.6648" stop-color="#f2f4ca"/><stop offset="0.6774" stop-color="#eff2bb"/><stop offset="0.6899" stop-color="#ecefac"/><stop offset="0.7024" stop-color="#e9ed9d"/><stop offset="0.7097" stop-color="#e8ec94"/><stop offset="0.7108" stop-color="#e7eb92"/><stop offset="0.7150" stop-color="#e7ea8d"/><stop offset="0.7275" stop-color="#e5e97f"/><stop offset="0.7401" stop-color="#e3e771"/><stop offset="0.7526" stop-color="#e1e567"/><stop offset="0.7652" stop-color="#e0e460"/><stop offset="0.7777" stop-color="#dfe358"/><stop offset="0.7902" stop-color="#dfe351"/><stop offset="0.8028" stop-color="#dee24c"/><stop offset="0.8127" stop-color="#dde148"/><stop offset="0.8138" stop-color="#dde147"/><stop offset="0.8153" stop-color="#dde147"/><stop offset="0.8279" stop-color="#dee144"/><stop offset="0.8404" stop-color="#dfe143"/><stop offset="0.8655" stop-color="#dfe143"/><stop offset="0.8780" stop-color="#dee143"/><stop offset="0.8906" stop-color="#dee143"/><stop offset="0.9031" stop-color="#dee144"/><stop offset="0.9147" stop-color="#dee144"/><stop offset="0.9157" stop-color="#dde144"/><stop offset="0.9158" stop-color="#dde144"/><stop offset="0.9282" stop-color="#dde145"/><stop offset="0.9408" stop-color="#dde147"/><stop offset="0.9533" stop-color="#dee249"/><stop offset="0.9659" stop-color="#dee24b"/><stop offset="0.9784" stop-color="#dee24e"/><stop offset="0.9909" stop-color="#dee250"/><stop offset="1.0000" stop-color="#dfe351"/></linearGradient><linearGradient id="g45" gradientUnits="userSpaceOnUse" x1="100.9" x2="818.4" y1="0" y2="0"><stop offset="0.0000" stop-color="#ffffff"/><stop offset="0.6088" stop-color="#ffffff"/><stop offset="0.6146" stop-color="#fefefc"/><stop offset="0.6272" stop-color="#fcfdf3"/><stop offset="0.6397" stop-color="#f9fae7"/><stop offset="0.6523" stop-color="#f6f8da"/><stop offset="0.6648" stop-color="#f2f5ce"/><stop offset="0.6774" stop-color="#eff3bf"/><stop offset="0.6899" stop-color="#edf0b0"/><stop offset="0.7024" stop-color="#eaeea1"/><stop offset="0.7097" stop-color="#e8ec98"/><stop offset="0.7108" stop-color="#e8ec96"/><stop offset="0.7150" stop-color="#e7eb91"/><stop offset="0.7275" stop-color="#e5e982"/><stop offset="0.7401" stop-color="#e3e775"/><stop offset="0.7526" stop-color="#e2e66b"/><stop offset="0.7652" stop-color="#e1e563"/><stop offset="0.7777" stop-color="#e0e45b"/><stop offset="0.7902" stop-color="#dfe354"/><stop offset="0.8028" stop-color="#dee24f"/><stop offset="0.8127" stop-color="#dee24b"/><stop offset="0.8138" stop-color="#dee24b"/><stop offset="0.8153" stop-color="#dee24a"/><stop offset="0.8279" stop-color="#dde145"/><stop offset="0.8404" stop-color="#dee144"/><stop offset="0.8780" stop-color="#dee144"/><stop offset="0.8906" stop-color="#dde144"/><stop offset="0.9031" stop-color="#dde145"/><stop offset="0.9147" stop-color="#dde147"/><stop offset="0.9158" stop-color="#dde147"/><stop offset="0.9282" stop-color="#dee249"/><stop offset="0.9408" stop-color="#dee24b"/><stop offset="0.9533" stop-color="#dee24d"/><stop offset="0.9659" stop-color="#dee24f"/><stop offset="0.9784" stop-color="#dfe351"/><stop offset="0.9909" stop-color="#dfe353"/><stop offset="1.0000" stop-color="#dfe355"/></linearGradient><linearGradient id="g46" gradientUnits="userSpaceOnUse" x1="100.9" x2="818.4" y1="0" y2="0"><stop offset="0.0000" stop-color="#ffffff"/><stop offset="0.6088" stop-color="#ffffff"/><stop offset="0.6146" stop-color="#fefffd"/><stop offset="0.6272" stop-color="#fdfdf6"/><stop offset="0.6397" stop-color="#fafbea"/><stop offset="0.6523" stop-color="#f7f8de"/><stop offset="0.6648" stop-color="#f3f6d1"/><stop offset="0.6774" stop-color="#f0f3c3"/><stop offset="0.6899" stop-color="#edf1b4"/><stop offset="0.7024" stop-color="#ebeea5"/><stop offset="0.7097" stop-color="#e9ed9c"/><stop offset="0.7108" stop-color="#e9ed9b"/><stop offset="0.7150" stop-color="#e8ec95"/><stop offset="0.7275" stop-color="#e5e986"/><stop offset="0.7401" stop-color="#e4e878"/><stop offset="0.7526" stop-color="#e2e66e"/><stop offset="0.7652" stop-color="#e1e567"/><stop offset="0.7777" stop-color="#e0e45f"/><stop offset="0.7902" stop-color="#dfe358"/><stop offset="0.8028" stop-color="#dfe353"/><stop offset="0.8127" stop-color="#dee24f"/><stop offset="0.8138" stop-color="#dee24e"/><stop offset="0.8153" stop-color="#dee24e"/><stop offset="0.8279" stop-color="#dde149"/><stop offset="0.8404" stop-color="#dde145"/><stop offset="0.8530" stop-color="#dde145"/><stop offset="0.8655" stop-color="#dde146"/><stop offset="0.8780" stop-color="#dde147"/><stop offset="0.8906" stop-color="#dde147"/><stop offset="0.9031" stop-color="#dee249"/><stop offset="0.9147" stop-color="#dee24b"/><stop offset="0.9158" stop-color="#dee24b"/><stop offset="0.9282" stop-color="#dee24d"/><stop offset="0.9408" stop-color="#dee24f"/><stop offset="0.9533" stop-color="#dfe351"/><stop offset="0.9659" stop-color="#dfe353"/><stop offset="0.9784" stop-color="#dfe355"/><stop offset="0.9909" stop-color="#dfe357"/><stop offset="1.0000" stop-color="#e0e458"/></linearGradient><linearGradient id="g47" gradientUnits="userSpaceOnUse" x1="100.9" x2="818.4" y1="0" y2="0"><stop offset="0.0000" stop-color="#ffffff"/><stop offset="0.6088" stop-color="#ffffff"/><stop offset="0.6146" stop-color="#fffffe"/><stop offset="0.6272" stop-color="#fdfef8"/><stop offset="0.6397" stop-color="#fafbed"/><stop offset="0.6523" stop-color="#f7f9e1"/><stop offset="0.6648" stop-color="#f4f7d5"/><stop offset="0.6774" stop-color="#f1f4c7"/><stop offset="0.6899" stop-color="#eef1b8"/><stop offset="0.7024" stop-color="#ebefa9"/><stop offset="0.7097" stop-color="#eaeea0"/><stop offset="0.7108" stop-color="#eaed9f"/><stop offset="0.7150" stop-color="#e9ec99"/><stop offset="0.7275" stop-color="#e6ea89"/><stop offset="0.7401" stop-color="#e4e87c"/><stop offset="0.7526" stop-color="#e3e772"/><stop offset="0.7652" stop-color="#e2e66a"/><stop offset="0.7777" stop-color="#e1e562"/><stop offset="0.7902" stop-color="#e0e45b"/><stop offset="0.8028" stop-color="#dfe356"/><stop offset="0.8127" stop-color="#dfe352"/><stop offset="0.8138" stop-color="#dfe352"/><stop offset="0.8153" stop-color="#dfe351"/><stop offset="0.8279" stop-color="#dee24c"/><stop offset="0.8404" stop-color="#dde147"/><stop offset="0.8530" stop-color="#dde149"/><stop offset="0.8655" stop-color="#dee24a"/><stop offset="0.8780" stop-color="#dee24b"/><stop offset="0.8906" stop-color="#dee24c"/><stop offset="0.9031" stop-color="#dee24e"/><stop offset="0.9147" stop-color="#dee24f"/><stop offset="0.9158" stop-color="#dee24f"/><stop offset="0.9282" stop-color="#dfe351"/><stop offset="0.9408" stop-color="#dfe353"/><stop offset="0.9533" stop-color="#dfe355"/><stop offset="0.9659" stop-color="#dfe357"/><stop offset="0.9784" stop-color="#e0e459"/><stop offset="0.9909" stop-color="#e0e45b"/><stop offset="1.0000" stop-color="#e0e45c"/></linearGradient><linearGradient id="g48" gradientUnits="userSpaceOnUse" x1="100.9" x2="818.4" y1="0" y2="0"><stop offset="0.0000" stop-color="#ffffff"/><stop offset="0.6146" stop-color="#ffffff"/><stop offset="0.6272" stop-color="#fefefb"/><stop offset="0.6397" stop-color="#fbfcf0"/><stop offset="0.6523" stop-color="#f8fae4"/><stop offset="0.6648" stop-color="#f5f7d8"/><stop offset="0.6774" stop-color="#f2f4ca"/><stop offset="0.6899" stop-color="#eff2bb"/><stop offset="0.7024" stop-color="#ecf0ac"/><stop offset="0.7097" stop-color="#ebeea4"/><stop offset="0.7108" stop-color="#eaeea2"/><stop offset="0.7150" stop-color="#e9ed9d"/><stop offset="0.7275" stop-color="#e7eb8d"/><stop offset="0.7401" stop-color="#e5e97f"/><stop offset="0.7526" stop-color="#e3e776"/><stop offset="0.7652" stop-color="#e2e66e"/><stop offset="0.7777" stop-color="#e1e566"/><stop offset="0.7902" stop-color="#e0e45f"/><stop offset="0.8028" stop-color="#e0e45a"/><stop offset="0.8127" stop-color="#dfe356"/><stop offset="0.8138" stop-color="#dfe356"/><stop offset="0.8153" stop-color="#dfe355"/><stop offset="0.8279" stop-color="#dee250"/><stop offset="0.8404" stop-color="#dee24c"/><stop offset="0.8530" stop-color="#dee24d"/><stop offset="0.8655" stop-color="#dee24e"/><stop offset="0.8780" stop-color="#dee24f"/><stop offset="0.8906" stop-color="#dee250"/><stop offset="0.9031" stop-color="#dfe352"/><stop offset="0.9147" stop-color="#dfe353"/><stop offset="0.9157" stop-color="#dfe354"/><stop offset="0.9158" stop-color="#dfe354"/><stop offset="0.9282" stop-color="#dfe355"/><stop offset="0.9408" stop-color="#dfe357"/><stop offset="0.9533" stop-color="#e0e459"/><stop offset="0.9659" stop-color="#e0e45b"/><stop offset="0.9784" stop-color="#e0e45c"/><stop offset="0.9909" stop-color="#e0e45e"/><stop offset="1.0000" stop-color="#e0e45f"/></linearGradient><linearGradient id="g49" gradientUnits="userSpaceOnUse" x1="100.9" x2="818.4" y1="0" y2="0"><stop offset="0.0000" stop-color="#ffffff"/><stop offset="0.6146" stop-color="#ffffff"/><stop offset="0.6272" stop-color="#fefefb"/><stop offset="0.6397" stop-color="#fcfcf2"/><stop offset="0.6523" stop-color="#f8fae5"/><stop offset="0.6648" stop-color="#f5f7d7"/><stop offset="0.6774" stop-color="#f1f4c9"/><stop offset="0.6899" stop-color="#eff2ba"/><stop offset="0.7024" stop-color="#ecf0ad"/><stop offset="0.7097" stop-color="#ebeea5"/><stop offset="0.7108" stop-color="#ebeea4"/><stop offset="0.7150" stop-color="#eaed9f"/><stop offset="0.7275" stop-color="#e7eb91"/><stop offset="0.7401" stop-color="#e5e983"/><stop offset="0.7526" stop-color="#e4e87a"/><stop offset="0.7652" stop-color="#e3e773"/><stop offset="0.7777" stop-color="#e2e66b"/><stop offset="0.7902" stop-color="#e1e565"/><stop offset="0.8028" stop-color="#e0e460"/><stop offset="0.8127" stop-color="#e0e45c"/><stop offset="0.8138" stop-color="#e0e45c"/><stop offset="0.8153" stop-color="#e0e45b"/><stop offset="0.8279" stop-color="#dfe356"/><stop offset="0.8404" stop-color="#dfe352"/><stop offset="0.8530" stop-color="#dfe352"/><stop offset="0.8655" stop-color="#dfe353"/><stop offset="0.8780" stop-color="#dfe354"/><stop offset="0.8906" stop-color="#dfe355"/><stop offset="0.9031" stop-color="#dfe356"/><stop offset="0.9147" stop-color="#dfe358"/><stop offset="0.9158" stop-color="#dfe358"/><stop offset="0.9282" stop-color="#e0e459"/><stop offset="0.9408" stop-color="#e0e45b"/><stop offset="0.9533" stop-color="#e0e45c"/><stop offset="0.9659" stop-color="#e0e45e"/><stop offset="0.9784" stop-color="#e0e45f"/><stop offset="0.9909" stop-color="#e1e561"/><stop offset="1.0000" stop-color="#e1e562"/></linearGradient><linearGradient id="g50" gradientUnits="userSpaceOnUse" x1="100.9" x2="818.4" y1="0" y2="0"><stop offset="0.0000" stop-color="#ffffff"/><stop offset="0.6146" stop-color="#ffffff"/><stop offset="0.6272" stop-color="#fefefc"/><stop offset="0.6397" stop-color="#fcfdf4"/><stop offset="0.6523" stop-color="#f9fae6"/><stop offset="0.6648" stop-color="#f5f7d7"/><stop offset="0.6774" stop-color="#f1f4c7"/><stop offset="0.6899" stop-color="#eef2ba"/><stop offset="0.7024" stop-color="#ecf0ad"/><stop offset="0.7097" stop-color="#ebefa6"/><stop offset="0.7108" stop-color="#ebeea5"/><stop offset="0.7150" stop-color="#eaeea1"/><stop offset="0.7275" stop-color="#e8ec94"/><stop offset="0.7401" stop-color="#e6ea87"/><stop offset="0.7526" stop-color="#e5e97f"/><stop offset="0.7652" stop-color="#e4e878"/><stop offset="0.7777" stop-color="#e3e770"/><stop offset="0.7902" stop-color="#e2e66a"/><stop offset="0.8028" stop-color="#e1e565"/><stop offset="0.8127" stop-color="#e1e562"/><stop offset="0.8138" stop-color="#e1e561"/><stop offset="0.8153" stop-color="#e1e561"/><stop offset="0.8279" stop-color="#e0e45c"/><stop offset="0.8404" stop-color="#dfe358"/><stop offset="0.8530" stop-color="#e0e458"/><stop offset="0.8655" stop-color="#e0e459"/><stop offset="0.8906" stop-color="#e0e459"/><stop offset="0.9031" stop-color="#e0e45a"/><stop offset="0.9147" stop-color="#e0e45c"/><stop offset="0.9158" stop-color="#e0e45c"/><stop offset="0.9282" stop-color="#e0e45d"/><stop offset="0.9408" stop-color="#e0e45e"/><stop offset="0.9533" stop-color="#e0e460"/><stop offset="0.9659" stop-color="#e1e561"/><stop offset="0.9784" stop-color="#e1e563"/><stop offset="0.9909" stop-color="#e1e564"/><stop offset="1.0000" stop-color="#e1e565"/></linearGradient><linearGradient id="g51" gradientUnits="userSpaceOnUse" x1="100.9" x2="818.4" y1="0" y2="0"><stop offset="0.0000" stop-color="#ffffff"/><stop offset="0.6146" stop-color="#ffffff"/><stop offset="0.6272" stop-color="#fefffd"/><stop offset="0.6397" stop-color="#fdfdf6"/><stop offset="0.6523" stop-color="#f9fae7"/><stop offset="0.6648" stop-color="#f5f7d7"/><stop offset="0.6774" stop-color="#f1f4c6"/><stop offset="0.6899" stop-color="#eef2b9"/><stop offset="0.7024" stop-color="#ecf0ae"/><stop offset="0.7097" stop-color="#ebefa7"/><stop offset="0.7108" stop-color="#ebefa6"/><stop offset="0.7150" stop-color="#eaeea2"/><stop offset="0.7275" stop-color="#e8ec97"/><stop offset="0.7401" stop-color="#e6ea8c"/><stop offset="0.7526" stop-color="#e5e984"/><stop offset="0.7652" stop-color="#e4e87d"/><stop offset="0.7777" stop-color="#e3e776"/><stop offset="0.7902" stop-color="#e3e76f"/><stop offset="0.8028" stop-color="#e2e66b"/><stop offset="0.8127" stop-color="#e1e567"/><stop offset="0.8153" stop-color="#e1e567"/><stop offset="0.8279" stop-color="#e1e562"/><stop offset="0.8404" stop-color="#e0e45e"/><stop offset="0.8906" stop-color="#e0e45e"/><stop offset="0.9031" stop-color="#e0e45f"/><stop offset="0.9147" stop-color="#e0e460"/><stop offset="0.9158" stop-color="#e0e460"/><stop offset="0.9282" stop-color="#e1e561"/><stop offset="0.9408" stop-color="#e1e562"/><stop offset="0.9533" stop-color="#e1e563"/><stop offset="0.9659" stop-color="#e1e564"/><stop offset="0.9784" stop-color="#e1e566"/><stop offset="0.9909" stop-color="#e1e567"/><stop offset="1.0000" stop-color="#e2e668"/></linearGradient><linearGradient id="g52" gradientUnits="userSpaceOnUse" x1="100.9" x2="818.4" y1="0" y2="0"><stop offset="0.0000" stop-color="#ffffff"/><stop offset="0.6146" stop-color="#ffffff"/><stop offset="0.6272" stop-color="#fffffe"/><stop offset="0.6397" stop-color="#fdfef8"/><stop offset="0.6523" stop-color="#f9fae7"/><stop offset="0.6648" stop-color="#f5f7d6"/><stop offset="0.6774" stop-color="#f0f3c4"/><stop offset="0.6899" stop-color="#eef1b8"/><stop offset="0.7024" stop-color="#ecf0ae"/><stop offset="0.7097" stop-color="#ebefa8"/><stop offset="0.7108" stop-color="#ebefa8"/><stop offset="0.7150" stop-color="#ebeea4"/><stop offset="0.7275" stop-color="#e9ed9a"/><stop offset="0.7401" stop-color="#e7eb90"/><stop offset="0.7526" stop-color="#e6ea88"/><stop offset="0.7652" stop-color="#e5e981"/><stop offset="0.7777" stop-color="#e4e87b"/><stop offset="0.7902" stop-color="#e3e775"/><stop offset="0.8028" stop-color="#e3e770"/><stop offset="0.8127" stop-color="#e2e66d"/><stop offset="0.8138" stop-color="#e2e66d"/><stop offset="0.8153" stop-color="#e2e66c"/><stop offset="0.8279" stop-color="#e2e668"/><stop offset="0.8404" stop-color="#e1e564"/><stop offset="0.8530" stop-color="#e1e564"/><stop offset="0.8655" stop-color="#e1e563"/><stop offset="0.8780" stop-color="#e1e563"/><stop offset="0.8906" stop-color="#e1e562"/><stop offset="0.9031" stop-color="#e1e563"/><stop offset="0.9147" stop-color="#e1e564"/><stop offset="0.9158" stop-color="#e1e564"/><stop offset="0.9282" stop-color="#e1e565"/><stop offset="0.9408" stop-color="#e1e566"/><stop offset="0.9533" stop-color="#e1e567"/><stop offset="0.9659" stop-color="#e2e668"/><stop offset="0.9784" stop-color="#e2e669"/><stop offset="0.9909" stop-color="#e2e66a"/><stop offset="1.0000" stop-color="#e2e66a"/></linearGradient><linearGradient id="g53" gradientUnits="userSpaceOnUse" x1="100.9" x2="818.4" y1="0" y2="0"><stop offset="0.0000" stop-color="#ffffff"/><stop offset="0.6146" stop-color="#ffffff"/><stop offset="0.6272" stop-color="#fffffe"/><stop offset="0.6397" stop-color="#fefefb"/><stop offset="0.6523" stop-color="#f9fae8"/><stop offset="0.6648" stop-color="#f4f7d6"/><stop offset="0.6774" stop-color="#f0f3c2"/><stop offset="0.6899" stop-color="#eef1b7"/><stop offset="0.7024" stop-color="#ecf0ae"/><stop offset="0.7097" stop-color="#ecefaa"/><stop offset="0.7108" stop-color="#ebefa9"/><stop offset="0.7150" stop-color="#ebefa6"/><stop offset="0.7275" stop-color="#e9ed9e"/><stop offset="0.7401" stop-color="#e8ec95"/><stop offset="0.7526" stop-color="#e7eb8d"/><stop offset="0.7652" stop-color="#e6ea86"/><stop offset="0.7777" stop-color="#e5e980"/><stop offset="0.7902" stop-color="#e4e87a"/><stop offset="0.8028" stop-color="#e3e776"/><stop offset="0.8127" stop-color="#e3e773"/><stop offset="0.8138" stop-color="#e3e773"/><stop offset="0.8153" stop-color="#e3e772"/><stop offset="0.8279" stop-color="#e2e66e"/><stop offset="0.8404" stop-color="#e2e66a"/><stop offset="0.8530" stop-color="#e2e669"/><stop offset="0.8655" stop-color="#e2e669"/><stop offset="0.8780" stop-color="#e2e668"/><stop offset="0.8906" stop-color="#e1e567"/><stop offset="0.9031" stop-color="#e1e567"/><stop offset="0.9147" stop-color="#e2e668"/><stop offset="0.9158" stop-color="#e2e668"/><stop offset="0.9282" stop-color="#e2e669"/><stop offset="0.9408" stop-color="#e2e669"/><stop offset="0.9533" stop-color="#e2e66a"/><stop offset="0.9659" stop-color="#e2e66b"/><stop offset="0.9784" stop-color="#e2e66c"/><stop offset="0.9909" stop-color="#e2e66c"/><stop offset="1.0000" stop-color="#e2e66d"/></linearGradient><linearGradient id="g54" gradientUnits="userSpaceOnUse" x1="100.9" x2="818.4" y1="0" y2="0"><stop offset="0.0000" stop-color="#ffffff"/><stop offset="0.6272" stop-color="#ffffff"/><stop offset="0.6397" stop-color="#fefffd"/><stop offset="0.6523" stop-color="#fafbeb"/><stop offset="0.6648" stop-color="#f5f7d7"/><stop offset="0.6774" stop-color="#f0f3c2"/><stop offset="0.6899" stop-color="#eef1b7"/><stop offset="0.7024" stop-color="#edf0b0"/><stop offset="0.7097" stop-color="#ecefac"/><stop offset="0.7108" stop-color="#ecefab"/><stop offset="0.7150" stop-color="#ebefa9"/><stop offset="0.7275" stop-color="#eaeea1"/><stop offset="0.7401" stop-color="#e9ed9a"/><stop offset="0.7526" stop-color="#e8eb93"/><stop offset="0.7652" stop-color="#e6ea8b"/><stop offset="0.7777" stop-color="#e5e985"/><stop offset="0.7902" stop-color="#e5e97f"/><stop offset="0.8028" stop-color="#e4e87c"/><stop offset="0.8127" stop-color="#e4e879"/><stop offset="0.8138" stop-color="#e4e878"/><stop offset="0.8153" stop-color="#e4e878"/><stop offset="0.8279" stop-color="#e3e774"/><stop offset="0.8404" stop-color="#e3e771"/><stop offset="0.8530" stop-color="#e3e76f"/><stop offset="0.8655" stop-color="#e2e66e"/><stop offset="0.8780" stop-color="#e2e66d"/><stop offset="0.8906" stop-color="#e2e66c"/><stop offset="0.9158" stop-color="#e2e66c"/><stop offset="0.9282" stop-color="#e2e66d"/><stop offset="0.9408" stop-color="#e2e66d"/><stop offset="0.9533" stop-color="#e2e66e"/><stop offset="0.9784" stop-color="#e2e66e"/><stop offset="0.9909" stop-color="#e2e66f"/><stop offset="1.0000" stop-color="#e3e76f"/></linearGradient><linearGradient id="g55" gradientUnits="userSpaceOnUse" x1="100.9" x2="818.4" y1="0" y2="0"><stop offset="0.0000" stop-color="#ffffff"/><stop offset="0.2885" stop-color="#ffffff"/><stop offset="0.3006" stop-color="#fdfef9"/><stop offset="0.3010" stop-color="#fdfef8"/><stop offset="0.3017" stop-color="#fdfdf6"/><stop offset="0.3136" stop-color="#fcfcf2"/><stop offset="0.3889" stop-color="#fcfcf2"/><stop offset="0.4014" stop-color="#fdfef8"/><stop offset="0.4036" stop-color="#fffffe"/><stop offset="0.4047" stop-color="#ffffff"/><stop offset="0.6397" stop-color="#ffffff"/><stop offset="0.6523" stop-color="#fdfdf6"/><stop offset="0.6648" stop-color="#f9fae8"/><stop offset="0.6774" stop-color="#f5f8da"/><stop offset="0.6899" stop-color="#f4f6d3"/><stop offset="0.7024" stop-color="#f2f5ce"/><stop offset="0.7097" stop-color="#f1f4c7"/><stop offset="0.7108" stop-color="#f1f4c6"/><stop offset="0.7150" stop-color="#f0f3c1"/><stop offset="0.7275" stop-color="#eef1b5"/><stop offset="0.7401" stop-color="#ebefa9"/><stop offset="0.7526" stop-color="#eaed9f"/><stop offset="0.7652" stop-color="#e8ec96"/><stop offset="0.7777" stop-color="#e7eb8e"/><stop offset="0.7902" stop-color="#e6ea87"/><stop offset="0.8028" stop-color="#e5e985"/><stop offset="0.8127" stop-color="#e5e983"/><stop offset="0.8138" stop-color="#e5e983"/><stop offset="0.8153" stop-color="#e5e982"/><stop offset="0.8279" stop-color="#e5e980"/><stop offset="0.8404" stop-color="#e4e87d"/><stop offset="0.8530" stop-color="#e4e87b"/><stop offset="0.8655" stop-color="#e4e879"/><stop offset="0.8780" stop-color="#e4e877"/><stop offset="0.8906" stop-color="#e3e775"/><stop offset="0.9031" stop-color="#e3e774"/><stop offset="0.9158" stop-color="#e3e774"/><stop offset="0.9282" stop-color="#e3e773"/><stop offset="0.9533" stop-color="#e3e773"/><stop offset="0.9659" stop-color="#e3e772"/><stop offset="0.9909" stop-color="#e3e772"/><stop offset="1.0000" stop-color="#e3e771"/></linearGradient><linearGradient id="g56" gradientUnits="userSpaceOnUse" x1="100.9" x2="818.4" y1="0" y2="0"><stop offset="0.0000" stop-color="#ffffff"/><stop offset="0.2885" stop-color="#ffffff"/><stop offset="0.3006" stop-color="#fdfdf5"/><stop offset="0.3010" stop-color="#fcfdf4"/><stop offset="0.3017" stop-color="#fbfcf1"/><stop offset="0.3136" stop-color="#fafbec"/><stop offset="0.3889" stop-color="#fafbec"/><stop offset="0.4014" stop-color="#fcfdf5"/><stop offset="0.4036" stop-color="#fefffd"/><stop offset="0.4047" stop-color="#ffffff"/><stop offset="0.6899" stop-color="#ffffff"/><stop offset="0.7024" stop-color="#fffffe"/><stop offset="0.7097" stop-color="#fcfcf2"/><stop offset="0.7108" stop-color="#fbfcf0"/><stop offset="0.7150" stop-color="#f9fbe9"/><stop offset="0.7275" stop-color="#f4f7d5"/><stop offset="0.7401" stop-color="#f0f3c0"/><stop offset="0.7526" stop-color="#edf0b1"/><stop offset="0.7652" stop-color="#ebeea6"/><stop offset="0.7777" stop-color="#e9ed9a"/><stop offset="0.7902" stop-color="#e7eb92"/><stop offset="0.8028" stop-color="#e7eb92"/><stop offset="0.8127" stop-color="#e7eb91"/><stop offset="0.8404" stop-color="#e7eb91"/><stop offset="0.8530" stop-color="#e6ea8c"/><stop offset="0.8655" stop-color="#e6ea88"/><stop offset="0.8780" stop-color="#e5e985"/><stop offset="0.8906" stop-color="#e5e981"/><stop offset="0.9031" stop-color="#e5e97f"/><stop offset="0.9147" stop-color="#e4e87e"/><stop offset="0.9158" stop-color="#e4e87e"/><stop offset="0.9282" stop-color="#e4e87d"/><stop offset="0.9408" stop-color="#e4e87c"/><stop offset="0.9533" stop-color="#e4e87b"/><stop offset="0.9659" stop-color="#e4e879"/><stop offset="0.9784" stop-color="#e4e878"/><stop offset="0.9909" stop-color="#e4e877"/><stop offset="1.0000" stop-color="#e3e776"/></linearGradient><linearGradient id="g57" gradientUnits="userSpaceOnUse" x1="100.9" x2="818.4" y1="0" y2="0"><stop offset="0.0000" stop-color="#ffffff"/><stop offset="0.2885" stop-color="#ffffff"/><stop offset="0.3006" stop-color="#fdfdf5"/><stop offset="0.3010" stop-color="#fcfdf4"/><stop offset="0.3017" stop-color="#fbfcf1"/><stop offset="0.3136" stop-color="#fafbec"/><stop offset="0.3889" stop-color="#fafbec"/><stop offset="0.4014" stop-color="#fcfdf5"/><stop offset="0.4036" stop-color="#fefffd"/><stop offset="0.4047" stop-color="#ffffff"/><stop offset="0.6899" stop-color="#ffffff"/><stop offset="0.7024" stop-color="#fffffe"/><stop offset="0.7097" stop-color="#fdfdf5"/><stop offset="0.7108" stop-color="#fcfdf4"/><stop offset="0.7150" stop-color="#fbfcef"/><stop offset="0.7275" stop-color="#f7f8de"/><stop offset="0.7401" stop-color="#f1f4c9"/><stop offset="0.7526" stop-color="#eef2b9"/><stop offset="0.7652" stop-color="#ecf0ac"/><stop offset="0.7777" stop-color="#eaeda0"/><stop offset="0.7902" stop-color="#e8ec96"/><stop offset="0.8028" stop-color="#e8ec95"/><stop offset="0.8127" stop-color="#e8ec94"/><stop offset="0.8153" stop-color="#e8ec94"/><stop offset="0.8279" stop-color="#e8eb93"/><stop offset="0.8404" stop-color="#e7eb92"/><stop offset="0.8530" stop-color="#e7eb8e"/><stop offset="0.8655" stop-color="#e6ea8a"/><stop offset="0.8780" stop-color="#e6ea87"/><stop offset="0.8906" stop-color="#e5e984"/><stop offset="0.9031" stop-color="#e5e982"/><stop offset="0.9147" stop-color="#e5e981"/><stop offset="0.9158" stop-color="#e5e981"/><stop offset="0.9282" stop-color="#e5e980"/><stop offset="0.9408" stop-color="#e4e87e"/><stop offset="0.9533" stop-color="#e4e87d"/><stop offset="0.9659" stop-color="#e4e87c"/><stop offset="0.9784" stop-color="#e4e87b"/><stop offset="0.9909" stop-color="#e4e87a"/><stop offset="1.0000" stop-color="#e4e879"/></linearGradient><linearGradient id="g58" gradientUnits="userSpaceOnUse" x1="100.9" x2="818.4" y1="0" y2="0"><stop offset="0.0000" stop-color="#ffffff"/><stop offset="0.2885" stop-color="#ffffff"/><stop offset="0.3006" stop-color="#fdfdf5"/><stop offset="0.3010" stop-color="#fcfdf4"/><stop offset="0.3017" stop-color="#fbfcf1"/><stop offset="0.3136" stop-color="#fafbec"/><stop offset="0.3889" stop-color="#fafbec"/><stop offset="0.4014" stop-color="#fcfdf5"/><stop offset="0.4036" stop-color="#fefffd"/><stop offset="0.4047" stop-color="#ffffff"/><stop offset="0.6899" stop-color="#ffffff"/><stop offset="0.7024" stop-color="#fffffe"/><stop offset="0.7097" stop-color="#fdfef9"/><stop offset="0.7108" stop-color="#fdfef8"/><stop offset="0.7150" stop-color="#fcfdf5"/><stop offset="0.7275" stop-color="#f9fae7"/><stop offset="0.7401" stop-color="#f3f6d1"/><stop offset="0.7526" stop-color="#f0f3c1"/><stop offset="0.7652" stop-color="#edf1b3"/><stop offset="0.7777" stop-color="#ebeea5"/><stop offset="0.7902" stop-color="#e9ed9a"/><stop offset="0.8028" stop-color="#e9ec99"/><stop offset="0.8127" stop-color="#e8ec97"/><stop offset="0.8153" stop-color="#e8ec97"/><stop offset="0.8279" stop-color="#e8ec95"/><stop offset="0.8404" stop-color="#e8ec94"/><stop offset="0.8530" stop-color="#e7eb90"/><stop offset="0.8655" stop-color="#e6ea8c"/><stop offset="0.8780" stop-color="#e6ea89"/><stop offset="0.8906" stop-color="#e5e986"/><stop offset="0.9031" stop-color="#e5e984"/><stop offset="0.9147" stop-color="#e5e983"/><stop offset="0.9158" stop-color="#e5e983"/><stop offset="0.9282" stop-color="#e5e982"/><stop offset="0.9408" stop-color="#e5e981"/><stop offset="0.9533" stop-color="#e5e980"/><stop offset="0.9659" stop-color="#e4e87e"/><stop offset="0.9784" stop-color="#e4e87d"/><stop offset="0.9909" stop-color="#e4e87c"/><stop offset="1.0000" stop-color="#e4e87b"/></linearGradient><linearGradient id="g59" gradientUnits="userSpaceOnUse" x1="100.9" x2="818.4" y1="0" y2="0"><stop offset="0.0000" stop-color="#ffffff"/><stop offset="0.2885" stop-color="#ffffff"/><stop offset="0.3006" stop-color="#fdfdf5"/><stop offset="0.3010" stop-color="#fcfdf4"/><stop offset="0.3017" stop-color="#fbfcf1"/><stop offset="0.3136" stop-color="#fafbec"/><stop offset="0.3889" stop-color="#fafbec"/><stop offset="0.4014" stop-color="#fcfdf5"/><stop offset="0.4036" stop-color="#fefffd"/><stop offset="0.4047" stop-color="#ffffff"/><stop offset="0.7024" stop-color="#ffffff"/><stop offset="0.7097" stop-color="#fefefc"/><stop offset="0.7108" stop-color="#fefefc"/><stop offset="0.7150" stop-color="#fefefa"/><stop offset="0.7275" stop-color="#fbfcf0"/><stop offset="0.7401" stop-color="#f5f7d9"/><stop offset="0.7526" stop-color="#f1f4c9"/><stop offset="0.7652" stop-color="#eef2ba"/><stop offset="0.7777" stop-color="#ecefaa"/><stop offset="0.7902" stop-color="#eaed9f"/><stop offset="0.8028" stop-color="#e9ed9c"/><stop offset="0.8127" stop-color="#e9ed9a"/><stop offset="0.8153" stop-color="#e9ed9a"/><stop offset="0.8279" stop-color="#e8ec97"/><stop offset="0.8404" stop-color="#e8ec95"/><stop offset="0.8530" stop-color="#e7eb92"/><stop offset="0.8655" stop-color="#e7eb8f"/><stop offset="0.8780" stop-color="#e6ea8b"/><stop offset="0.8906" stop-color="#e6ea88"/><stop offset="0.9031" stop-color="#e6ea87"/><stop offset="0.9147" stop-color="#e5e986"/><stop offset="0.9158" stop-color="#e5e986"/><stop offset="0.9282" stop-color="#e5e985"/><stop offset="0.9408" stop-color="#e5e983"/><stop offset="0.9533" stop-color="#e5e982"/><stop offset="0.9659" stop-color="#e5e981"/><stop offset="0.9784" stop-color="#e5e980"/><stop offset="0.9909" stop-color="#e5e97f"/><stop offset="1.0000" stop-color="#e4e87e"/></linearGradient><linearGradient id="g60" gradientUnits="userSpaceOnUse" x1="100.9" x2="818.4" y1="0" y2="0"><stop offset="0.0000" stop-color="#ffffff"/><stop offset="0.2885" stop-color="#ffffff"/><stop offset="0.3006" stop-color="#fdfdf5"/><stop offset="0.3010" stop-color="#fcfdf4"/><stop offset="0.3017" stop-color="#fbfcf1"/><stop offset="0.3136" stop-color="#fafbec"/><stop offset="0.3889" stop-color="#fafbec"/><stop offset="0.4014" stop-color="#fcfdf5"/><stop offset="0.4036" stop-color="#fefffd"/><stop offset="0.4047" stop-color="#ffffff"/><stop offset="0.7150" stop-color="#ffffff"/><stop offset="0.7275" stop-color="#fdfdf7"/><stop offset="0.7401" stop-color="#f8f9e2"/><stop offset="0.7526" stop-color="#f3f6d1"/><stop offset="0.7652" stop-color="#f0f3c1"/><stop offset="0.7777" stop-color="#edf0b0"/><stop offset="0.7902" stop-color="#ebeea3"/><stop offset="0.8028" stop-color="#eaeea0"/><stop offset="0.8127" stop-color="#eaed9e"/><stop offset="0.8138" stop-color="#e9ed9e"/><stop offset="0.8153" stop-color="#e9ed9d"/><stop offset="0.8279" stop-color="#e9ed9a"/><stop offset="0.8404" stop-color="#e8ec97"/><stop offset="0.8530" stop-color="#e8ec94"/><stop offset="0.8655" stop-color="#e7eb91"/><stop offset="0.8780" stop-color="#e7eb8e"/><stop offset="0.8906" stop-color="#e6ea8b"/><stop offset="0.9031" stop-color="#e6ea8a"/><stop offset="0.9147" stop-color="#e6ea89"/><stop offset="0.9157" stop-color="#e6ea89"/><stop offset="0.9158" stop-color="#e6ea88"/><stop offset="0.9282" stop-color="#e6ea87"/><stop offset="0.9408" stop-color="#e5e986"/><stop offset="0.9533" stop-color="#e5e985"/><stop offset="0.9659" stop-color="#e5e984"/><stop offset="0.9784" stop-color="#e5e983"/><stop offset="0.9909" stop-color="#e5e981"/><stop offset="1.0000" stop-color="#e5e980"/></linearGradient><linearGradient id="g61" gradientUnits="userSpaceOnUse" x1="100.9" x2="818.4" y1="0" y2="0"><stop offset="0.0000" stop-color="#ffffff"/><stop offset="0.2885" stop-color="#ffffff"/><stop offset="0.3006" stop-color="#fdfdf5"/><stop offset="0.3010" stop-color="#fcfdf4"/><stop offset="0.3017" stop-color="#fbfcf1"/><stop offset="0.3136" stop-color="#fafbec"/><stop offset="0.3889" stop-color="#fafbec"/><stop offset="0.4014" stop-color="#fcfdf5"/><stop offset="0.4036" stop-color="#fefffd"/><stop offset="0.4047" stop-color="#ffffff"/><stop offset="0.7150" stop-color="#ffffff"/><stop offset="0.7275" stop-color="#fefefa"/><stop offset="0.7401" stop-color="#fafbec"/><stop offset="0.7526" stop-color="#f6f8dd"/><stop offset="0.7652" stop-color="#f2f5cc"/><stop offset="0.7777" stop-color="#eff2ba"/><stop offset="0.7902" stop-color="#ecefab"/><stop offset="0.8028" stop-color="#ebefa7"/><stop offset="0.8127" stop-color="#ebeea4"/><stop offset="0.8138" stop-color="#ebeea4"/><stop offset="0.8153" stop-color="#eaeea3"/><stop offset="0.8279" stop-color="#eaed9f"/><stop offset="0.8404" stop-color="#e9ed9b"/><stop offset="0.8530" stop-color="#e9ec98"/><stop offset="0.8655" stop-color="#e8ec95"/><stop offset="0.8780" stop-color="#e7eb92"/><stop offset="0.8906" stop-color="#e7eb8f"/><stop offset="0.9031" stop-color="#e7eb8e"/><stop offset="0.9147" stop-color="#e6ea8d"/><stop offset="0.9157" stop-color="#e6ea8c"/><stop offset="0.9158" stop-color="#e6ea8c"/><stop offset="0.9282" stop-color="#e6ea8b"/><stop offset="0.9408" stop-color="#e6ea8a"/><stop offset="0.9533" stop-color="#e6ea88"/><stop offset="0.9659" stop-color="#e6ea87"/><stop offset="0.9784" stop-color="#e5e986"/><stop offset="0.9909" stop-color="#e5e985"/><stop offset="1.0000" stop-color="#e5e984"/></linearGradient><linearGradient id="g62" gradientUnits="userSpaceOnUse" x1="100.9" x2="818.4" y1="0" y2="0"><stop offset="0.0000" stop-color="#ffffff"/><stop offset="0.2132" stop-color="#ffffff"/><stop offset="0.2258" stop-color="#fdfef8"/><stop offset="0.2383" stop-color="#fbfcee"/><stop offset="0.2509" stop-color="#fbfbed"/><stop offset="0.2634" stop-color="#fafbed"/><stop offset="0.2760" stop-color="#fafbec"/><stop offset="0.3889" stop-color="#fafbec"/><stop offset="0.4014" stop-color="#fcfdf5"/><stop offset="0.4036" stop-color="#fefffd"/><stop offset="0.4047" stop-color="#ffffff"/><stop offset="0.7150" stop-color="#ffffff"/><stop offset="0.7275" stop-color="#fefffd"/><stop offset="0.7401" stop-color="#fdfdf7"/><stop offset="0.7526" stop-color="#f9fae8"/><stop offset="0.7652" stop-color="#f5f7d6"/><stop offset="0.7777" stop-color="#f0f3c4"/><stop offset="0.7902" stop-color="#edf1b3"/><stop offset="0.8028" stop-color="#ecf0ae"/><stop offset="0.8127" stop-color="#ecefaa"/><stop offset="0.8138" stop-color="#ecefaa"/><stop offset="0.8153" stop-color="#ecefa9"/><stop offset="0.8279" stop-color="#ebeea4"/><stop offset="0.8404" stop-color="#eaed9f"/><stop offset="0.8530" stop-color="#e9ed9c"/><stop offset="0.8655" stop-color="#e9ec99"/><stop offset="0.8780" stop-color="#e8ec97"/><stop offset="0.8906" stop-color="#e8ec94"/><stop offset="0.9031" stop-color="#e7eb92"/><stop offset="0.9147" stop-color="#e7eb91"/><stop offset="0.9158" stop-color="#e7eb91"/><stop offset="0.9282" stop-color="#e7eb8f"/><stop offset="0.9408" stop-color="#e7eb8e"/><stop offset="0.9533" stop-color="#e6ea8c"/><stop offset="0.9659" stop-color="#e6ea8b"/><stop offset="0.9784" stop-color="#e6ea8a"/><stop offset="0.9909" stop-color="#e6ea88"/><stop offset="1.0000" stop-color="#e6ea88"/></linearGradient><linearGradient id="g63" gradientUnits="userSpaceOnUse" x1="100.9" x2="818.4" y1="0" y2="0"><stop offset="0.0000" stop-color="#ffffff"/><stop offset="0.2132" stop-color="#ffffff"/><stop offset="0.2258" stop-color="#fdfdf7"/><stop offset="0.2383" stop-color="#fafbec"/><stop offset="0.2509" stop-color="#fafbec"/><stop offset="0.2634" stop-color="#fafbeb"/><stop offset="0.2760" stop-color="#fafbeb"/><stop offset="0.2885" stop-color="#fafbea"/><stop offset="0.3017" stop-color="#fafbea"/><stop offset="0.3136" stop-color="#fafbeb"/><stop offset="0.3261" stop-color="#fafbec"/><stop offset="0.3889" stop-color="#fafbec"/><stop offset="0.4014" stop-color="#fcfdf5"/><stop offset="0.4036" stop-color="#fefffd"/><stop offset="0.4047" stop-color="#ffffff"/><stop offset="0.7401" stop-color="#ffffff"/><stop offset="0.7526" stop-color="#fcfdf3"/><stop offset="0.7652" stop-color="#f7f9e0"/><stop offset="0.7777" stop-color="#f2f5cc"/><stop offset="0.7902" stop-color="#eff2bc"/><stop offset="0.8028" stop-color="#eef1b6"/><stop offset="0.8127" stop-color="#edf0b1"/><stop offset="0.8138" stop-color="#edf0b0"/><stop offset="0.8153" stop-color="#edf0b0"/><stop offset="0.8279" stop-color="#ecefa9"/><stop offset="0.8404" stop-color="#ebeea3"/><stop offset="0.8530" stop-color="#eaeea1"/><stop offset="0.8655" stop-color="#e9ed9e"/><stop offset="0.8780" stop-color="#e9ed9b"/><stop offset="0.8906" stop-color="#e8ec98"/><stop offset="0.9031" stop-color="#e8ec96"/><stop offset="0.9147" stop-color="#e8ec95"/><stop offset="0.9158" stop-color="#e8ec95"/><stop offset="0.9282" stop-color="#e8eb93"/><stop offset="0.9408" stop-color="#e7eb92"/><stop offset="0.9533" stop-color="#e7eb90"/><stop offset="0.9659" stop-color="#e7eb8f"/><stop offset="0.9784" stop-color="#e7eb8e"/><stop offset="0.9909" stop-color="#e6ea8c"/><stop offset="1.0000" stop-color="#e6ea8b"/></linearGradient><linearGradient id="g64" gradientUnits="userSpaceOnUse" x1="100.9" x2="818.4" y1="0" y2="0"><stop offset="0.0000" stop-color="#ffffff"/><stop offset="0.2132" stop-color="#ffffff"/><stop offset="0.2258" stop-color="#fdfdf6"/><stop offset="0.2383" stop-color="#fafbea"/><stop offset="0.2509" stop-color="#fafbea"/><stop offset="0.2634" stop-color="#fafbe9"/><stop offset="0.2760" stop-color="#f9fbe9"/><stop offset="0.3017" stop-color="#f9fbe9"/><stop offset="0.3136" stop-color="#fafbeb"/><stop offset="0.3261" stop-color="#fafbec"/><stop offset="0.3889" stop-color="#fafbec"/><stop offset="0.4014" stop-color="#fcfdf5"/><stop offset="0.4036" stop-color="#fefffd"/><stop offset="0.4047" stop-color="#ffffff"/><stop offset="0.7401" stop-color="#ffffff"/><stop offset="0.7526" stop-color="#fdfdf7"/><stop offset="0.7652" stop-color="#f9fae6"/><stop offset="0.7777" stop-color="#f4f6d4"/><stop offset="0.7902" stop-color="#f1f4c6"/><stop offset="0.8028" stop-color="#eff2be"/><stop offset="0.8127" stop-color="#eef1b8"/><stop offset="0.8138" stop-color="#eef1b7"/><stop offset="0.8153" stop-color="#eef1b6"/><stop offset="0.8279" stop-color="#edf0af"/><stop offset="0.8404" stop-color="#ebefa8"/><stop offset="0.8530" stop-color="#ebeea5"/><stop offset="0.8655" stop-color="#eaeea2"/><stop offset="0.8780" stop-color="#eaed9f"/><stop offset="0.8906" stop-color="#e9ed9c"/><stop offset="0.9031" stop-color="#e9ed9a"/><stop offset="0.9147" stop-color="#e9ec99"/><stop offset="0.9158" stop-color="#e9ec99"/><stop offset="0.9282" stop-color="#e8ec97"/><stop offset="0.9408" stop-color="#e8ec96"/><stop offset="0.9533" stop-color="#e8ec95"/><stop offset="0.9659" stop-color="#e8eb93"/><stop offset="0.9784" stop-color="#e7eb92"/><stop offset="0.9909" stop-color="#e7eb90"/><stop offset="1.0000" stop-color="#e7eb8f"/></linearGradient><linearGradient id="g65" gradientUnits="userSpaceOnUse" x1="100.9" x2="818.4" y1="0" y2="0"><stop offset="0.0000" stop-color="#ffffff"/><stop offset="0.2132" stop-color="#ffffff"/><stop offset="0.2258" stop-color="#fdfdf5"/><stop offset="0.2383" stop-color="#f9fae8"/><stop offset="0.2760" stop-color="#f9fae8"/><stop offset="0.2885" stop-color="#f9fae7"/><stop offset="0.3006" stop-color="#f9fae8"/><stop offset="0.3017" stop-color="#f9fae8"/><stop offset="0.3136" stop-color="#fafbeb"/><stop offset="0.3261" stop-color="#fafbec"/><stop offset="0.3889" stop-color="#fafbec"/><stop offset="0.4014" stop-color="#fcfdf5"/><stop offset="0.4036" stop-color="#fefffd"/><stop offset="0.4047" stop-color="#ffffff"/><stop offset="0.7401" stop-color="#ffffff"/><stop offset="0.7526" stop-color="#fefefb"/><stop offset="0.7652" stop-color="#fafbec"/><stop offset="0.7777" stop-color="#f6f8dc"/><stop offset="0.7902" stop-color="#f3f6d0"/><stop offset="0.8028" stop-color="#f1f4c6"/><stop offset="0.8127" stop-color="#eff3bf"/><stop offset="0.8138" stop-color="#eff2be"/><stop offset="0.8153" stop-color="#eff2bd"/><stop offset="0.8279" stop-color="#edf1b4"/><stop offset="0.8404" stop-color="#ecefac"/><stop offset="0.8530" stop-color="#ebefa9"/><stop offset="0.8655" stop-color="#ebeea6"/><stop offset="0.8780" stop-color="#eaeea3"/><stop offset="0.8906" stop-color="#eaeea0"/><stop offset="0.9031" stop-color="#eaed9e"/><stop offset="0.9147" stop-color="#e9ed9d"/><stop offset="0.9158" stop-color="#e9ed9d"/><stop offset="0.9282" stop-color="#e9ed9c"/><stop offset="0.9408" stop-color="#e9ed9a"/><stop offset="0.9533" stop-color="#e9ec99"/><stop offset="0.9659" stop-color="#e8ec97"/><stop offset="0.9784" stop-color="#e8ec96"/><stop offset="0.9909" stop-color="#e8ec95"/><stop offset="1.0000" stop-color="#e8ec94"/></linearGradient><linearGradient id="g66" gradientUnits="userSpaceOnUse" x1="100.9" x2="818.4" y1="0" y2="0"><stop offset="0.0000" stop-color="#ffffff"/><stop offset="0.2132" stop-color="#ffffff"/><stop offset="0.2258" stop-color="#fcfdf5"/><stop offset="0.2383" stop-color="#f9fae6"/><stop offset="0.2885" stop-color="#f9fae6"/><stop offset="0.3006" stop-color="#f9fae7"/><stop offset="0.3017" stop-color="#f9fae7"/><stop offset="0.3136" stop-color="#fafbea"/><stop offset="0.3261" stop-color="#fafbec"/><stop offset="0.3889" stop-color="#fafbec"/><stop offset="0.4014" stop-color="#fcfdf5"/><stop offset="0.4036" stop-color="#fefffd"/><stop offset="0.4047" stop-color="#ffffff"/><stop offset="0.7526" stop-color="#ffffff"/><stop offset="0.7652" stop-color="#fcfdf3"/><stop offset="0.7777" stop-color="#f8fae4"/><stop offset="0.7902" stop-color="#f5f7d9"/><stop offset="0.8028" stop-color="#f3f5cf"/><stop offset="0.8127" stop-color="#f1f4c7"/><stop offset="0.8138" stop-color="#f1f4c6"/><stop offset="0.8153" stop-color="#f0f3c4"/><stop offset="0.8279" stop-color="#eff2ba"/><stop offset="0.8404" stop-color="#edf0b1"/><stop offset="0.8530" stop-color="#ecf0ae"/><stop offset="0.8655" stop-color="#ecefab"/><stop offset="0.8780" stop-color="#ebefa8"/><stop offset="0.8906" stop-color="#ebeea5"/><stop offset="0.9031" stop-color="#eaeea3"/><stop offset="0.9147" stop-color="#eaeea2"/><stop offset="0.9157" stop-color="#eaeea1"/><stop offset="0.9158" stop-color="#eaeea1"/><stop offset="0.9282" stop-color="#eaeea0"/><stop offset="0.9408" stop-color="#eaed9f"/><stop offset="0.9533" stop-color="#e9ed9d"/><stop offset="0.9659" stop-color="#e9ed9c"/><stop offset="0.9784" stop-color="#e9ed9a"/><stop offset="0.9909" stop-color="#e9ec99"/><stop offset="1.0000" stop-color="#e8ec98"/></linearGradient><linearGradient id="g67" gradientUnits="userSpaceOnUse" x1="100.9" x2="818.4" y1="0" y2="0"><stop offset="0.0000" stop-color="#ffffff"/><stop offset="0.2132" stop-color="#ffffff"/><stop offset="0.2258" stop-color="#fcfdf5"/><stop offset="0.2383" stop-color="#f9fae6"/><stop offset="0.2885" stop-color="#f9fae6"/><stop offset="0.3006" stop-color="#f9fae7"/><stop offset="0.3017" stop-color="#f9fae7"/><stop offset="0.3136" stop-color="#fafbea"/><stop offset="0.3261" stop-color="#fafbec"/><stop offset="0.3889" stop-color="#fafbec"/><stop offset="0.4014" stop-color="#fcfdf5"/><stop offset="0.4036" stop-color="#fefffd"/><stop offset="0.4047" stop-color="#ffffff"/><stop offset="0.7526" stop-color="#ffffff"/><stop offset="0.7652" stop-color="#fdfdf7"/><stop offset="0.7777" stop-color="#fafbed"/><stop offset="0.7902" stop-color="#f8f9e3"/><stop offset="0.8028" stop-color="#f5f7d9"/><stop offset="0.8127" stop-color="#f3f6d1"/><stop offset="0.8138" stop-color="#f3f6d0"/><stop offset="0.8153" stop-color="#f3f5cf"/><stop offset="0.8279" stop-color="#f0f3c4"/><stop offset="0.8404" stop-color="#eef2b9"/><stop offset="0.8530" stop-color="#eef1b5"/><stop offset="0.8655" stop-color="#edf0b2"/><stop offset="0.8780" stop-color="#ecf0ae"/><stop offset="0.8906" stop-color="#ecefab"/><stop offset="0.9031" stop-color="#ecefa9"/><stop offset="0.9147" stop-color="#ebefa8"/><stop offset="0.9158" stop-color="#ebefa8"/><stop offset="0.9282" stop-color="#ebefa6"/><stop offset="0.9408" stop-color="#ebeea5"/><stop offset="0.9533" stop-color="#ebeea3"/><stop offset="0.9659" stop-color="#eaeea2"/><stop offset="0.9784" stop-color="#eaeea1"/><stop offset="0.9909" stop-color="#eaed9f"/><stop offset="1.0000" stop-color="#eaed9e"/></linearGradient><linearGradient id="g68" gradientUnits="userSpaceOnUse" x1="100.9" x2="818.4" y1="0" y2="0"><stop offset="0.0000" stop-color="#ffffff"/><stop offset="0.2132" stop-color="#ffffff"/><stop offset="0.2258" stop-color="#fcfdf5"/><stop offset="0.2383" stop-color="#f9fae6"/><stop offset="0.2885" stop-color="#f9fae6"/><stop offset="0.3006" stop-color="#f9fae7"/><stop offset="0.3017" stop-color="#f9fae7"/><stop offset="0.3136" stop-color="#fafbea"/><stop offset="0.3261" stop-color="#fafbec"/><stop offset="0.3889" stop-color="#fafbec"/><stop offset="0.4014" stop-color="#fcfdf5"/><stop offset="0.4036" stop-color="#fefffd"/><stop offset="0.4047" stop-color="#ffffff"/><stop offset="0.7526" stop-color="#ffffff"/><stop offset="0.7652" stop-color="#fefefb"/><stop offset="0.7777" stop-color="#fdfdf6"/><stop offset="0.7902" stop-color="#fafbed"/><stop offset="0.8028" stop-color="#f8fae4"/><stop offset="0.8127" stop-color="#f6f8dc"/><stop offset="0.8138" stop-color="#f6f8db"/><stop offset="0.8153" stop-color="#f5f7d9"/><stop offset="0.8279" stop-color="#f2f5cd"/><stop offset="0.8404" stop-color="#f0f3c1"/><stop offset="0.8530" stop-color="#eff2bd"/><stop offset="0.8655" stop-color="#eef2b9"/><stop offset="0.8780" stop-color="#eef1b5"/><stop offset="0.8906" stop-color="#edf0b1"/><stop offset="0.9031" stop-color="#edf0af"/><stop offset="0.9147" stop-color="#ecf0ae"/><stop offset="0.9158" stop-color="#ecf0ae"/><stop offset="0.9282" stop-color="#ecf0ac"/><stop offset="0.9408" stop-color="#ecefab"/><stop offset="0.9533" stop-color="#ecefaa"/><stop offset="0.9659" stop-color="#ebefa8"/><stop offset="0.9784" stop-color="#ebefa7"/><stop offset="0.9909" stop-color="#ebeea5"/><stop offset="1.0000" stop-color="#ebeea4"/></linearGradient><linearGradient id="g69" gradientUnits="userSpaceOnUse" x1="100.9" x2="818.4" y1="0" y2="0"><stop offset="0.0000" stop-color="#ffffff"/><stop offset="0.2132" stop-color="#ffffff"/><stop offset="0.2258" stop-color="#fcfdf5"/><stop offset="0.2383" stop-color="#f9fae6"/><stop offset="0.2885" stop-color="#f9fae6"/><stop offset="0.3006" stop-color="#f9fae7"/><stop offset="0.3017" stop-color="#f9fae7"/><stop offset="0.3136" stop-color="#fafbea"/><stop offset="0.3261" stop-color="#fafbec"/><stop offset="0.3889" stop-color="#fafbec"/><stop offset="0.4014" stop-color="#fcfdf5"/><stop offset="0.4036" stop-color="#fefffd"/><stop offset="0.4047" stop-color="#ffffff"/><stop offset="0.7652" stop-color="#ffffff"/><stop offset="0.7777" stop-color="#fffffe"/><stop offset="0.7902" stop-color="#fdfdf6"/><stop offset="0.8028" stop-color="#fbfcee"/><stop offset="0.8127" stop-color="#f9fae6"/><stop offset="0.8138" stop-color="#f8fae5"/><stop offset="0.8153" stop-color="#f8fae4"/><stop offset="0.8279" stop-color="#f5f7d8"/><stop offset="0.8404" stop-color="#f2f5cc"/><stop offset="0.8530" stop-color="#f1f4c7"/><stop offset="0.8655" stop-color="#f0f3c2"/><stop offset="0.8780" stop-color="#eff2bc"/><stop offset="0.8906" stop-color="#eef1b7"/><stop offset="0.9031" stop-color="#eef1b5"/><stop offset="0.9147" stop-color="#edf1b4"/><stop offset="0.9158" stop-color="#edf1b4"/><stop offset="0.9282" stop-color="#edf1b3"/><stop offset="0.9408" stop-color="#edf0b1"/><stop offset="0.9533" stop-color="#edf0b0"/><stop offset="0.9659" stop-color="#edf0af"/><stop offset="0.9784" stop-color="#ecf0ae"/><stop offset="0.9909" stop-color="#ecf0ac"/><stop offset="1.0000" stop-color="#ecefab"/></linearGradient><linearGradient id="g70" gradientUnits="userSpaceOnUse" x1="100.9" x2="818.4" y1="0" y2="0"><stop offset="0.0000" stop-color="#ffffff"/><stop offset="0.2132" stop-color="#ffffff"/><stop offset="0.2258" stop-color="#fcfdf5"/><stop offset="0.2383" stop-color="#f9fae6"/><stop offset="0.2885" stop-color="#f9fae6"/><stop offset="0.3006" stop-color="#f9fae7"/><stop offset="0.3017" stop-color="#f9fae7"/><stop offset="0.3136" stop-color="#fafbea"/><stop offset="0.3261" stop-color="#fafbec"/><stop offset="0.3889" stop-color="#fafbec"/><stop offset="0.4014" stop-color="#fcfdf5"/><stop offset="0.4036" stop-color="#fefffd"/><stop offset="0.4047" stop-color="#ffffff"/><stop offset="0.7777" stop-color="#ffffff"/><stop offset="0.7902" stop-color="#fffffd"/><stop offset="0.8028" stop-color="#fdfdf7"/><stop offset="0.8127" stop-color="#fcfcf1"/><stop offset="0.8138" stop-color="#fbfcf1"/><stop offset="0.8153" stop-color="#fbfcf0"/><stop offset="0.8279" stop-color="#f9fae8"/><stop offset="0.8404" stop-color="#f7f9df"/><stop offset="0.8530" stop-color="#f5f7d7"/><stop offset="0.8655" stop-color="#f3f5cf"/><stop offset="0.8780" stop-color="#f1f4c6"/><stop offset="0.8906" stop-color="#eff2bd"/><stop offset="0.9031" stop-color="#eff2bb"/><stop offset="0.9147" stop-color="#eff2ba"/><stop offset="0.9158" stop-color="#eff2ba"/><stop offset="0.9282" stop-color="#eef2ba"/><stop offset="0.9408" stop-color="#eef2b9"/><stop offset="0.9533" stop-color="#eef1b8"/><stop offset="0.9659" stop-color="#eef1b7"/><stop offset="0.9784" stop-color="#eef1b7"/><stop offset="0.9909" stop-color="#eef1b6"/><stop offset="1.0000" stop-color="#eef1b6"/></linearGradient><linearGradient id="g71" gradientUnits="userSpaceOnUse" x1="100.9" x2="818.4" y1="0" y2="0"><stop offset="0.0000" stop-color="#ffffff"/><stop offset="0.2132" stop-color="#ffffff"/><stop offset="0.2258" stop-color="#fcfdf5"/><stop offset="0.2383" stop-color="#f9fae6"/><stop offset="0.2885" stop-color="#f9fae6"/><stop offset="0.3006" stop-color="#f9fae7"/><stop offset="0.3017" stop-color="#f9fae7"/><stop offset="0.3136" stop-color="#fafbea"/><stop offset="0.3261" stop-color="#fafbec"/><stop offset="0.3889" stop-color="#fafbec"/><stop offset="0.4014" stop-color="#fcfdf5"/><stop offset="0.4036" stop-color="#fefffd"/><stop offset="0.4047" stop-color="#ffffff"/><stop offset="0.8404" stop-color="#ffffff"/><stop offset="0.8530" stop-color="#fefefa"/><stop offset="0.8655" stop-color="#f7f9e0"/><stop offset="0.8780" stop-color="#f4f7d5"/><stop offset="0.8906" stop-color="#f2f4ca"/><stop offset="0.9031" stop-color="#f1f4c6"/><stop offset="0.9147" stop-color="#f0f3c3"/><stop offset="0.9158" stop-color="#f0f3c3"/><stop offset="0.9282" stop-color="#f0f3c0"/><stop offset="0.9408" stop-color="#eff2bd"/><stop offset="0.9533" stop-color="#eff2bd"/><stop offset="0.9659" stop-color="#f0f3c0"/><stop offset="0.9784" stop-color="#f0f3c3"/><stop offset="0.9909" stop-color="#f1f4c5"/><stop offset="1.0000" stop-color="#f1f4c7"/></linearGradient><linearGradient id="g72" gradientUnits="userSpaceOnUse" x1="100.9" x2="818.4" y1="0" y2="0"><stop offset="0.0000" stop-color="#ffffff"/><stop offset="0.2132" stop-color="#ffffff"/><stop offset="0.2258" stop-color="#fcfdf5"/><stop offset="0.2383" stop-color="#f9fae6"/><stop offset="0.2885" stop-color="#f9fae6"/><stop offset="0.3006" stop-color="#f9fae7"/><stop offset="0.3017" stop-color="#f9fae7"/><stop offset="0.3136" stop-color="#fafbea"/><stop offset="0.3261" stop-color="#fafbec"/><stop offset="0.3889" stop-color="#fafbec"/><stop offset="0.4014" stop-color="#fcfdf5"/><stop offset="0.4036" stop-color="#fefffd"/><stop offset="0.4047" stop-color="#ffffff"/><stop offset="0.8404" stop-color="#ffffff"/><stop offset="0.8530" stop-color="#fefefb"/><stop offset="0.8655" stop-color="#f8fae5"/><stop offset="0.8780" stop-color="#f5f7d6"/><stop offset="0.8906" stop-color="#f2f5cd"/><stop offset="0.9031" stop-color="#f1f4c8"/><stop offset="0.9147" stop-color="#f0f3c4"/><stop offset="0.9158" stop-color="#f0f3c4"/><stop offset="0.9282" stop-color="#f0f3c3"/><stop offset="0.9408" stop-color="#f0f3c1"/><stop offset="0.9533" stop-color="#f0f3c2"/><stop offset="0.9659" stop-color="#f0f3c4"/><stop offset="0.9784" stop-color="#f1f4c6"/><stop offset="0.9909" stop-color="#f1f4c9"/><stop offset="1.0000" stop-color="#f2f4ca"/></linearGradient><linearGradient id="g73" gradientUnits="userSpaceOnUse" x1="100.9" x2="818.4" y1="0" y2="0"><stop offset="0.0000" stop-color="#ffffff"/><stop offset="0.2132" stop-color="#ffffff"/><stop offset="0.2258" stop-color="#fcfdf5"/><stop offset="0.2383" stop-color="#f9fae6"/><stop offset="0.2885" stop-color="#f9fae6"/><stop offset="0.3006" stop-color="#f9fae7"/><stop offset="0.3017" stop-color="#f9fae7"/><stop offset="0.3136" stop-color="#fafbea"/><stop offset="0.3261" stop-color="#fafbec"/><stop offset="0.3889" stop-color="#fafbec"/><stop offset="0.4014" stop-color="#fcfdf5"/><stop offset="0.4036" stop-color="#fefffd"/><stop offset="0.4047" stop-color="#ffffff"/><stop offset="0.8404" stop-color="#ffffff"/><stop offset="0.8530" stop-color="#fefffd"/><stop offset="0.8655" stop-color="#f9fbe9"/><stop offset="0.8780" stop-color="#f5f7d8"/><stop offset="0.8906" stop-color="#f3f5cf"/><stop offset="0.9031" stop-color="#f2f4ca"/><stop offset="0.9147" stop-color="#f1f4c6"/><stop offset="0.9158" stop-color="#f1f4c6"/><stop offset="0.9282" stop-color="#f1f4c5"/><stop offset="0.9408" stop-color="#f0f3c5"/><stop offset="0.9533" stop-color="#f1f4c6"/><stop offset="0.9659" stop-color="#f1f4c8"/><stop offset="0.9784" stop-color="#f1f4ca"/><stop offset="0.9909" stop-color="#f2f5cc"/><stop offset="1.0000" stop-color="#f2f5cd"/></linearGradient><linearGradient id="g74" gradientUnits="userSpaceOnUse" x1="100.9" x2="818.4" y1="0" y2="0"><stop offset="0.0000" stop-color="#ffffff"/><stop offset="0.2132" stop-color="#ffffff"/><stop offset="0.2258" stop-color="#fdfdf5"/><stop offset="0.2383" stop-color="#f9fae8"/><stop offset="0.3010" stop-color="#f9fae8"/><stop offset="0.3017" stop-color="#f9fbe9"/><stop offset="0.3136" stop-color="#fafbeb"/><stop offset="0.3261" stop-color="#fafbec"/><stop offset="0.3889" stop-color="#fafbec"/><stop offset="0.4014" stop-color="#fcfdf5"/><stop offset="0.4036" stop-color="#fefffd"/><stop offset="0.4047" stop-color="#ffffff"/><stop offset="0.8404" stop-color="#ffffff"/><stop offset="0.8530" stop-color="#fffffe"/><stop offset="0.8655" stop-color="#fbfcee"/><stop offset="0.8780" stop-color="#f5f7d9"/><stop offset="0.8906" stop-color="#f4f6d2"/><stop offset="0.9031" stop-color="#f2f5cc"/><stop offset="0.9147" stop-color="#f1f4c7"/><stop offset="0.9158" stop-color="#f1f4c7"/><stop offset="0.9282" stop-color="#f1f4c8"/><stop offset="0.9408" stop-color="#f1f4c9"/><stop offset="0.9533" stop-color="#f1f4ca"/><stop offset="0.9659" stop-color="#f2f5cb"/><stop offset="0.9784" stop-color="#f2f5cd"/><stop offset="0.9909" stop-color="#f3f5cf"/><stop offset="1.0000" stop-color="#f3f6d0"/></linearGradient><linearGradient id="g75" gradientUnits="userSpaceOnUse" x1="100.9" x2="818.4" y1="0" y2="0"><stop offset="0.0000" stop-color="#ffffff"/><stop offset="0.2132" stop-color="#ffffff"/><stop offset="0.2258" stop-color="#fdfdf6"/><stop offset="0.2383" stop-color="#fafbea"/><stop offset="0.3017" stop-color="#fafbea"/><stop offset="0.3136" stop-color="#fafbec"/><stop offset="0.3261" stop-color="#fafbed"/><stop offset="0.3889" stop-color="#fafbed"/><stop offset="0.4014" stop-color="#fdfdf5"/><stop offset="0.4036" stop-color="#fefffd"/><stop offset="0.4047" stop-color="#ffffff"/><stop offset="0.8530" stop-color="#ffffff"/><stop offset="0.8655" stop-color="#fcfcf1"/><stop offset="0.8780" stop-color="#f6f8db"/><stop offset="0.8906" stop-color="#f4f6d4"/><stop offset="0.9031" stop-color="#f2f5ce"/><stop offset="0.9147" stop-color="#f1f4c8"/><stop offset="0.9158" stop-color="#f1f4c8"/><stop offset="0.9282" stop-color="#f1f4ca"/><stop offset="0.9408" stop-color="#f2f5cc"/><stop offset="0.9533" stop-color="#f2f5cd"/><stop offset="0.9659" stop-color="#f3f5cf"/><stop offset="0.9784" stop-color="#f3f6d1"/><stop offset="0.9909" stop-color="#f4f6d2"/><stop offset="1.0000" stop-color="#f4f6d3"/></linearGradient><linearGradient id="g76" gradientUnits="userSpaceOnUse" x1="100.9" x2="818.4" y1="0" y2="0"><stop offset="0.0000" stop-color="#ffffff"/><stop offset="0.2132" stop-color="#ffffff"/><stop offset="0.2258" stop-color="#fdfdf7"/><stop offset="0.2383" stop-color="#fafbec"/><stop offset="0.3017" stop-color="#fafbec"/><stop offset="0.3136" stop-color="#fafbed"/><stop offset="0.3261" stop-color="#fbfcee"/><stop offset="0.3889" stop-color="#fbfcee"/><stop offset="0.4014" stop-color="#fdfdf6"/><stop offset="0.4036" stop-color="#fffffd"/><stop offset="0.4047" stop-color="#ffffff"/><stop offset="0.8530" stop-color="#ffffff"/><stop offset="0.8655" stop-color="#fcfcf1"/><stop offset="0.8780" stop-color="#f6f8db"/><stop offset="0.8906" stop-color="#f4f6d4"/><stop offset="0.9031" stop-color="#f2f5ce"/><stop offset="0.9147" stop-color="#f1f4c8"/><stop offset="0.9158" stop-color="#f1f4c8"/><stop offset="0.9282" stop-color="#f2f5cb"/><stop offset="0.9408" stop-color="#f2f5ce"/><stop offset="0.9533" stop-color="#f3f6d0"/><stop offset="0.9659" stop-color="#f4f6d2"/><stop offset="0.9784" stop-color="#f4f7d5"/><stop offset="0.9909" stop-color="#f5f7d7"/><stop offset="1.0000" stop-color="#f5f7d9"/></linearGradient><linearGradient id="g77" gradientUnits="userSpaceOnUse" x1="100.9" x2="818.4" y1="0" y2="0"><stop offset="0.0000" stop-color="#ffffff"/><stop offset="0.2132" stop-color="#ffffff"/><stop offset="0.2258" stop-color="#fdfef8"/><stop offset="0.2383" stop-color="#fbfcee"/><stop offset="0.3889" stop-color="#fbfcee"/><stop offset="0.4014" stop-color="#fdfdf6"/><stop offset="0.4036" stop-color="#fffffd"/><stop offset="0.4047" stop-color="#ffffff"/><stop offset="0.8530" stop-color="#ffffff"/><stop offset="0.8655" stop-color="#fcfcf1"/><stop offset="0.8780" stop-color="#f6f8db"/><stop offset="0.8906" stop-color="#f4f6d4"/><stop offset="0.9031" stop-color="#f2f5ce"/><stop offset="0.9147" stop-color="#f1f4c8"/><stop offset="0.9158" stop-color="#f1f4c8"/><stop offset="0.9282" stop-color="#f2f5cc"/><stop offset="0.9408" stop-color="#f3f6d0"/><stop offset="0.9533" stop-color="#f4f6d3"/><stop offset="0.9659" stop-color="#f5f7d6"/><stop offset="0.9784" stop-color="#f5f7d9"/><stop offset="0.9909" stop-color="#f6f8dc"/><stop offset="1.0000" stop-color="#f7f8de"/></linearGradient><linearGradient id="g78" gradientUnits="userSpaceOnUse" x1="100.9" x2="818.4" y1="0" y2="0"><stop offset="0.0000" stop-color="#ffffff"/><stop offset="0.2885" stop-color="#ffffff"/><stop offset="0.3006" stop-color="#fdfdf7"/><stop offset="0.3010" stop-color="#fdfdf5"/><stop offset="0.3017" stop-color="#fcfdf3"/><stop offset="0.3136" stop-color="#fbfcef"/><stop offset="0.3889" stop-color="#fbfcef"/><stop offset="0.4014" stop-color="#fdfdf6"/><stop offset="0.4036" stop-color="#fffffd"/><stop offset="0.4047" stop-color="#ffffff"/><stop offset="0.8530" stop-color="#ffffff"/><stop offset="0.8655" stop-color="#fcfcf1"/><stop offset="0.8780" stop-color="#f6f8db"/><stop offset="0.8906" stop-color="#f4f7d5"/><stop offset="0.9031" stop-color="#f3f5ce"/><stop offset="0.9147" stop-color="#f1f4c9"/><stop offset="0.9158" stop-color="#f1f4c9"/><stop offset="0.9282" stop-color="#f2f5ce"/><stop offset="0.9408" stop-color="#f4f6d2"/><stop offset="0.9533" stop-color="#f5f7d6"/><stop offset="0.9659" stop-color="#f5f7d9"/><stop offset="0.9784" stop-color="#f6f8dd"/><stop offset="0.9909" stop-color="#f7f9e0"/><stop offset="1.0000" stop-color="#f8f9e3"/></linearGradient><linearGradient id="g79" gradientUnits="userSpaceOnUse" x1="100.9" x2="818.4" y1="0" y2="0"><stop offset="0.0000" stop-color="#ffffff"/><stop offset="0.2885" stop-color="#ffffff"/><stop offset="0.3006" stop-color="#fdfdf7"/><stop offset="0.3010" stop-color="#fdfdf6"/><stop offset="0.3017" stop-color="#fcfdf4"/><stop offset="0.3136" stop-color="#fbfcef"/><stop offset="0.3889" stop-color="#fbfcef"/><stop offset="0.4014" stop-color="#fdfdf7"/><stop offset="0.4036" stop-color="#fffffd"/><stop offset="0.4047" stop-color="#ffffff"/><stop offset="0.8530" stop-color="#ffffff"/><stop offset="0.8655" stop-color="#fcfcf2"/><stop offset="0.8780" stop-color="#f6f8dd"/><stop offset="0.8906" stop-color="#f5f7d7"/><stop offset="0.9031" stop-color="#f3f6d2"/><stop offset="0.9147" stop-color="#f2f5cd"/><stop offset="0.9158" stop-color="#f2f5cd"/><stop offset="0.9282" stop-color="#f3f6d1"/><stop offset="0.9408" stop-color="#f5f7d6"/><stop offset="0.9533" stop-color="#f6f8da"/><stop offset="0.9659" stop-color="#f7f8de"/><stop offset="0.9784" stop-color="#f7f9e1"/><stop offset="0.9909" stop-color="#f8fae4"/><stop offset="1.0000" stop-color="#f9fae7"/></linearGradient><linearGradient id="g80" gradientUnits="userSpaceOnUse" x1="100.9" x2="818.4" y1="0" y2="0"><stop offset="0.0000" stop-color="#ffffff"/><stop offset="0.2885" stop-color="#ffffff"/><stop offset="0.3006" stop-color="#fdfdf7"/><stop offset="0.3010" stop-color="#fdfdf6"/><stop offset="0.3017" stop-color="#fcfdf4"/><stop offset="0.3136" stop-color="#fbfcf0"/><stop offset="0.3889" stop-color="#fbfcf0"/><stop offset="0.4014" stop-color="#fdfdf7"/><stop offset="0.4036" stop-color="#fffffd"/><stop offset="0.4047" stop-color="#ffffff"/><stop offset="0.8530" stop-color="#ffffff"/><stop offset="0.8655" stop-color="#fcfdf3"/><stop offset="0.8780" stop-color="#f7f9df"/><stop offset="0.8906" stop-color="#f6f8da"/><stop offset="0.9031" stop-color="#f4f7d5"/><stop offset="0.9147" stop-color="#f3f6d0"/><stop offset="0.9157" stop-color="#f3f6d1"/><stop offset="0.9158" stop-color="#f3f6d1"/><stop offset="0.9282" stop-color="#f4f7d5"/><stop offset="0.9408" stop-color="#f6f8da"/><stop offset="0.9533" stop-color="#f7f9df"/><stop offset="0.9659" stop-color="#f8f9e2"/><stop offset="0.9784" stop-color="#f8fae5"/><stop offset="0.9909" stop-color="#f9fae8"/><stop offset="1.0000" stop-color="#fafbea"/></linearGradient><linearGradient id="g81" gradientUnits="userSpaceOnUse" x1="100.9" x2="818.4" y1="0" y2="0"><stop offset="0.0000" stop-color="#ffffff"/><stop offset="0.2885" stop-color="#ffffff"/><stop offset="0.3006" stop-color="#fdfef8"/><stop offset="0.3010" stop-color="#fdfdf6"/><stop offset="0.3017" stop-color="#fcfdf5"/><stop offset="0.3136" stop-color="#fbfcf0"/><stop offset="0.3889" stop-color="#fbfcf0"/><stop offset="0.4014" stop-color="#fdfdf7"/><stop offset="0.4036" stop-color="#fffffd"/><stop offset="0.4047" stop-color="#ffffff"/><stop offset="0.8530" stop-color="#ffffff"/><stop offset="0.8655" stop-color="#fcfdf4"/><stop offset="0.8780" stop-color="#f8f9e2"/><stop offset="0.8906" stop-color="#f6f8dd"/><stop offset="0.9031" stop-color="#f5f7d9"/><stop offset="0.9147" stop-color="#f4f7d5"/><stop offset="0.9158" stop-color="#f4f7d5"/><stop offset="0.9282" stop-color="#f6f8da"/><stop offset="0.9408" stop-color="#f7f8de"/><stop offset="0.9533" stop-color="#f8f9e3"/><stop offset="0.9659" stop-color="#f9fae6"/><stop offset="0.9784" stop-color="#f9fbe9"/><stop offset="0.9909" stop-color="#fafbec"/><stop offset="1.0000" stop-color="#fbfcee"/></linearGradient><linearGradient id="g82" gradientUnits="userSpaceOnUse" x1="100.9" x2="818.4" y1="0" y2="0"><stop offset="0.0000" stop-color="#ffffff"/><stop offset="0.2885" stop-color="#ffffff"/><stop offset="0.3006" stop-color="#fdfef8"/><stop offset="0.3010" stop-color="#fdfdf7"/><stop offset="0.3017" stop-color="#fcfdf5"/><stop offset="0.3136" stop-color="#fbfcf1"/><stop offset="0.3889" stop-color="#fbfcf1"/><stop offset="0.4014" stop-color="#fdfef8"/><stop offset="0.4036" stop-color="#fffffd"/><stop offset="0.4047" stop-color="#ffffff"/><stop offset="0.8530" stop-color="#ffffff"/><stop offset="0.8655" stop-color="#fcfdf5"/><stop offset="0.8780" stop-color="#f8fae5"/><stop offset="0.8906" stop-color="#f8f9e2"/><stop offset="0.9031" stop-color="#f7f9df"/><stop offset="0.9147" stop-color="#f6f8dc"/><stop offset="0.9157" stop-color="#f6f8dd"/><stop offset="0.9158" stop-color="#f6f8dd"/><stop offset="0.9282" stop-color="#f7f9e1"/><stop offset="0.9408" stop-color="#f8fae5"/><stop offset="0.9533" stop-color="#f9fbe9"/><stop offset="0.9659" stop-color="#fafbeb"/><stop offset="0.9784" stop-color="#fafbed"/><stop offset="0.9909" stop-color="#fbfcef"/><stop offset="1.0000" stop-color="#fbfcf1"/></linearGradient><linearGradient id="g83" gradientUnits="userSpaceOnUse" x1="100.9" x2="818.4" y1="0" y2="0"><stop offset="0.0000" stop-color="#ffffff"/><stop offset="0.2885" stop-color="#ffffff"/><stop offset="0.3006" stop-color="#fefefb"/><stop offset="0.3010" stop-color="#fefefa"/><stop offset="0.3017" stop-color="#fefef9"/><stop offset="0.3136" stop-color="#fdfdf7"/><stop offset="0.3889" stop-color="#fdfdf7"/><stop offset="0.4014" stop-color="#fefefb"/><stop offset="0.4036" stop-color="#fffffe"/><stop offset="0.4047" stop-color="#ffffff"/><stop offset="0.8530" stop-color="#ffffff"/><stop offset="0.8655" stop-color="#fdfdf7"/><stop offset="0.8780" stop-color="#fafbea"/><stop offset="0.8906" stop-color="#f9fbe9"/><stop offset="0.9031" stop-color="#f9fae8"/><stop offset="0.9147" stop-color="#f9fae6"/><stop offset="0.9157" stop-color="#f9fae7"/><stop offset="0.9158" stop-color="#f9fae7"/><stop offset="0.9282" stop-color="#fafbe9"/><stop offset="0.9408" stop-color="#fafbec"/><stop offset="0.9533" stop-color="#fbfcef"/><stop offset="0.9659" stop-color="#fbfcf1"/><stop offset="0.9784" stop-color="#fcfcf2"/><stop offset="0.9909" stop-color="#fcfdf4"/><stop offset="1.0000" stop-color="#fcfdf5"/></linearGradient><linearGradient id="t0" gradientUnits="userSpaceOnUse" x1="100.9" x2="818.4" y1="0" y2="0"><stop offset="0.0000" stop-color="#ebefa9"/><stop offset="0.0084" stop-color="#ebefa6"/><stop offset="0.0167" stop-color="#ebeea4"/><stop offset="0.0251" stop-color="#eaeea1"/><stop offset="0.0334" stop-color="#eaed9e"/><stop offset="0.0418" stop-color="#e9ed9c"/><stop offset="0.0502" stop-color="#e9ec99"/><stop offset="0.0585" stop-color="#e8ec96"/><stop offset="0.0669" stop-color="#e8ec94"/><stop offset="0.0753" stop-color="#e7eb91"/><stop offset="0.0836" stop-color="#e7eb8e"/><stop offset="0.0920" stop-color="#e6ea8b"/><stop offset="0.0960" stop-color="#e6ea8a"/><stop offset="0.0971" stop-color="#dfe354"/><stop offset="0.1003" stop-color="#dee250"/><stop offset="0.1087" stop-color="#dde145"/><stop offset="0.1171" stop-color="#dfe142"/><stop offset="0.1254" stop-color="#e2e23f"/><stop offset="0.1338" stop-color="#e4e23b"/><stop offset="0.1422" stop-color="#e6e338"/><stop offset="0.1505" stop-color="#e8e335"/><stop offset="0.1589" stop-color="#ebe432"/><stop offset="0.1672" stop-color="#ede42e"/><stop offset="0.1756" stop-color="#efe52b"/><stop offset="0.1840" stop-color="#f1e429"/><stop offset="0.1923" stop-color="#f2e228"/><stop offset="0.1986" stop-color="#f3e127"/><stop offset="0.1997" stop-color="#f7b422"/><stop offset="0.2007" stop-color="#f7b322"/><stop offset="0.2091" stop-color="#f7b123"/><stop offset="0.2174" stop-color="#f7ae23"/><stop offset="0.2258" stop-color="#f7ac23"/><stop offset="0.2341" stop-color="#f6a923"/><stop offset="0.2425" stop-color="#f6a723"/><stop offset="0.2509" stop-color="#f6a423"/><stop offset="0.2592" stop-color="#f6a223"/><stop offset="0.2676" stop-color="#f6a123"/><stop offset="0.2760" stop-color="#f69f24"/><stop offset="0.2843" stop-color="#f59d24"/><stop offset="0.2927" stop-color="#f59c24"/><stop offset="0.3006" stop-color="#f59a24"/><stop offset="0.3017" stop-color="#f59a24"/><stop offset="0.3094" stop-color="#f59c24"/><stop offset="0.3178" stop-color="#f69f24"/><stop offset="0.3261" stop-color="#f6a123"/><stop offset="0.3345" stop-color="#f6a423"/><stop offset="0.3429" stop-color="#f6a823"/><stop offset="0.3512" stop-color="#f7ac23"/><stop offset="0.3596" stop-color="#f7b023"/><stop offset="0.3679" stop-color="#f7b622"/><stop offset="0.3763" stop-color="#f8bd22"/><stop offset="0.3847" stop-color="#f8c522"/><stop offset="0.3930" stop-color="#f8cd22"/><stop offset="0.4014" stop-color="#f8d522"/><stop offset="0.4036" stop-color="#f8d722"/><stop offset="0.4047" stop-color="#f3e127"/><stop offset="0.4098" stop-color="#f3e227"/><stop offset="0.4181" stop-color="#f1e429"/><stop offset="0.4265" stop-color="#f0e52a"/><stop offset="0.4348" stop-color="#eee52d"/><stop offset="0.4432" stop-color="#ece42f"/><stop offset="0.4516" stop-color="#eae432"/><stop offset="0.4599" stop-color="#e8e335"/><stop offset="0.4683" stop-color="#e6e338"/><stop offset="0.4767" stop-color="#e4e23b"/><stop offset="0.4850" stop-color="#e2e23e"/><stop offset="0.4934" stop-color="#e0e241"/><stop offset="0.5017" stop-color="#dee143"/><stop offset="0.5056" stop-color="#dde145"/><stop offset="0.5068" stop-color="#e9ed9d"/><stop offset="0.5101" stop-color="#eaeea0"/><stop offset="0.5185" stop-color="#ebefa7"/><stop offset="0.5268" stop-color="#ecf0ae"/><stop offset="0.5352" stop-color="#eef1b5"/><stop offset="0.5436" stop-color="#eff2bc"/><stop offset="0.5519" stop-color="#f0f3c3"/><stop offset="0.5603" stop-color="#f2f4ca"/><stop offset="0.5686" stop-color="#f3f6d1"/><stop offset="0.5770" stop-color="#f5f7d7"/><stop offset="0.5854" stop-color="#f6f8dd"/><stop offset="0.5937" stop-color="#f8fae4"/><stop offset="0.6021" stop-color="#fafbea"/><stop offset="0.6077" stop-color="#fbfcee"/><stop offset="0.6088" stop-color="#ffffff"/><stop offset="0.8127" stop-color="#ffffff"/><stop offset="0.8138" stop-color="#e9ed9d"/><stop offset="0.8195" stop-color="#e9ed9d"/><stop offset="0.8279" stop-color="#eaed9e"/><stop offset="0.8362" stop-color="#eaed9f"/><stop offset="0.8446" stop-color="#eaeea0"/><stop offset="0.8530" stop-color="#eaeea1"/><stop offset="0.8613" stop-color="#eaeea2"/><stop offset="0.8697" stop-color="#ebeea3"/><stop offset="0.8780" stop-color="#ebeea4"/><stop offset="0.8864" stop-color="#ebeea5"/><stop offset="0.8948" stop-color="#ebefa7"/><stop offset="0.9031" stop-color="#ebefa8"/><stop offset="0.9115" stop-color="#ebefa9"/><stop offset="0.9147" stop-color="#ebefa9"/><stop offset="0.9158" stop-color="#e1e565"/><stop offset="1.0000" stop-color="#e1e565"/></linearGradient><linearGradient id="t1" gradientUnits="userSpaceOnUse" x1="100.9" x2="818.4" y1="0" y2="0"><stop offset="0.0000" stop-color="#edf0af"/><stop offset="0.0084" stop-color="#ecefab"/><stop offset="0.0167" stop-color="#ebefa7"/><stop offset="0.0251" stop-color="#eaeea2"/><stop offset="0.0334" stop-color="#eaed9e"/><stop offset="0.0418" stop-color="#e9ed9a"/><stop offset="0.0502" stop-color="#e8ec95"/><stop offset="0.0585" stop-color="#e7eb91"/><stop offset="0.0669" stop-color="#e7ea8d"/><stop offset="0.0753" stop-color="#e6ea89"/><stop offset="0.0836" stop-color="#e5e985"/><stop offset="0.0920" stop-color="#e5e981"/><stop offset="0.0960" stop-color="#e5e980"/><stop offset="0.0971" stop-color="#dfe354"/><stop offset="0.1003" stop-color="#dee250"/><stop offset="0.1087" stop-color="#dde145"/><stop offset="0.1171" stop-color="#dfe142"/><stop offset="0.1254" stop-color="#e2e23f"/><stop offset="0.1338" stop-color="#e4e23b"/><stop offset="0.1422" stop-color="#e6e338"/><stop offset="0.1505" stop-color="#e8e335"/><stop offset="0.1589" stop-color="#ebe432"/><stop offset="0.1672" stop-color="#ede42e"/><stop offset="0.1756" stop-color="#efe52b"/><stop offset="0.1840" stop-color="#f1e429"/><stop offset="0.1923" stop-color="#f2e228"/><stop offset="0.1986" stop-color="#f3e127"/><stop offset="0.1997" stop-color="#f6aa23"/><stop offset="0.2007" stop-color="#f6a923"/><stop offset="0.2091" stop-color="#f6a523"/><stop offset="0.2174" stop-color="#f6a123"/><stop offset="0.2258" stop-color="#f69e24"/><stop offset="0.2341" stop-color="#f59b24"/><stop offset="0.2425" stop-color="#f59825"/><stop offset="0.2509" stop-color="#f59525"/><stop offset="0.2592" stop-color="#f59226"/><stop offset="0.2676" stop-color="#f48f26"/><stop offset="0.2760" stop-color="#f48c27"/><stop offset="0.2843" stop-color="#f48927"/><stop offset="0.2927" stop-color="#f38627"/><stop offset="0.3006" stop-color="#f38428"/><stop offset="0.3010" stop-color="#f38428"/><stop offset="0.3017" stop-color="#f37f29"/><stop offset="0.4036" stop-color="#f37f29"/><stop offset="0.4047" stop-color="#f38428"/><stop offset="0.4098" stop-color="#f38528"/><stop offset="0.4181" stop-color="#f38727"/><stop offset="0.4265" stop-color="#f48827"/><stop offset="0.4348" stop-color="#f48a27"/><stop offset="0.4432" stop-color="#f48c27"/><stop offset="0.4516" stop-color="#f48e26"/><stop offset="0.4599" stop-color="#f49026"/><stop offset="0.4683" stop-color="#f49226"/><stop offset="0.4767" stop-color="#f59325"/><stop offset="0.4850" stop-color="#f59525"/><stop offset="0.4934" stop-color="#f59725"/><stop offset="0.5017" stop-color="#f59925"/><stop offset="0.5056" stop-color="#f59a24"/><stop offset="0.5068" stop-color="#f8b822"/><stop offset="0.5101" stop-color="#f8b922"/><stop offset="0.5185" stop-color="#f8bd22"/><stop offset="0.5268" stop-color="#f8c022"/><stop offset="0.5352" stop-color="#f8c322"/><stop offset="0.5436" stop-color="#f8c722"/><stop offset="0.5519" stop-color="#f8ca22"/><stop offset="0.5603" stop-color="#f8ce22"/><stop offset="0.5686" stop-color="#f8d222"/><stop offset="0.5770" stop-color="#f8d522"/><stop offset="0.5854" stop-color="#f8d922"/><stop offset="0.5937" stop-color="#f8dc22"/><stop offset="0.6021" stop-color="#f6de24"/><stop offset="0.6077" stop-color="#f5df25"/><stop offset="0.6088" stop-color="#e7e337"/><stop offset="0.7097" stop-color="#e7e337"/><stop offset="0.7108" stop-color="#e3e23d"/><stop offset="0.8127" stop-color="#e3e23d"/><stop offset="0.8138" stop-color="#dfe142"/><stop offset="0.9147" stop-color="#dfe142"/><stop offset="0.9158" stop-color="#dfe355"/><stop offset="1.0000" stop-color="#dfe355"/></linearGradient><linearGradient id="t2" gradientUnits="userSpaceOnUse" x1="100.9" x2="818.4" y1="0" y2="0"><stop offset="0.0000" stop-color="#f1f4c8"/><stop offset="0.0084" stop-color="#f0f3c4"/><stop offset="0.0167" stop-color="#eff3bf"/><stop offset="0.0251" stop-color="#eff2bb"/><stop offset="0.0334" stop-color="#eef1b7"/><stop offset="0.0418" stop-color="#edf1b3"/><stop offset="0.0502" stop-color="#ecf0ae"/><stop offset="0.0585" stop-color="#ecefaa"/><stop offset="0.0669" stop-color="#ebeea6"/><stop offset="0.0753" stop-color="#eaeea1"/><stop offset="0.0836" stop-color="#e9ed9d"/><stop offset="0.0920" stop-color="#e9ec99"/><stop offset="0.0960" stop-color="#e8ec97"/><stop offset="0.0971" stop-color="#dfe354"/><stop offset="0.1003" stop-color="#dfe351"/><stop offset="0.1087" stop-color="#dde148"/><stop offset="0.1171" stop-color="#dee143"/><stop offset="0.1254" stop-color="#e0e241"/><stop offset="0.1338" stop-color="#e2e23e"/><stop offset="0.1422" stop-color="#e4e23c"/><stop offset="0.1505" stop-color="#e5e339"/><stop offset="0.1589" stop-color="#e7e336"/><stop offset="0.1672" stop-color="#e9e434"/><stop offset="0.1756" stop-color="#ebe431"/><stop offset="0.1840" stop-color="#ede42f"/><stop offset="0.1923" stop-color="#efe52c"/><stop offset="0.1986" stop-color="#f0e52a"/><stop offset="0.1997" stop-color="#f6aa23"/><stop offset="0.2007" stop-color="#f6a923"/><stop offset="0.2091" stop-color="#f6a323"/><stop offset="0.2174" stop-color="#f69f24"/><stop offset="0.2258" stop-color="#f59b24"/><stop offset="0.2341" stop-color="#f59725"/><stop offset="0.2425" stop-color="#f59226"/><stop offset="0.2509" stop-color="#f48e26"/><stop offset="0.2592" stop-color="#f48a27"/><stop offset="0.2676" stop-color="#f38627"/><stop offset="0.2760" stop-color="#f38228"/><stop offset="0.2843" stop-color="#f37e29"/><stop offset="0.2927" stop-color="#f27a29"/><stop offset="0.3006" stop-color="#f2762a"/><stop offset="0.3010" stop-color="#f2762a"/><stop offset="0.3017" stop-color="#f16c2b"/><stop offset="0.4047" stop-color="#f16c2b"/><stop offset="0.4098" stop-color="#f16d2b"/><stop offset="0.4181" stop-color="#f16e2b"/><stop offset="0.4265" stop-color="#f2702a"/><stop offset="0.4348" stop-color="#f2722a"/><stop offset="0.4432" stop-color="#f2742a"/><stop offset="0.4516" stop-color="#f2752a"/><stop offset="0.4599" stop-color="#f2772a"/><stop offset="0.4683" stop-color="#f2782a"/><stop offset="0.4767" stop-color="#f27a29"/><stop offset="0.4850" stop-color="#f27b29"/><stop offset="0.4934" stop-color="#f37d29"/><stop offset="0.5017" stop-color="#f37e29"/><stop offset="0.5056" stop-color="#f37f29"/><stop offset="0.5068" stop-color="#f59625"/><stop offset="0.5101" stop-color="#f59625"/><stop offset="0.5185" stop-color="#f59825"/><stop offset="0.5268" stop-color="#f59925"/><stop offset="0.5352" stop-color="#f59b24"/><stop offset="0.5436" stop-color="#f59c24"/><stop offset="0.5519" stop-color="#f69e24"/><stop offset="0.5603" stop-color="#f69f24"/><stop offset="0.5686" stop-color="#f6a123"/><stop offset="0.5770" stop-color="#f6a223"/><stop offset="0.5854" stop-color="#f6a423"/><stop offset="0.5937" stop-color="#f6a623"/><stop offset="0.6021" stop-color="#f6a823"/><stop offset="0.6077" stop-color="#f6aa23"/><stop offset="0.6088" stop-color="#f8c722"/><stop offset="0.6105" stop-color="#f8c822"/><stop offset="0.6188" stop-color="#f8ca22"/><stop offset="0.6272" stop-color="#f8cc22"/><stop offset="0.6355" stop-color="#f8ce22"/><stop offset="0.6439" stop-color="#f8d022"/><stop offset="0.6523" stop-color="#f8d122"/><stop offset="0.6606" stop-color="#f8d322"/><stop offset="0.6690" stop-color="#f8d522"/><stop offset="0.6774" stop-color="#f8d722"/><stop offset="0.6857" stop-color="#f8d922"/><stop offset="0.6941" stop-color="#f8db22"/><stop offset="0.7024" stop-color="#f7dd23"/><stop offset="0.7097" stop-color="#f7dd23"/><stop offset="0.7108" stop-color="#f0e52a"/><stop offset="0.8127" stop-color="#f0e52a"/><stop offset="0.8138" stop-color="#e0e240"/><stop offset="0.9147" stop-color="#e0e240"/><stop offset="0.9158" stop-color="#ede42f"/><stop offset="1.0000" stop-color="#ede42f"/></linearGradient><linearGradient id="t3" gradientUnits="userSpaceOnUse" x1="100.9" x2="818.4" y1="0" y2="0"><stop offset="0.0000" stop-color="#f7f8de"/><stop offset="0.0084" stop-color="#f6f8dc"/><stop offset="0.0167" stop-color="#f6f8da"/><stop offset="0.0251" stop-color="#f5f7d8"/><stop offset="0.0334" stop-color="#f5f7d6"/><stop offset="0.0418" stop-color="#f4f6d4"/><stop offset="0.0502" stop-color="#f4f6d3"/><stop offset="0.0585" stop-color="#f3f6d1"/><stop offset="0.0669" stop-color="#f3f5cf"/><stop offset="0.0753" stop-color="#f2f5cd"/><stop offset="0.0836" stop-color="#f2f5cb"/><stop offset="0.0920" stop-color="#f1f4c9"/><stop offset="0.0960" stop-color="#f1f4c8"/><stop offset="0.0971" stop-color="#e2e66f"/><stop offset="0.1003" stop-color="#e2e66c"/><stop offset="0.1087" stop-color="#e1e565"/><stop offset="0.1171" stop-color="#e0e45d"/><stop offset="0.1254" stop-color="#dfe356"/><stop offset="0.1338" stop-color="#dee24f"/><stop offset="0.1422" stop-color="#dde147"/><stop offset="0.1505" stop-color="#dee144"/><stop offset="0.1589" stop-color="#e0e241"/><stop offset="0.1672" stop-color="#e1e23f"/><stop offset="0.1756" stop-color="#e3e23d"/><stop offset="0.1840" stop-color="#e4e33b"/><stop offset="0.1923" stop-color="#e6e338"/><stop offset="0.1986" stop-color="#e7e337"/><stop offset="0.1997" stop-color="#f7b322"/><stop offset="0.2007" stop-color="#f7b122"/><stop offset="0.2091" stop-color="#f6a423"/><stop offset="0.2174" stop-color="#f59b24"/><stop offset="0.2258" stop-color="#f59326"/><stop offset="0.2341" stop-color="#f48a27"/><stop offset="0.2425" stop-color="#f38228"/><stop offset="0.2509" stop-color="#f27a29"/><stop offset="0.2592" stop-color="#f2712a"/><stop offset="0.2676" stop-color="#f1672b"/><stop offset="0.2760" stop-color="#f05e2c"/><stop offset="0.2843" stop-color="#ef552d"/><stop offset="0.2927" stop-color="#ef4b2d"/><stop offset="0.3006" stop-color="#ee432e"/><stop offset="0.3010" stop-color="#ee422e"/><stop offset="0.3017" stop-color="#e62a2d"/><stop offset="0.3094" stop-color="#e6292d"/><stop offset="0.3178" stop-color="#e6292d"/><stop offset="0.3261" stop-color="#e5282c"/><stop offset="0.3345" stop-color="#e5272c"/><stop offset="0.3429" stop-color="#e5262c"/><stop offset="0.3512" stop-color="#e5252c"/><stop offset="0.3596" stop-color="#e4242c"/><stop offset="0.3679" stop-color="#e4242c"/><stop offset="0.3763" stop-color="#e4232c"/><stop offset="0.3847" stop-color="#e4222c"/><stop offset="0.3930" stop-color="#e3212c"/><stop offset="0.4014" stop-color="#e3202c"/><stop offset="0.4036" stop-color="#e3202c"/><stop offset="0.4047" stop-color="#e4232c"/><stop offset="0.4098" stop-color="#e4242c"/><stop offset="0.4181" stop-color="#e5252c"/><stop offset="0.4265" stop-color="#e5262c"/><stop offset="0.4348" stop-color="#e5272c"/><stop offset="0.4432" stop-color="#e6292d"/><stop offset="0.4516" stop-color="#e62a2d"/><stop offset="0.4599" stop-color="#e72b2d"/><stop offset="0.4683" stop-color="#e72c2d"/><stop offset="0.4767" stop-color="#e72d2d"/><stop offset="0.4850" stop-color="#e82e2d"/><stop offset="0.4934" stop-color="#e82f2d"/><stop offset="0.5017" stop-color="#e8302d"/><stop offset="0.5056" stop-color="#e8312d"/><stop offset="0.5068" stop-color="#ee422e"/><stop offset="0.5101" stop-color="#ee432e"/><stop offset="0.5185" stop-color="#ee452e"/><stop offset="0.5268" stop-color="#ee472e"/><stop offset="0.5352" stop-color="#ef492d"/><stop offset="0.5436" stop-color="#ef4c2d"/><stop offset="0.5519" stop-color="#ef4e2d"/><stop offset="0.5603" stop-color="#ef502d"/><stop offset="0.5686" stop-color="#ef522d"/><stop offset="0.5770" stop-color="#ef542d"/><stop offset="0.5854" stop-color="#f0562c"/><stop offset="0.5937" stop-color="#f0582c"/><stop offset="0.6021" stop-color="#f05a2c"/><stop offset="0.6077" stop-color="#f05c2c"/><stop offset="0.6088" stop-color="#f49126"/><stop offset="0.7097" stop-color="#f49126"/><stop offset="0.7108" stop-color="#f6a323"/><stop offset="0.8127" stop-color="#f6a323"/><stop offset="0.8138" stop-color="#f7aa23"/><stop offset="0.8195" stop-color="#f7ab23"/><stop offset="0.8279" stop-color="#f7ac23"/><stop offset="0.8362" stop-color="#f7ad23"/><stop offset="0.8446" stop-color="#f7ae23"/><stop offset="0.8530" stop-color="#f7af23"/><stop offset="0.8613" stop-color="#f7b123"/><stop offset="0.8697" stop-color="#f7b222"/><stop offset="0.8780" stop-color="#f7b322"/><stop offset="0.8864" stop-color="#f7b422"/><stop offset="0.8948" stop-color="#f7b522"/><stop offset="0.9031" stop-color="#f7b622"/><stop offset="0.9115" stop-color="#f7b722"/><stop offset="0.9147" stop-color="#f7b822"/><stop offset="0.9158" stop-color="#f8c722"/><stop offset="0.9199" stop-color="#f8c822"/><stop offset="0.9282" stop-color="#f8cb22"/><stop offset="0.9366" stop-color="#f8cd22"/><stop offset="0.9449" stop-color="#f8d022"/><stop offset="0.9533" stop-color="#f8d222"/><stop offset="0.9617" stop-color="#f8d422"/><stop offset="0.9700" stop-color="#f8d722"/><stop offset="0.9784" stop-color="#f8d922"/><stop offset="0.9868" stop-color="#f8db22"/><stop offset="0.9951" stop-color="#f7dd23"/><stop offset="1.0000" stop-color="#f7de23"/></linearGradient><linearGradient id="t4" gradientUnits="userSpaceOnUse" x1="100.9" x2="818.4" y1="0" y2="0"><stop offset="0.0000" stop-color="#fcfdf4"/><stop offset="0.0960" stop-color="#fcfdf4"/><stop offset="0.0971" stop-color="#eef1b5"/><stop offset="0.1003" stop-color="#edf1b3"/><stop offset="0.1087" stop-color="#ecf0ad"/><stop offset="0.1171" stop-color="#ebefa7"/><stop offset="0.1254" stop-color="#eaeea0"/><stop offset="0.1338" stop-color="#e9ed9a"/><stop offset="0.1422" stop-color="#e8ec94"/><stop offset="0.1505" stop-color="#e7eb8e"/><stop offset="0.1589" stop-color="#e6ea88"/><stop offset="0.1672" stop-color="#e5e983"/><stop offset="0.1756" stop-color="#e4e87e"/><stop offset="0.1840" stop-color="#e4e879"/><stop offset="0.1923" stop-color="#e3e774"/><stop offset="0.1986" stop-color="#e3e770"/><stop offset="0.1997" stop-color="#f8be22"/><stop offset="0.2007" stop-color="#f8bd22"/><stop offset="0.2091" stop-color="#f7b023"/><stop offset="0.2174" stop-color="#f6a323"/><stop offset="0.2258" stop-color="#f59b24"/><stop offset="0.2341" stop-color="#f59326"/><stop offset="0.2425" stop-color="#f48b27"/><stop offset="0.2509" stop-color="#f38328"/><stop offset="0.2592" stop-color="#f27a29"/><stop offset="0.2676" stop-color="#f2722a"/><stop offset="0.2760" stop-color="#f1682b"/><stop offset="0.2843" stop-color="#f05f2c"/><stop offset="0.2927" stop-color="#f0562c"/><stop offset="0.3006" stop-color="#ef4d2d"/><stop offset="0.3010" stop-color="#ef4c2d"/><stop offset="0.3017" stop-color="#e5272c"/><stop offset="0.3094" stop-color="#e5262c"/><stop offset="0.3178" stop-color="#e5262c"/><stop offset="0.3261" stop-color="#e5252c"/><stop offset="0.3345" stop-color="#e4242c"/><stop offset="0.3429" stop-color="#e4242c"/><stop offset="0.3512" stop-color="#e4232c"/><stop offset="0.3596" stop-color="#e4222c"/><stop offset="0.3679" stop-color="#e4222c"/><stop offset="0.3763" stop-color="#e3212c"/><stop offset="0.3847" stop-color="#e3202c"/><stop offset="0.3930" stop-color="#b0151f"/><stop offset="0.4014" stop-color="#a9131d"/><stop offset="0.4036" stop-color="#a9131d"/><stop offset="0.4047" stop-color="#d11c27"/><stop offset="0.4098" stop-color="#d11c27"/><stop offset="0.4181" stop-color="#d21c28"/><stop offset="0.4265" stop-color="#d41d28"/><stop offset="0.4348" stop-color="#d51d28"/><stop offset="0.4432" stop-color="#d61d29"/><stop offset="0.4516" stop-color="#d71d29"/><stop offset="0.4599" stop-color="#d81e29"/><stop offset="0.4683" stop-color="#d91e29"/><stop offset="0.4767" stop-color="#da1e2a"/><stop offset="0.4850" stop-color="#dc1e2a"/><stop offset="0.4934" stop-color="#dd1f2a"/><stop offset="0.5017" stop-color="#de1f2b"/><stop offset="0.5056" stop-color="#de1f2b"/><stop offset="0.5068" stop-color="#ea352d"/><stop offset="0.5101" stop-color="#ea352d"/><stop offset="0.5185" stop-color="#ea372d"/><stop offset="0.5268" stop-color="#eb392d"/><stop offset="0.5352" stop-color="#eb3a2e"/><stop offset="0.5436" stop-color="#ec3c2e"/><stop offset="0.5519" stop-color="#ed3e2e"/><stop offset="0.5603" stop-color="#ed3f2e"/><stop offset="0.5686" stop-color="#ee412e"/><stop offset="0.5770" stop-color="#ee432e"/><stop offset="0.5854" stop-color="#ee452e"/><stop offset="0.5937" stop-color="#ee482e"/><stop offset="0.6021" stop-color="#ef4b2d"/><stop offset="0.6077" stop-color="#ef4c2d"/><stop offset="0.6088" stop-color="#f2762a"/><stop offset="0.7097" stop-color="#f2762a"/><stop offset="0.7108" stop-color="#f38428"/><stop offset="0.8127" stop-color="#f38428"/><stop offset="0.8138" stop-color="#f59625"/><stop offset="0.8195" stop-color="#f59625"/><stop offset="0.8279" stop-color="#f59725"/><stop offset="0.8362" stop-color="#f59925"/><stop offset="0.8446" stop-color="#f59a24"/><stop offset="0.8530" stop-color="#f59b24"/><stop offset="0.8613" stop-color="#f59c24"/><stop offset="0.8697" stop-color="#f59d24"/><stop offset="0.8780" stop-color="#f69e24"/><stop offset="0.8864" stop-color="#f69f24"/><stop offset="0.8948" stop-color="#f6a023"/><stop offset="0.9031" stop-color="#f6a123"/><stop offset="0.9115" stop-color="#f6a223"/><stop offset="0.9147" stop-color="#f6a323"/><stop offset="0.9158" stop-color="#f8b822"/><stop offset="0.9199" stop-color="#f8b922"/><stop offset="0.9282" stop-color="#f8bb22"/><stop offset="0.9366" stop-color="#f8bd22"/><stop offset="0.9449" stop-color="#f8bf22"/><stop offset="0.9533" stop-color="#f8c222"/><stop offset="0.9617" stop-color="#f8c422"/><stop offset="0.9700" stop-color="#f8c722"/><stop offset="0.9784" stop-color="#f8c922"/><stop offset="0.9868" stop-color="#f8cb22"/><stop offset="0.9951" stop-color="#f8ce22"/><stop offset="1.0000" stop-color="#f8cf22"/></linearGradient><linearGradient id="t5" gradientUnits="userSpaceOnUse" x1="100.9" x2="818.4" y1="0" y2="0"><stop offset="0.0000" stop-color="#fdfdfd"/><stop offset="0.0084" stop-color="#fcfcfc"/><stop offset="0.0251" stop-color="#fcfcfc"/><stop offset="0.0334" stop-color="#fbfbfb"/><stop offset="0.0418" stop-color="#fbfbfb"/><stop offset="0.0502" stop-color="#fafafa"/><stop offset="0.0669" stop-color="#fafafa"/><stop offset="0.0753" stop-color="#f9f9f9"/><stop offset="0.0920" stop-color="#f9f9f9"/><stop offset="0.0960" stop-color="#f8f8f8"/><stop offset="0.0971" stop-color="#f6f6f6"/><stop offset="0.1003" stop-color="#f6f6f6"/><stop offset="0.1087" stop-color="#f7f7f7"/><stop offset="0.1171" stop-color="#f7f7f7"/><stop offset="0.1254" stop-color="#f8f8f8"/><stop offset="0.1338" stop-color="#f8f8f8"/><stop offset="0.1422" stop-color="#f9f9f9"/><stop offset="0.1505" stop-color="#f9f9f9"/><stop offset="0.1589" stop-color="#fafafa"/><stop offset="0.1672" stop-color="#fafafa"/><stop offset="0.1756" stop-color="#fbfbfb"/><stop offset="0.1840" stop-color="#fdfdfd"/><stop offset="0.1923" stop-color="#fefefe"/><stop offset="0.1986" stop-color="#ffffff"/><stop offset="0.1997" stop-color="#e6ea88"/><stop offset="0.2007" stop-color="#e5e984"/><stop offset="0.2091" stop-color="#e1e567"/><stop offset="0.2174" stop-color="#e7e337"/><stop offset="0.2258" stop-color="#f8cd22"/><stop offset="0.2341" stop-color="#f7b322"/><stop offset="0.2425" stop-color="#f69f24"/><stop offset="0.2509" stop-color="#f49126"/><stop offset="0.2592" stop-color="#f38328"/><stop offset="0.2676" stop-color="#f2742a"/><stop offset="0.2760" stop-color="#f1642b"/><stop offset="0.2843" stop-color="#ef542d"/><stop offset="0.2927" stop-color="#ee442e"/><stop offset="0.3006" stop-color="#ec3c2e"/><stop offset="0.3010" stop-color="#ec3b2e"/><stop offset="0.3017" stop-color="#e3202c"/><stop offset="0.3429" stop-color="#e3202c"/><stop offset="0.3512" stop-color="#e2202c"/><stop offset="0.3596" stop-color="#900e16"/><stop offset="0.5056" stop-color="#900e16"/><stop offset="0.5068" stop-color="#a9131d"/><stop offset="0.5101" stop-color="#aa141d"/><stop offset="0.5185" stop-color="#ad141e"/><stop offset="0.5268" stop-color="#b0151f"/><stop offset="0.5352" stop-color="#b31620"/><stop offset="0.5436" stop-color="#b61620"/><stop offset="0.5519" stop-color="#b81721"/><stop offset="0.5603" stop-color="#ba1721"/><stop offset="0.5686" stop-color="#bd1822"/><stop offset="0.5770" stop-color="#bf1823"/><stop offset="0.5854" stop-color="#c11923"/><stop offset="0.5937" stop-color="#c31924"/><stop offset="0.6021" stop-color="#c61a24"/><stop offset="0.6077" stop-color="#c71a25"/><stop offset="0.6088" stop-color="#e3202c"/><stop offset="0.7097" stop-color="#e3202c"/><stop offset="0.7108" stop-color="#ea342d"/><stop offset="0.8127" stop-color="#ea342d"/><stop offset="0.8138" stop-color="#ee472e"/><stop offset="0.9147" stop-color="#ee472e"/><stop offset="0.9158" stop-color="#f27b29"/><stop offset="0.9199" stop-color="#f37c29"/><stop offset="0.9282" stop-color="#f37e29"/><stop offset="0.9366" stop-color="#f38028"/><stop offset="0.9449" stop-color="#f38228"/><stop offset="0.9533" stop-color="#f38528"/><stop offset="0.9617" stop-color="#f38727"/><stop offset="0.9700" stop-color="#f48927"/><stop offset="0.9784" stop-color="#f48b27"/><stop offset="0.9868" stop-color="#f48e26"/><stop offset="0.9951" stop-color="#f49026"/><stop offset="1.0000" stop-color="#f49126"/></linearGradient><linearGradient id="t6" gradientUnits="userSpaceOnUse" x1="100.9" x2="818.4" y1="0" y2="0"><stop offset="0.0000" stop-color="#ededed"/><stop offset="0.0084" stop-color="#ededed"/><stop offset="0.0167" stop-color="#ececec"/><stop offset="0.0334" stop-color="#ececec"/><stop offset="0.0418" stop-color="#ebebeb"/><stop offset="0.0502" stop-color="#ebebeb"/><stop offset="0.0585" stop-color="#eaeaea"/><stop offset="0.0753" stop-color="#eaeaea"/><stop offset="0.0836" stop-color="#e9e9e9"/><stop offset="0.0920" stop-color="#e9e9e9"/><stop offset="0.0960" stop-color="#e8e8e8"/><stop offset="0.0971" stop-color="#e6e6e6"/><stop offset="0.1505" stop-color="#e6e6e6"/><stop offset="0.1589" stop-color="#e9e9e9"/><stop offset="0.1672" stop-color="#ececec"/><stop offset="0.1756" stop-color="#eeeeee"/><stop offset="0.1840" stop-color="#f6f6f6"/><stop offset="0.1923" stop-color="#fcfcfc"/><stop offset="0.1986" stop-color="#fcfcfc"/><stop offset="0.1997" stop-color="#eff2bb"/><stop offset="0.2007" stop-color="#eef2ba"/><stop offset="0.2091" stop-color="#edf0af"/><stop offset="0.2174" stop-color="#e1e564"/><stop offset="0.2258" stop-color="#f4e026"/><stop offset="0.2341" stop-color="#f8c422"/><stop offset="0.2425" stop-color="#f6a923"/><stop offset="0.2509" stop-color="#f59625"/><stop offset="0.2592" stop-color="#f38628"/><stop offset="0.2676" stop-color="#f2762a"/><stop offset="0.2760" stop-color="#f1642b"/><stop offset="0.2843" stop-color="#ef512d"/><stop offset="0.2927" stop-color="#ed402e"/><stop offset="0.3006" stop-color="#ec3b2e"/><stop offset="0.3010" stop-color="#ec3b2e"/><stop offset="0.3017" stop-color="#e3202c"/><stop offset="0.3429" stop-color="#e3202c"/><stop offset="0.3512" stop-color="#780810"/><stop offset="0.5056" stop-color="#780810"/><stop offset="0.5068" stop-color="#9d101a"/><stop offset="0.5101" stop-color="#9e111a"/><stop offset="0.5185" stop-color="#a0111b"/><stop offset="0.5268" stop-color="#a3121b"/><stop offset="0.5352" stop-color="#a5121c"/><stop offset="0.5436" stop-color="#a8131d"/><stop offset="0.5519" stop-color="#aa141d"/><stop offset="0.5603" stop-color="#ad141e"/><stop offset="0.5686" stop-color="#af151e"/><stop offset="0.5770" stop-color="#b2151f"/><stop offset="0.5854" stop-color="#b41620"/><stop offset="0.5937" stop-color="#b61620"/><stop offset="0.6021" stop-color="#b81721"/><stop offset="0.6077" stop-color="#b91721"/><stop offset="0.6088" stop-color="#c71a25"/><stop offset="0.7097" stop-color="#c71a25"/><stop offset="0.7108" stop-color="#cc1b26"/><stop offset="0.7192" stop-color="#ce1b27"/><stop offset="0.7275" stop-color="#d01c27"/><stop offset="0.7359" stop-color="#d21c27"/><stop offset="0.7443" stop-color="#d41d28"/><stop offset="0.7526" stop-color="#d51d28"/><stop offset="0.7610" stop-color="#d71d29"/><stop offset="0.7693" stop-color="#d91e29"/><stop offset="0.7777" stop-color="#db1e2a"/><stop offset="0.7861" stop-color="#dd1f2a"/><stop offset="0.7944" stop-color="#df1f2b"/><stop offset="0.8028" stop-color="#e11f2b"/><stop offset="0.8111" stop-color="#e3202c"/><stop offset="0.8127" stop-color="#e3202c"/><stop offset="0.8138" stop-color="#e72e2d"/><stop offset="0.8195" stop-color="#e82f2d"/><stop offset="0.8279" stop-color="#e8302d"/><stop offset="0.8362" stop-color="#e9312d"/><stop offset="0.8446" stop-color="#e9332d"/><stop offset="0.8530" stop-color="#ea342d"/><stop offset="0.8613" stop-color="#ea362d"/><stop offset="0.8697" stop-color="#ea372d"/><stop offset="0.8780" stop-color="#eb382d"/><stop offset="0.8864" stop-color="#eb3a2e"/><stop offset="0.8948" stop-color="#ec3b2e"/><stop offset="0.9031" stop-color="#ec3d2e"/><stop offset="0.9115" stop-color="#ed3e2e"/><stop offset="0.9147" stop-color="#ed3f2e"/><stop offset="0.9158" stop-color="#f16c2b"/><stop offset="0.9199" stop-color="#f16d2b"/><stop offset="0.9282" stop-color="#f2702a"/><stop offset="0.9366" stop-color="#f2722a"/><stop offset="0.9449" stop-color="#f2752a"/><stop offset="0.9533" stop-color="#f2772a"/><stop offset="0.9617" stop-color="#f27929"/><stop offset="0.9700" stop-color="#f27c29"/><stop offset="0.9784" stop-color="#f37e29"/><stop offset="0.9868" stop-color="#f38028"/><stop offset="0.9951" stop-color="#f38228"/><stop offset="1.0000" stop-color="#f38428"/></linearGradient><linearGradient id="t7" gradientUnits="userSpaceOnUse" x1="100.9" x2="818.4" y1="0" y2="0"><stop offset="0.0000" stop-color="#dbdbdb"/><stop offset="0.0084" stop-color="#dbdbdb"/><stop offset="0.0167" stop-color="#dadada"/><stop offset="0.0502" stop-color="#dadada"/><stop offset="0.0585" stop-color="#d9d9d9"/><stop offset="0.0836" stop-color="#d9d9d9"/><stop offset="0.0920" stop-color="#d8d8d8"/><stop offset="0.1422" stop-color="#d8d8d8"/><stop offset="0.1505" stop-color="#d9d9d9"/><stop offset="0.1589" stop-color="#dcdcdc"/><stop offset="0.1672" stop-color="#dedede"/><stop offset="0.1756" stop-color="#e1e1e1"/><stop offset="0.1840" stop-color="#f0f0f0"/><stop offset="0.1923" stop-color="#fafafa"/><stop offset="0.1986" stop-color="#fafafa"/><stop offset="0.1997" stop-color="#f1f4c8"/><stop offset="0.2258" stop-color="#f1f4c8"/><stop offset="0.2341" stop-color="#dee143"/><stop offset="0.2425" stop-color="#f7de23"/><stop offset="0.2509" stop-color="#f8bf22"/><stop offset="0.2592" stop-color="#f6a223"/><stop offset="0.2676" stop-color="#f49026"/><stop offset="0.2760" stop-color="#f37c29"/><stop offset="0.2843" stop-color="#f1662b"/><stop offset="0.2927" stop-color="#ef4f2d"/><stop offset="0.3006" stop-color="#ee432e"/><stop offset="0.3010" stop-color="#ee422e"/><stop offset="0.3017" stop-color="#e3202c"/><stop offset="0.3429" stop-color="#e3202c"/><stop offset="0.3512" stop-color="#da1e2a"/><stop offset="0.3596" stop-color="#c31924"/><stop offset="0.3679" stop-color="#a8131d"/><stop offset="0.3763" stop-color="#8d0d16"/><stop offset="0.3847" stop-color="#800a12"/><stop offset="0.3930" stop-color="#72080f"/><stop offset="0.4014" stop-color="#66070d"/><stop offset="0.4036" stop-color="#62070d"/><stop offset="0.4047" stop-color="#6d080e"/><stop offset="0.4098" stop-color="#6b080e"/><stop offset="0.4181" stop-color="#69070e"/><stop offset="0.4265" stop-color="#67070e"/><stop offset="0.4348" stop-color="#64070d"/><stop offset="0.4432" stop-color="#62070d"/><stop offset="0.4516" stop-color="#60070d"/><stop offset="0.4599" stop-color="#5e070c"/><stop offset="0.4683" stop-color="#5b070c"/><stop offset="0.4767" stop-color="#59070c"/><stop offset="0.4850" stop-color="#57070b"/><stop offset="0.4934" stop-color="#54070b"/><stop offset="0.5017" stop-color="#52070b"/><stop offset="0.5056" stop-color="#51070a"/><stop offset="0.5068" stop-color="#6d080e"/><stop offset="0.6077" stop-color="#6d080e"/><stop offset="0.6088" stop-color="#72080f"/><stop offset="0.7097" stop-color="#72080f"/><stop offset="0.7108" stop-color="#910e16"/><stop offset="0.7192" stop-color="#930e17"/><stop offset="0.7275" stop-color="#940f17"/><stop offset="0.7359" stop-color="#960f18"/><stop offset="0.7443" stop-color="#980f19"/><stop offset="0.7526" stop-color="#9a1019"/><stop offset="0.7610" stop-color="#9c101a"/><stop offset="0.7693" stop-color="#9e111a"/><stop offset="0.7777" stop-color="#a0111b"/><stop offset="0.7861" stop-color="#a2121b"/><stop offset="0.7944" stop-color="#a4121c"/><stop offset="0.8028" stop-color="#a6131c"/><stop offset="0.8111" stop-color="#a8131d"/><stop offset="0.8127" stop-color="#a9131d"/><stop offset="0.8138" stop-color="#aa131d"/><stop offset="0.8195" stop-color="#b2151f"/><stop offset="0.8279" stop-color="#bd1822"/><stop offset="0.8362" stop-color="#c41924"/><stop offset="0.8446" stop-color="#cc1b26"/><stop offset="0.8530" stop-color="#d31c28"/><stop offset="0.8613" stop-color="#da1e2a"/><stop offset="0.8697" stop-color="#dc1e2a"/><stop offset="0.8780" stop-color="#de1f2b"/><stop offset="0.8864" stop-color="#e01f2b"/><stop offset="0.8948" stop-color="#e2202c"/><stop offset="0.9031" stop-color="#e3212c"/><stop offset="0.9115" stop-color="#e4232c"/><stop offset="0.9147" stop-color="#e4232c"/><stop offset="0.9158" stop-color="#ed3f2e"/><stop offset="0.9199" stop-color="#ed402e"/><stop offset="0.9282" stop-color="#ee432e"/><stop offset="0.9366" stop-color="#ee472e"/><stop offset="0.9449" stop-color="#ef4b2d"/><stop offset="0.9533" stop-color="#ef4f2d"/><stop offset="0.9617" stop-color="#ef542d"/><stop offset="0.9700" stop-color="#f0582c"/><stop offset="0.9784" stop-color="#f05c2c"/><stop offset="0.9868" stop-color="#f0602c"/><stop offset="0.9951" stop-color="#f1642b"/><stop offset="1.0000" stop-color="#f1662b"/></linearGradient><linearGradient id="t8" gradientUnits="userSpaceOnUse" x1="100.9" x2="818.4" y1="0" y2="0"><stop offset="0.0000" stop-color="#d3d3d3"/><stop offset="0.1003" stop-color="#d3d3d3"/><stop offset="0.1087" stop-color="#d4d4d4"/><stop offset="0.1171" stop-color="#d4d4d4"/><stop offset="0.1254" stop-color="#d5d5d5"/><stop offset="0.1338" stop-color="#d5d5d5"/><stop offset="0.1422" stop-color="#d6d6d6"/><stop offset="0.1505" stop-color="#d6d6d6"/><stop offset="0.1589" stop-color="#d7d7d7"/><stop offset="0.1672" stop-color="#d7d7d7"/><stop offset="0.1756" stop-color="#d8d8d8"/><stop offset="0.1840" stop-color="#d8d8d8"/><stop offset="0.1923" stop-color="#d9d9d9"/><stop offset="0.1986" stop-color="#d9d9d9"/><stop offset="0.1997" stop-color="#fafafa"/><stop offset="0.2007" stop-color="#fafafa"/><stop offset="0.2091" stop-color="#fcfcfc"/><stop offset="0.2174" stop-color="#fefefe"/><stop offset="0.2258" stop-color="#f4f6d2"/><stop offset="0.2341" stop-color="#e3e772"/><stop offset="0.2425" stop-color="#e8e335"/><stop offset="0.2509" stop-color="#f8dc22"/><stop offset="0.2592" stop-color="#f8bd22"/><stop offset="0.2676" stop-color="#f6a223"/><stop offset="0.2760" stop-color="#f49026"/><stop offset="0.2843" stop-color="#f27a29"/><stop offset="0.2927" stop-color="#f0602c"/><stop offset="0.3006" stop-color="#ee442e"/><stop offset="0.3010" stop-color="#ee422e"/><stop offset="0.3017" stop-color="#e3202c"/><stop offset="0.3596" stop-color="#e3202c"/><stop offset="0.3679" stop-color="#d81e29"/><stop offset="0.3763" stop-color="#cc1b26"/><stop offset="0.3847" stop-color="#bf1823"/><stop offset="0.3930" stop-color="#b3151f"/><stop offset="0.4014" stop-color="#a2121b"/><stop offset="0.4036" stop-color="#9e111a"/><stop offset="0.4047" stop-color="#72080f"/><stop offset="0.4098" stop-color="#70080f"/><stop offset="0.4181" stop-color="#6d080e"/><stop offset="0.4265" stop-color="#6a070e"/><stop offset="0.4348" stop-color="#67070e"/><stop offset="0.4432" stop-color="#63070d"/><stop offset="0.4516" stop-color="#60070d"/><stop offset="0.4599" stop-color="#5d070c"/><stop offset="0.4683" stop-color="#5a070c"/><stop offset="0.4767" stop-color="#57070b"/><stop offset="0.4850" stop-color="#53070b"/><stop offset="0.4934" stop-color="#50070a"/><stop offset="0.5017" stop-color="#4d060a"/><stop offset="0.5056" stop-color="#4b060a"/><stop offset="0.5068" stop-color="#5c070c"/><stop offset="0.6077" stop-color="#5c070c"/><stop offset="0.6088" stop-color="#67070e"/><stop offset="0.7097" stop-color="#67070e"/><stop offset="0.7108" stop-color="#7e0912"/><stop offset="0.8127" stop-color="#7e0912"/><stop offset="0.8138" stop-color="#a3121b"/><stop offset="0.8195" stop-color="#aa131d"/><stop offset="0.8279" stop-color="#b31620"/><stop offset="0.8362" stop-color="#bb1722"/><stop offset="0.8446" stop-color="#c11923"/><stop offset="0.8530" stop-color="#c51924"/><stop offset="0.8613" stop-color="#c91a25"/><stop offset="0.8697" stop-color="#cd1b26"/><stop offset="0.8780" stop-color="#d11c27"/><stop offset="0.8864" stop-color="#d51d28"/><stop offset="0.8948" stop-color="#d91e29"/><stop offset="0.9031" stop-color="#dd1f2a"/><stop offset="0.9115" stop-color="#e1202c"/><stop offset="0.9147" stop-color="#e3202c"/><stop offset="0.9158" stop-color="#ea352d"/><stop offset="0.9199" stop-color="#ea362d"/><stop offset="0.9282" stop-color="#eb392d"/><stop offset="0.9366" stop-color="#ec3c2e"/><stop offset="0.9449" stop-color="#ed3f2e"/><stop offset="0.9533" stop-color="#ee422e"/><stop offset="0.9617" stop-color="#ee472e"/><stop offset="0.9700" stop-color="#ef4b2d"/><stop offset="0.9784" stop-color="#ef502d"/><stop offset="0.9868" stop-color="#ef552d"/><stop offset="0.9951" stop-color="#f0592c"/><stop offset="1.0000" stop-color="#f05c2c"/></linearGradient><linearGradient id="t9" gradientUnits="userSpaceOnUse" x1="100.9" x2="818.4" y1="0" y2="0"><stop offset="0.0000" stop-color="#d0d0d0"/><stop offset="0.0960" stop-color="#d0d0d0"/><stop offset="0.0971" stop-color="#d3d3d3"/><stop offset="0.1171" stop-color="#d3d3d3"/><stop offset="0.1254" stop-color="#d4d4d4"/><stop offset="0.1505" stop-color="#d4d4d4"/><stop offset="0.1589" stop-color="#d5d5d5"/><stop offset="0.1923" stop-color="#d5d5d5"/><stop offset="0.1986" stop-color="#d6d6d6"/><stop offset="0.1997" stop-color="#f2f2f2"/><stop offset="0.2174" stop-color="#f2f2f2"/><stop offset="0.2258" stop-color="#f6f6f6"/><stop offset="0.2341" stop-color="#fdfdf7"/><stop offset="0.2425" stop-color="#e9ec99"/><stop offset="0.2509" stop-color="#e0e45d"/><stop offset="0.2592" stop-color="#e4e33b"/><stop offset="0.2676" stop-color="#f1e429"/><stop offset="0.2760" stop-color="#f8db22"/><stop offset="0.2843" stop-color="#f8bf22"/><stop offset="0.2927" stop-color="#f6a723"/><stop offset="0.3006" stop-color="#f59a24"/><stop offset="0.3010" stop-color="#f59a24"/><stop offset="0.3017" stop-color="#f38627"/><stop offset="0.3094" stop-color="#f2722a"/><stop offset="0.3178" stop-color="#f0622c"/><stop offset="0.3261" stop-color="#ef522d"/><stop offset="0.3345" stop-color="#ee412e"/><stop offset="0.3429" stop-color="#ea372d"/><stop offset="0.3512" stop-color="#e72c2d"/><stop offset="0.3596" stop-color="#e3212c"/><stop offset="0.3679" stop-color="#e3202c"/><stop offset="0.4036" stop-color="#e3202c"/><stop offset="0.4047" stop-color="#da1e2a"/><stop offset="0.4098" stop-color="#d71d29"/><stop offset="0.4181" stop-color="#d41d28"/><stop offset="0.4265" stop-color="#d01c27"/><stop offset="0.4348" stop-color="#cd1b26"/><stop offset="0.4432" stop-color="#c91a25"/><stop offset="0.4516" stop-color="#c21923"/><stop offset="0.4599" stop-color="#b81721"/><stop offset="0.4683" stop-color="#ac141e"/><stop offset="0.4767" stop-color="#a0111a"/><stop offset="0.4850" stop-color="#950f18"/><stop offset="0.4934" stop-color="#8c0d15"/><stop offset="0.5017" stop-color="#830b13"/><stop offset="0.5056" stop-color="#7f0a12"/><stop offset="0.5068" stop-color="#4b060a"/><stop offset="0.5101" stop-color="#4a0609"/><stop offset="0.5185" stop-color="#480609"/><stop offset="0.5268" stop-color="#460609"/><stop offset="0.5352" stop-color="#430608"/><stop offset="0.5436" stop-color="#410608"/><stop offset="0.5519" stop-color="#3e0608"/><stop offset="0.5603" stop-color="#3c0607"/><stop offset="0.5686" stop-color="#390507"/><stop offset="0.5770" stop-color="#370507"/><stop offset="0.5854" stop-color="#340506"/><stop offset="0.5937" stop-color="#310506"/><stop offset="0.6021" stop-color="#2f0406"/><stop offset="0.6077" stop-color="#2d0406"/><stop offset="0.6088" stop-color="#0f0102"/><stop offset="0.7097" stop-color="#0f0102"/><stop offset="0.7108" stop-color="#400608"/><stop offset="0.7192" stop-color="#400608"/><stop offset="0.7275" stop-color="#410608"/><stop offset="0.7359" stop-color="#410608"/><stop offset="0.7443" stop-color="#420608"/><stop offset="0.7526" stop-color="#420608"/><stop offset="0.7610" stop-color="#430608"/><stop offset="0.7693" stop-color="#430608"/><stop offset="0.7777" stop-color="#440609"/><stop offset="0.7861" stop-color="#440609"/><stop offset="0.7944" stop-color="#450609"/><stop offset="0.8111" stop-color="#450609"/><stop offset="0.8127" stop-color="#460609"/><stop offset="0.8138" stop-color="#6d080e"/><stop offset="0.8195" stop-color="#70080f"/><stop offset="0.8279" stop-color="#750810"/><stop offset="0.8362" stop-color="#7a0810"/><stop offset="0.8446" stop-color="#7f0912"/><stop offset="0.8530" stop-color="#840b13"/><stop offset="0.8613" stop-color="#890c14"/><stop offset="0.8697" stop-color="#8e0d16"/><stop offset="0.8780" stop-color="#930e17"/><stop offset="0.8864" stop-color="#980f18"/><stop offset="0.8948" stop-color="#9d101a"/><stop offset="0.9031" stop-color="#a2121b"/><stop offset="0.9115" stop-color="#a7131c"/><stop offset="0.9147" stop-color="#a8131d"/><stop offset="0.9158" stop-color="#e3202c"/><stop offset="0.9199" stop-color="#e4222c"/><stop offset="0.9282" stop-color="#e5262c"/><stop offset="0.9366" stop-color="#e62a2d"/><stop offset="0.9449" stop-color="#e82e2d"/><stop offset="0.9533" stop-color="#e9322d"/><stop offset="0.9617" stop-color="#ea362d"/><stop offset="0.9700" stop-color="#ec3a2e"/><stop offset="0.9784" stop-color="#ed3e2e"/><stop offset="0.9868" stop-color="#ee432e"/><stop offset="0.9951" stop-color="#ef492d"/><stop offset="1.0000" stop-color="#ef4c2d"/></linearGradient><linearGradient id="t10" gradientUnits="userSpaceOnUse" x1="100.9" x2="818.4" y1="0" y2="0"><stop offset="0.0000" stop-color="#d6d6d6"/><stop offset="0.0960" stop-color="#d6d6d6"/><stop offset="0.0971" stop-color="#d8d8d8"/><stop offset="0.1986" stop-color="#d8d8d8"/><stop offset="0.1997" stop-color="#efefef"/><stop offset="0.2174" stop-color="#efefef"/><stop offset="0.2258" stop-color="#f4f4f4"/><stop offset="0.2341" stop-color="#fcfcfc"/><stop offset="0.2425" stop-color="#f7f9df"/><stop offset="0.2509" stop-color="#f3f5ce"/><stop offset="0.2592" stop-color="#eff2bb"/><stop offset="0.2676" stop-color="#ebefa7"/><stop offset="0.2760" stop-color="#e5e980"/><stop offset="0.2843" stop-color="#e0e45e"/><stop offset="0.2927" stop-color="#e1e23f"/><stop offset="0.3006" stop-color="#efe52b"/><stop offset="0.3010" stop-color="#f0e52a"/><stop offset="0.3017" stop-color="#f7dd23"/><stop offset="0.3094" stop-color="#f8d022"/><stop offset="0.3178" stop-color="#f8c022"/><stop offset="0.3261" stop-color="#f7b222"/><stop offset="0.3345" stop-color="#f59d24"/><stop offset="0.3429" stop-color="#f48d26"/><stop offset="0.3512" stop-color="#f37f29"/><stop offset="0.3596" stop-color="#f2742a"/><stop offset="0.3679" stop-color="#f1672b"/><stop offset="0.3763" stop-color="#f05a2c"/><stop offset="0.3847" stop-color="#ef4d2d"/><stop offset="0.3930" stop-color="#ee442e"/><stop offset="0.4014" stop-color="#ec3d2e"/><stop offset="0.4036" stop-color="#ec3c2e"/><stop offset="0.4047" stop-color="#de1f2b"/><stop offset="0.4098" stop-color="#dd1f2a"/><stop offset="0.4181" stop-color="#da1e2a"/><stop offset="0.4265" stop-color="#d71d29"/><stop offset="0.4348" stop-color="#d51d28"/><stop offset="0.4432" stop-color="#d21c28"/><stop offset="0.4516" stop-color="#cf1c27"/><stop offset="0.4599" stop-color="#cd1b26"/><stop offset="0.4683" stop-color="#ca1b26"/><stop offset="0.4767" stop-color="#c81a25"/><stop offset="0.4850" stop-color="#c51924"/><stop offset="0.4934" stop-color="#c21923"/><stop offset="0.5017" stop-color="#c01823"/><stop offset="0.5056" stop-color="#be1822"/><stop offset="0.5068" stop-color="#780810"/><stop offset="0.5101" stop-color="#770810"/><stop offset="0.5185" stop-color="#750810"/><stop offset="0.5268" stop-color="#73080f"/><stop offset="0.5352" stop-color="#72080f"/><stop offset="0.5436" stop-color="#70080f"/><stop offset="0.5519" stop-color="#6e080f"/><stop offset="0.5603" stop-color="#6c080e"/><stop offset="0.5686" stop-color="#6a080e"/><stop offset="0.5770" stop-color="#68070e"/><stop offset="0.5854" stop-color="#67070e"/><stop offset="0.5937" stop-color="#65070d"/><stop offset="0.6021" stop-color="#63070d"/><stop offset="0.6077" stop-color="#62070d"/><stop offset="0.6088" stop-color="#4b060a"/><stop offset="0.8127" stop-color="#4b060a"/><stop offset="0.8138" stop-color="#73080f"/><stop offset="0.8195" stop-color="#760810"/><stop offset="0.8279" stop-color="#7b0911"/><stop offset="0.8362" stop-color="#800a12"/><stop offset="0.8446" stop-color="#850b13"/><stop offset="0.8530" stop-color="#8a0c15"/><stop offset="0.8613" stop-color="#8f0d16"/><stop offset="0.8697" stop-color="#940e17"/><stop offset="0.8780" stop-color="#990f19"/><stop offset="0.8864" stop-color="#9e111a"/><stop offset="0.8948" stop-color="#a3121b"/><stop offset="0.9031" stop-color="#a8131c"/><stop offset="0.9115" stop-color="#ad141e"/><stop offset="0.9147" stop-color="#af151e"/><stop offset="0.9158" stop-color="#e3202c"/><stop offset="0.9199" stop-color="#e4222c"/><stop offset="0.9282" stop-color="#e5262c"/><stop offset="0.9366" stop-color="#e62a2d"/><stop offset="0.9449" stop-color="#e82e2d"/><stop offset="0.9533" stop-color="#e9322d"/><stop offset="0.9617" stop-color="#ea362d"/><stop offset="0.9700" stop-color="#ec3a2e"/><stop offset="0.9784" stop-color="#ed3e2e"/><stop offset="0.9868" stop-color="#ee432e"/><stop offset="0.9951" stop-color="#ef492d"/><stop offset="1.0000" stop-color="#ef4c2d"/></linearGradient><linearGradient id="t11" gradientUnits="userSpaceOnUse" x1="100.9" x2="818.4" y1="0" y2="0"><stop offset="0.0000" stop-color="#dedede"/><stop offset="0.0960" stop-color="#dedede"/><stop offset="0.0971" stop-color="#e3e3e3"/><stop offset="0.1986" stop-color="#e3e3e3"/><stop offset="0.1997" stop-color="#f2f2f2"/><stop offset="0.2174" stop-color="#f2f2f2"/><stop offset="0.2258" stop-color="#f5f5f5"/><stop offset="0.2341" stop-color="#fcfcfc"/><stop offset="0.2425" stop-color="#f7f9e1"/><stop offset="0.2509" stop-color="#f5f7d9"/><stop offset="0.2592" stop-color="#f3f6d0"/><stop offset="0.2676" stop-color="#f1f4c7"/><stop offset="0.2760" stop-color="#edf0b0"/><stop offset="0.2843" stop-color="#e9ec99"/><stop offset="0.2927" stop-color="#e5e983"/><stop offset="0.3006" stop-color="#e3e771"/><stop offset="0.3010" stop-color="#e3e770"/><stop offset="0.3017" stop-color="#e0e241"/><stop offset="0.3094" stop-color="#e7e337"/><stop offset="0.3178" stop-color="#eee52c"/><stop offset="0.3261" stop-color="#f4e126"/><stop offset="0.3345" stop-color="#f8db22"/><stop offset="0.3429" stop-color="#f8cb22"/><stop offset="0.3512" stop-color="#f8bd22"/><stop offset="0.3596" stop-color="#f7af23"/><stop offset="0.3679" stop-color="#f6a123"/><stop offset="0.3763" stop-color="#f59825"/><stop offset="0.3847" stop-color="#f48e26"/><stop offset="0.3930" stop-color="#f38528"/><stop offset="0.4014" stop-color="#f27a29"/><stop offset="0.4036" stop-color="#f2772a"/><stop offset="0.4047" stop-color="#ec3b2e"/><stop offset="0.4098" stop-color="#eb392d"/><stop offset="0.4181" stop-color="#ea372d"/><stop offset="0.4265" stop-color="#e9342d"/><stop offset="0.4348" stop-color="#e8312d"/><stop offset="0.4432" stop-color="#e82e2d"/><stop offset="0.4516" stop-color="#e72b2d"/><stop offset="0.4599" stop-color="#e6292d"/><stop offset="0.4683" stop-color="#e5262c"/><stop offset="0.4767" stop-color="#e4232c"/><stop offset="0.4850" stop-color="#e3202c"/><stop offset="0.4934" stop-color="#e01f2b"/><stop offset="0.5017" stop-color="#dc1e2a"/><stop offset="0.5056" stop-color="#da1e2a"/><stop offset="0.5068" stop-color="#900e16"/><stop offset="0.5101" stop-color="#900d16"/><stop offset="0.5185" stop-color="#8f0d16"/><stop offset="0.5268" stop-color="#8e0d16"/><stop offset="0.5352" stop-color="#8d0d15"/><stop offset="0.5436" stop-color="#8c0d15"/><stop offset="0.5519" stop-color="#8b0c15"/><stop offset="0.5603" stop-color="#8a0c15"/><stop offset="0.5686" stop-color="#890c14"/><stop offset="0.5770" stop-color="#880c14"/><stop offset="0.5854" stop-color="#870b14"/><stop offset="0.5937" stop-color="#860b14"/><stop offset="0.6021" stop-color="#850b13"/><stop offset="0.6077" stop-color="#840b13"/><stop offset="0.6088" stop-color="#4b060a"/><stop offset="0.8127" stop-color="#4b060a"/><stop offset="0.8138" stop-color="#780810"/><stop offset="0.8195" stop-color="#7c0911"/><stop offset="0.8279" stop-color="#810a12"/><stop offset="0.8362" stop-color="#860b14"/><stop offset="0.8446" stop-color="#8b0c15"/><stop offset="0.8530" stop-color="#900d16"/><stop offset="0.8613" stop-color="#950f18"/><stop offset="0.8697" stop-color="#9a1019"/><stop offset="0.8780" stop-color="#9f111a"/><stop offset="0.8864" stop-color="#a4121b"/><stop offset="0.8948" stop-color="#a9131d"/><stop offset="0.9031" stop-color="#ae141e"/><stop offset="0.9115" stop-color="#b3151f"/><stop offset="0.9147" stop-color="#b51620"/><stop offset="0.9158" stop-color="#e3202c"/><stop offset="0.9199" stop-color="#e4222c"/><stop offset="0.9282" stop-color="#e5262c"/><stop offset="0.9366" stop-color="#e62a2d"/><stop offset="0.9449" stop-color="#e82e2d"/><stop offset="0.9533" stop-color="#e9322d"/><stop offset="0.9617" stop-color="#ea362d"/><stop offset="0.9700" stop-color="#ec3a2e"/><stop offset="0.9784" stop-color="#ed3e2e"/><stop offset="0.9868" stop-color="#ee432e"/><stop offset="0.9951" stop-color="#ef492d"/><stop offset="1.0000" stop-color="#ef4c2d"/></linearGradient><linearGradient id="t12" gradientUnits="userSpaceOnUse" x1="100.9" x2="818.4" y1="0" y2="0"><stop offset="0.0000" stop-color="#e8e8e8"/><stop offset="0.0960" stop-color="#e8e8e8"/><stop offset="0.0971" stop-color="#f2f2f2"/><stop offset="0.1986" stop-color="#f2f2f2"/><stop offset="0.1997" stop-color="#f8f8f8"/><stop offset="0.2091" stop-color="#f8f8f8"/><stop offset="0.2174" stop-color="#fcfcfc"/><stop offset="0.2258" stop-color="#f8f9e3"/><stop offset="0.2341" stop-color="#f7f9e0"/><stop offset="0.2425" stop-color="#f6f8dd"/><stop offset="0.2509" stop-color="#f6f8da"/><stop offset="0.2592" stop-color="#f5f7d7"/><stop offset="0.2676" stop-color="#f4f6d4"/><stop offset="0.2760" stop-color="#f3f6d1"/><stop offset="0.2843" stop-color="#f3f5ce"/><stop offset="0.2927" stop-color="#f2f5cb"/><stop offset="0.3006" stop-color="#f1f4c8"/><stop offset="0.3010" stop-color="#f1f4c8"/><stop offset="0.3017" stop-color="#ebefa7"/><stop offset="0.3094" stop-color="#e6ea8d"/><stop offset="0.3178" stop-color="#e3e774"/><stop offset="0.3261" stop-color="#e0e45b"/><stop offset="0.3345" stop-color="#dee144"/><stop offset="0.3429" stop-color="#e5e339"/><stop offset="0.3512" stop-color="#eee52d"/><stop offset="0.3596" stop-color="#f4e026"/><stop offset="0.3679" stop-color="#f8da22"/><stop offset="0.3763" stop-color="#f8d022"/><stop offset="0.3847" stop-color="#f8c622"/><stop offset="0.3930" stop-color="#f8bc22"/><stop offset="0.4014" stop-color="#f7b422"/><stop offset="0.4036" stop-color="#f7b222"/><stop offset="0.4047" stop-color="#f2762a"/><stop offset="0.4098" stop-color="#f2732a"/><stop offset="0.4181" stop-color="#f16d2b"/><stop offset="0.4265" stop-color="#f1682b"/><stop offset="0.4348" stop-color="#f1632b"/><stop offset="0.4432" stop-color="#f05e2c"/><stop offset="0.4516" stop-color="#f0592c"/><stop offset="0.4599" stop-color="#ef542d"/><stop offset="0.4683" stop-color="#ef4f2d"/><stop offset="0.4767" stop-color="#ef4a2d"/><stop offset="0.4850" stop-color="#ee452e"/><stop offset="0.4934" stop-color="#ed402e"/><stop offset="0.5017" stop-color="#ec3d2e"/><stop offset="0.5056" stop-color="#ec3b2e"/><stop offset="0.5068" stop-color="#d11c27"/><stop offset="0.5101" stop-color="#d01c27"/><stop offset="0.5185" stop-color="#cf1c27"/><stop offset="0.5268" stop-color="#ce1b26"/><stop offset="0.5352" stop-color="#cd1b26"/><stop offset="0.5436" stop-color="#cc1b26"/><stop offset="0.5519" stop-color="#ca1b26"/><stop offset="0.5603" stop-color="#c91a25"/><stop offset="0.5686" stop-color="#c81a25"/><stop offset="0.5770" stop-color="#c71a25"/><stop offset="0.5854" stop-color="#c61a24"/><stop offset="0.5937" stop-color="#c51924"/><stop offset="0.6021" stop-color="#c41924"/><stop offset="0.6077" stop-color="#c31924"/><stop offset="0.6088" stop-color="#be1822"/><stop offset="0.7097" stop-color="#be1822"/><stop offset="0.7108" stop-color="#900e16"/><stop offset="0.8127" stop-color="#900e16"/><stop offset="0.8138" stop-color="#b51620"/><stop offset="0.8195" stop-color="#b71620"/><stop offset="0.8279" stop-color="#b91721"/><stop offset="0.8362" stop-color="#bb1722"/><stop offset="0.8446" stop-color="#bd1822"/><stop offset="0.8530" stop-color="#c01823"/><stop offset="0.8613" stop-color="#c21923"/><stop offset="0.8697" stop-color="#c41924"/><stop offset="0.8780" stop-color="#c71a25"/><stop offset="0.8864" stop-color="#c91a25"/><stop offset="0.8948" stop-color="#cb1b26"/><stop offset="0.9031" stop-color="#cd1b26"/><stop offset="0.9115" stop-color="#d01c27"/><stop offset="0.9147" stop-color="#d01c27"/><stop offset="0.9158" stop-color="#e5272c"/><stop offset="0.9199" stop-color="#e6292d"/><stop offset="0.9282" stop-color="#e72c2d"/><stop offset="0.9366" stop-color="#e82f2d"/><stop offset="0.9449" stop-color="#e9332d"/><stop offset="0.9533" stop-color="#ea362d"/><stop offset="0.9617" stop-color="#eb392d"/><stop offset="0.9700" stop-color="#ec3d2e"/><stop offset="0.9784" stop-color="#ed402e"/><stop offset="0.9868" stop-color="#ee442e"/><stop offset="0.9951" stop-color="#ef492d"/><stop offset="1.0000" stop-color="#ef4c2d"/></linearGradient><linearGradient id="t13" gradientUnits="userSpaceOnUse" x1="100.9" x2="818.4" y1="0" y2="0"><stop offset="0.0000" stop-color="#f6f6f6"/><stop offset="0.0960" stop-color="#f6f6f6"/><stop offset="0.0971" stop-color="#fbfbfb"/><stop offset="0.1986" stop-color="#fbfbfb"/><stop offset="0.1997" stop-color="#ffffff"/><stop offset="0.2007" stop-color="#ffffff"/><stop offset="0.2091" stop-color="#fefefc"/><stop offset="0.2174" stop-color="#fefefa"/><stop offset="0.2258" stop-color="#fdfef8"/><stop offset="0.2341" stop-color="#fdfdf6"/><stop offset="0.2425" stop-color="#fcfdf3"/><stop offset="0.2509" stop-color="#fbfcf1"/><stop offset="0.2592" stop-color="#fbfcef"/><stop offset="0.2676" stop-color="#fafbed"/><stop offset="0.2760" stop-color="#fafbea"/><stop offset="0.2843" stop-color="#f9fae8"/><stop offset="0.2927" stop-color="#f9fae6"/><stop offset="0.3006" stop-color="#f8fae4"/><stop offset="0.3010" stop-color="#f8fae4"/><stop offset="0.3017" stop-color="#f4f6d2"/><stop offset="0.3094" stop-color="#f1f4c7"/><stop offset="0.3178" stop-color="#eff2ba"/><stop offset="0.3261" stop-color="#ecf0ad"/><stop offset="0.3345" stop-color="#eaed9f"/><stop offset="0.3429" stop-color="#e7eb92"/><stop offset="0.3512" stop-color="#e5e984"/><stop offset="0.3596" stop-color="#e3e774"/><stop offset="0.3679" stop-color="#e1e564"/><stop offset="0.3763" stop-color="#dfe355"/><stop offset="0.3847" stop-color="#dde145"/><stop offset="0.3930" stop-color="#e0e240"/><stop offset="0.4014" stop-color="#e4e23b"/><stop offset="0.4036" stop-color="#e5e33a"/><stop offset="0.4047" stop-color="#f6aa23"/><stop offset="0.4098" stop-color="#f6a623"/><stop offset="0.4181" stop-color="#f6a123"/><stop offset="0.4265" stop-color="#f69e24"/><stop offset="0.4348" stop-color="#f59a24"/><stop offset="0.4432" stop-color="#f59625"/><stop offset="0.4516" stop-color="#f59326"/><stop offset="0.4599" stop-color="#f48f26"/><stop offset="0.4683" stop-color="#f48b27"/><stop offset="0.4767" stop-color="#f48827"/><stop offset="0.4850" stop-color="#f38428"/><stop offset="0.4934" stop-color="#f38028"/><stop offset="0.5017" stop-color="#f37c29"/><stop offset="0.5056" stop-color="#f27b29"/><stop offset="0.5068" stop-color="#ec3b2e"/><stop offset="0.5101" stop-color="#ec3a2e"/><stop offset="0.5185" stop-color="#eb392d"/><stop offset="0.5268" stop-color="#ea372d"/><stop offset="0.5352" stop-color="#ea352d"/><stop offset="0.5436" stop-color="#e9342d"/><stop offset="0.5519" stop-color="#e9322d"/><stop offset="0.5603" stop-color="#e8302d"/><stop offset="0.5686" stop-color="#e82f2d"/><stop offset="0.5770" stop-color="#e72d2d"/><stop offset="0.5854" stop-color="#e72b2d"/><stop offset="0.5937" stop-color="#e62a2d"/><stop offset="0.6021" stop-color="#e6282c"/><stop offset="0.6077" stop-color="#e5272c"/><stop offset="0.6088" stop-color="#de1f2b"/><stop offset="0.7097" stop-color="#de1f2b"/><stop offset="0.7108" stop-color="#b51620"/><stop offset="0.8127" stop-color="#b51620"/><stop offset="0.8138" stop-color="#c31924"/><stop offset="0.8195" stop-color="#c41924"/><stop offset="0.8279" stop-color="#c71a25"/><stop offset="0.8362" stop-color="#c91a25"/><stop offset="0.8446" stop-color="#cb1b26"/><stop offset="0.8530" stop-color="#ce1b26"/><stop offset="0.8613" stop-color="#d01c27"/><stop offset="0.8697" stop-color="#d21c28"/><stop offset="0.8780" stop-color="#d41d28"/><stop offset="0.8864" stop-color="#d71d29"/><stop offset="0.8948" stop-color="#d91e29"/><stop offset="0.9031" stop-color="#db1e2a"/><stop offset="0.9115" stop-color="#dd1f2b"/><stop offset="0.9147" stop-color="#de1f2b"/><stop offset="0.9158" stop-color="#e9312d"/><stop offset="0.9199" stop-color="#e9332d"/><stop offset="0.9282" stop-color="#ea372d"/><stop offset="0.9366" stop-color="#ec3a2e"/><stop offset="0.9449" stop-color="#ed3e2e"/><stop offset="0.9533" stop-color="#ee422e"/><stop offset="0.9617" stop-color="#ee472e"/><stop offset="0.9700" stop-color="#ef4d2d"/><stop offset="0.9784" stop-color="#ef532d"/><stop offset="0.9868" stop-color="#f0582c"/><stop offset="0.9951" stop-color="#f05e2c"/><stop offset="1.0000" stop-color="#f0612c"/></linearGradient><linearGradient id="t14" gradientUnits="userSpaceOnUse" x1="100.9" x2="818.4" y1="0" y2="0"><stop offset="0.0000" stop-color="#f8fae4"/><stop offset="0.0960" stop-color="#f8fae4"/><stop offset="0.0971" stop-color="#fbfcee"/><stop offset="0.1986" stop-color="#fbfcee"/><stop offset="0.1997" stop-color="#f4f6d3"/><stop offset="0.3017" stop-color="#f4f6d3"/><stop offset="0.3094" stop-color="#f3f6d1"/><stop offset="0.3178" stop-color="#f3f5cf"/><stop offset="0.3261" stop-color="#f2f5ce"/><stop offset="0.3345" stop-color="#f2f5cc"/><stop offset="0.3429" stop-color="#f2f4ca"/><stop offset="0.3512" stop-color="#f1f4c8"/><stop offset="0.3596" stop-color="#f1f4c6"/><stop offset="0.3679" stop-color="#f0f3c4"/><stop offset="0.3763" stop-color="#f0f3c2"/><stop offset="0.3847" stop-color="#f0f3c0"/><stop offset="0.3930" stop-color="#eff2be"/><stop offset="0.4014" stop-color="#eff2bc"/><stop offset="0.4036" stop-color="#eff2bc"/><stop offset="0.4047" stop-color="#edf1b3"/><stop offset="0.4098" stop-color="#e9ed9e"/><stop offset="0.4181" stop-color="#e4e87c"/><stop offset="0.4265" stop-color="#e0e45e"/><stop offset="0.4348" stop-color="#dee143"/><stop offset="0.4432" stop-color="#e2e23e"/><stop offset="0.4516" stop-color="#e5e339"/><stop offset="0.4599" stop-color="#e9e334"/><stop offset="0.4683" stop-color="#ece430"/><stop offset="0.4767" stop-color="#efe52b"/><stop offset="0.4850" stop-color="#f2e328"/><stop offset="0.4934" stop-color="#f4e126"/><stop offset="0.5017" stop-color="#f6df24"/><stop offset="0.5056" stop-color="#f7de23"/><stop offset="0.5068" stop-color="#f8d722"/><stop offset="0.5101" stop-color="#f8d422"/><stop offset="0.5185" stop-color="#f8cd22"/><stop offset="0.5268" stop-color="#f8c522"/><stop offset="0.5352" stop-color="#f8be22"/><stop offset="0.5436" stop-color="#f8b822"/><stop offset="0.5519" stop-color="#f7b222"/><stop offset="0.5603" stop-color="#f7ab23"/><stop offset="0.5686" stop-color="#f6a523"/><stop offset="0.5770" stop-color="#f6a023"/><stop offset="0.5854" stop-color="#f59c24"/><stop offset="0.5937" stop-color="#f59825"/><stop offset="0.6021" stop-color="#f59425"/><stop offset="0.6077" stop-color="#f49126"/><stop offset="0.6088" stop-color="#f0612c"/><stop offset="0.7097" stop-color="#f0612c"/><stop offset="0.7108" stop-color="#ef4c2d"/><stop offset="0.8127" stop-color="#ef4c2d"/><stop offset="0.8138" stop-color="#ef4d2d"/><stop offset="0.8195" stop-color="#ef4e2d"/><stop offset="0.8279" stop-color="#ef4f2d"/><stop offset="0.8362" stop-color="#ef512d"/><stop offset="0.8446" stop-color="#ef532d"/><stop offset="0.8530" stop-color="#ef542d"/><stop offset="0.8613" stop-color="#f0562c"/><stop offset="0.8697" stop-color="#f0582c"/><stop offset="0.8780" stop-color="#f05a2c"/><stop offset="0.8864" stop-color="#f05b2c"/><stop offset="0.8948" stop-color="#f05d2c"/><stop offset="0.9031" stop-color="#f05f2c"/><stop offset="0.9115" stop-color="#f0602c"/><stop offset="0.9147" stop-color="#f0612c"/><stop offset="0.9158" stop-color="#f37f29"/><stop offset="0.9199" stop-color="#f38128"/><stop offset="0.9282" stop-color="#f38428"/><stop offset="0.9366" stop-color="#f48827"/><stop offset="0.9449" stop-color="#f48c27"/><stop offset="0.9533" stop-color="#f48f26"/><stop offset="0.9617" stop-color="#f59326"/><stop offset="0.9700" stop-color="#f59625"/><stop offset="0.9784" stop-color="#f59a24"/><stop offset="0.9868" stop-color="#f69d24"/><stop offset="0.9951" stop-color="#f6a123"/><stop offset="1.0000" stop-color="#f6a323"/></linearGradient></defs>
<g shape-rendering="crispEdges"><rect x="100.9" y="824.50" width="717.5" height="5.98" fill="url(#g0)"/>
<rect x="100.9" y="829.48" width="717.5" height="5.98" fill="url(#g1)"/>
<rect x="100.9" y="834.46" width="717.5" height="5.98" fill="url(#g2)"/>
<rect x="100.9" y="839.45" width="717.5" height="5.98" fill="url(#g3)"/>
<rect x="100.9" y="844.43" width="717.5" height="5.98" fill="url(#g4)"/>
<rect x="100.9" y="849.41" width="717.5" height="5.98" fill="url(#g5)"/>
<rect x="100.9" y="854.39" width="717.5" height="5.98" fill="url(#g6)"/>
<rect x="100.9" y="859.37" width="717.5" height="5.98" fill="url(#g7)"/>
<rect x="100.9" y="864.35" width="717.5" height="5.98" fill="url(#g8)"/>
<rect x="100.9" y="869.34" width="717.5" height="5.98" fill="url(#g9)"/>
<rect x="100.9" y="874.32" width="717.5" height="5.98" fill="url(#g10)"/>
<rect x="100.9" y="879.30" width="717.5" height="5.98" fill="url(#g11)"/>
<rect x="100.9" y="884.28" width="717.5" height="5.98" fill="url(#g12)"/>
<rect x="100.9" y="889.26" width="717.5" height="5.98" fill="url(#g13)"/>
<rect x="100.9" y="894.24" width="717.5" height="5.98" fill="url(#g14)"/>
<rect x="100.9" y="899.23" width="717.5" height="5.98" fill="url(#g15)"/>
<rect x="100.9" y="904.21" width="717.5" height="5.98" fill="url(#g16)"/>
<rect x="100.9" y="909.19" width="717.5" height="5.98" fill="url(#g17)"/>
<rect x="100.9" y="914.17" width="717.5" height="5.98" fill="url(#g18)"/>
<rect x="100.9" y="919.15" width="717.5" height="5.98" fill="url(#g19)"/>
<rect x="100.9" y="924.13" width="717.5" height="5.98" fill="url(#g20)"/>
<rect x="100.9" y="929.12" width="717.5" height="5.98" fill="url(#g21)"/>
<rect x="100.9" y="934.10" width="717.5" height="5.98" fill="url(#g22)"/>
<rect x="100.9" y="939.08" width="717.5" height="5.98" fill="url(#g23)"/>
<rect x="100.9" y="944.06" width="717.5" height="5.98" fill="url(#g24)"/>
<rect x="100.9" y="949.04" width="717.5" height="5.98" fill="url(#g25)"/>
<rect x="100.9" y="954.02" width="717.5" height="5.98" fill="url(#g26)"/>
<rect x="100.9" y="959.01" width="717.5" height="5.98" fill="url(#g27)"/>
<rect x="100.9" y="963.99" width="717.5" height="5.98" fill="url(#g28)"/>
<rect x="100.9" y="968.97" width="717.5" height="5.98" fill="url(#g29)"/>
<rect x="100.9" y="973.95" width="717.5" height="5.98" fill="url(#g30)"/>
<rect x="100.9" y="978.93" width="717.5" height="5.98" fill="url(#g31)"/>
<rect x="100.9" y="983.91" width="717.5" height="5.98" fill="url(#g32)"/>
<rect x="100.9" y="988.90" width="717.5" height="5.98" fill="url(#g33)"/>
<rect x="100.9" y="993.88" width="717.5" height="5.98" fill="url(#g34)"/>
<rect x="100.9" y="998.86" width="717.5" height="5.98" fill="url(#g35)"/>
<rect x="100.9" y="1003.84" width="717.5" height="5.98" fill="url(#g36)"/>
<rect x="100.9" y="1008.82" width="717.5" height="5.98" fill="url(#g37)"/>
<rect x="100.9" y="1013.80" width="717.5" height="5.98" fill="url(#g38)"/>
<rect x="100.9" y="1018.79" width="717.5" height="5.98" fill="url(#g39)"/>
<rect x="100.9" y="1023.77" width="717.5" height="5.98" fill="url(#g40)"/>
<rect x="100.9" y="1028.75" width="717.5" height="5.98" fill="url(#g41)"/>
<rect x="100.9" y="1033.73" width="717.5" height="5.98" fill="url(#g42)"/>
<rect x="100.9" y="1038.71" width="717.5" height="5.98" fill="url(#g43)"/>
<rect x="100.9" y="1043.69" width="717.5" height="5.98" fill="url(#g44)"/>
<rect x="100.9" y="1048.68" width="717.5" height="5.98" fill="url(#g45)"/>
<rect x="100.9" y="1053.66" width="717.5" height="5.98" fill="url(#g46)"/>
<rect x="100.9" y="1058.64" width="717.5" height="5.98" fill="url(#g47)"/>
<rect x="100.9" y="1063.62" width="717.5" height="5.98" fill="url(#g48)"/>
<rect x="100.9" y="1068.60" width="717.5" height="5.98" fill="url(#g49)"/>
<rect x="100.9" y="1073.58" width="717.5" height="5.98" fill="url(#g50)"/>
<rect x="100.9" y="1078.56" width="717.5" height="5.98" fill="url(#g51)"/>
<rect x="100.9" y="1083.55" width="717.5" height="5.98" fill="url(#g52)"/>
<rect x="100.9" y="1088.53" width="717.5" height="5.98" fill="url(#g53)"/>
<rect x="100.9" y="1093.51" width="717.5" height="5.98" fill="url(#g54)"/>
<rect x="100.9" y="1098.49" width="717.5" height="5.98" fill="url(#g55)"/>
<rect x="100.9" y="1103.47" width="717.5" height="5.98" fill="url(#g56)"/>
<rect x="100.9" y="1108.45" width="717.5" height="5.98" fill="url(#g57)"/>
<rect x="100.9" y="1113.44" width="717.5" height="5.98" fill="url(#g58)"/>
<rect x="100.9" y="1118.42" width="717.5" height="5.98" fill="url(#g59)"/>
<rect x="100.9" y="1123.40" width="717.5" height="5.98" fill="url(#g60)"/>
<rect x="100.9" y="1128.38" width="717.5" height="5.98" fill="url(#g61)"/>
<rect x="100.9" y="1133.36" width="717.5" height="5.98" fill="url(#g62)"/>
<rect x="100.9" y="1138.34" width="717.5" height="5.98" fill="url(#g63)"/>
<rect x="100.9" y="1143.33" width="717.5" height="5.98" fill="url(#g64)"/>
<rect x="100.9" y="1148.31" width="717.5" height="5.98" fill="url(#g65)"/>
<rect x="100.9" y="1153.29" width="717.5" height="5.98" fill="url(#g66)"/>
<rect x="100.9" y="1158.27" width="717.5" height="5.98" fill="url(#g67)"/>
<rect x="100.9" y="1163.25" width="717.5" height="5.98" fill="url(#g68)"/>
<rect x="100.9" y="1168.23" width="717.5" height="5.98" fill="url(#g69)"/>
<rect x="100.9" y="1173.22" width="717.5" height="5.98" fill="url(#g70)"/>
<rect x="100.9" y="1178.20" width="717.5" height="5.98" fill="url(#g71)"/>
<rect x="100.9" y="1183.18" width="717.5" height="5.98" fill="url(#g72)"/>
<rect x="100.9" y="1188.16" width="717.5" height="5.98" fill="url(#g73)"/>
<rect x="100.9" y="1193.14" width="717.5" height="5.98" fill="url(#g74)"/>
<rect x="100.9" y="1198.12" width="717.5" height="5.98" fill="url(#g75)"/>
<rect x="100.9" y="1203.11" width="717.5" height="5.98" fill="url(#g76)"/>
<rect x="100.9" y="1208.09" width="717.5" height="5.98" fill="url(#g77)"/>
<rect x="100.9" y="1213.07" width="717.5" height="5.98" fill="url(#g78)"/>
<rect x="100.9" y="1218.05" width="717.5" height="5.98" fill="url(#g79)"/>
<rect x="100.9" y="1223.03" width="717.5" height="5.98" fill="url(#g80)"/>
<rect x="100.9" y="1228.01" width="717.5" height="5.98" fill="url(#g81)"/>
<rect x="100.9" y="1233.00" width="717.5" height="5.98" fill="url(#g82)"/>
<rect x="100.9" y="1237.98" width="717.5" height="5.98" fill="url(#g83)"/>
<rect x="100.9" y="676.70" width="717.5" height="13.10" fill="url(#t0)"/>
<rect x="100.9" y="689.20" width="717.5" height="10.20" fill="url(#t1)"/>
<rect x="100.9" y="698.80" width="717.5" height="9.30" fill="url(#t2)"/>
<rect x="100.9" y="707.50" width="717.5" height="10.10" fill="url(#t3)"/>
<rect x="100.9" y="717.00" width="717.5" height="9.30" fill="url(#t4)"/>
<rect x="100.9" y="725.70" width="717.5" height="9.20" fill="url(#t5)"/>
<rect x="100.9" y="734.30" width="717.5" height="9.30" fill="url(#t6)"/>
<rect x="100.9" y="743.00" width="717.5" height="9.60" fill="url(#t7)"/>
<rect x="100.9" y="752.00" width="717.5" height="9.60" fill="url(#t8)"/>
<rect x="100.9" y="761.00" width="717.5" height="18.60" fill="url(#t9)"/>
<rect x="100.9" y="779.00" width="717.5" height="9.60" fill="url(#t10)"/>
<rect x="100.9" y="788.00" width="717.5" height="9.60" fill="url(#t11)"/>
<rect x="100.9" y="797.00" width="717.5" height="8.60" fill="url(#t12)"/>
<rect x="100.9" y="805.00" width="717.5" height="9.60" fill="url(#t13)"/>
<rect x="100.9" y="814.00" width="717.5" height="10.80" fill="url(#t14)"/></g>
<line x1="131.7" y1="667.6" x2="131.7" y2="676.6" stroke="#58595b" stroke-width="1.2"/>
<line x1="131.7" y1="1274.4" x2="131.7" y2="1283.4" stroke="#58595b" stroke-width="1.2"/>
<line x1="207.9" y1="667.6" x2="207.9" y2="676.6" stroke="#58595b" stroke-width="1.2"/>
<line x1="207.9" y1="1274.4" x2="207.9" y2="1283.4" stroke="#58595b" stroke-width="1.2"/>
<line x1="284.2" y1="667.6" x2="284.2" y2="676.6" stroke="#58595b" stroke-width="1.2"/>
<line x1="284.2" y1="1274.4" x2="284.2" y2="1283.4" stroke="#58595b" stroke-width="1.2"/>
<line x1="360.4" y1="667.6" x2="360.4" y2="676.6" stroke="#58595b" stroke-width="1.2"/>
<line x1="360.4" y1="1274.4" x2="360.4" y2="1283.4" stroke="#58595b" stroke-width="1.2"/>
<line x1="436.7" y1="667.6" x2="436.7" y2="676.6" stroke="#58595b" stroke-width="1.2"/>
<line x1="436.7" y1="1274.4" x2="436.7" y2="1283.4" stroke="#58595b" stroke-width="1.2"/>
<line x1="512.9" y1="667.6" x2="512.9" y2="676.6" stroke="#58595b" stroke-width="1.2"/>
<line x1="512.9" y1="1274.4" x2="512.9" y2="1283.4" stroke="#58595b" stroke-width="1.2"/>
<line x1="589.1" y1="667.6" x2="589.1" y2="676.6" stroke="#58595b" stroke-width="1.2"/>
<line x1="589.1" y1="1274.4" x2="589.1" y2="1283.4" stroke="#58595b" stroke-width="1.2"/>
<line x1="665.4" y1="667.6" x2="665.4" y2="676.6" stroke="#58595b" stroke-width="1.2"/>
<line x1="665.4" y1="1274.4" x2="665.4" y2="1283.4" stroke="#58595b" stroke-width="1.2"/>
<line x1="741.6" y1="667.6" x2="741.6" y2="676.6" stroke="#58595b" stroke-width="1.2"/>
<line x1="741.6" y1="1274.4" x2="741.6" y2="1283.4" stroke="#58595b" stroke-width="1.2"/>
<line x1="817.9" y1="667.6" x2="817.9" y2="676.6" stroke="#58595b" stroke-width="1.2"/>
<line x1="817.9" y1="1274.4" x2="817.9" y2="1283.4" stroke="#58595b" stroke-width="1.2"/>
<line x1="90.9" y1="1274.4" x2="100.9" y2="1274.4" stroke="#58595b" stroke-width="1.2"/>
<line x1="818.4" y1="1274.4" x2="828.4" y2="1274.4" stroke="#58595b" stroke-width="1.2"/>
<line x1="90.9" y1="1125.0" x2="100.9" y2="1125.0" stroke="#58595b" stroke-width="1.2"/>
<line x1="818.4" y1="1125.0" x2="828.4" y2="1125.0" stroke="#58595b" stroke-width="1.2"/>
<line x1="90.9" y1="975.5" x2="100.9" y2="975.5" stroke="#58595b" stroke-width="1.2"/>
<line x1="818.4" y1="975.5" x2="828.4" y2="975.5" stroke="#58595b" stroke-width="1.2"/>
<line x1="90.9" y1="826.0" x2="100.9" y2="826.0" stroke="#58595b" stroke-width="1.2"/>
<line x1="818.4" y1="826.0" x2="828.4" y2="826.0" stroke="#58595b" stroke-width="1.2"/>
<line x1="90.9" y1="676.6" x2="100.9" y2="676.6" stroke="#58595b" stroke-width="1.2"/>
<line x1="818.4" y1="676.6" x2="828.4" y2="676.6" stroke="#58595b" stroke-width="1.2"/>
<rect x="100.9" y="676.6" width="717.5" height="597.8" fill="none" stroke="#58595b" stroke-width="1.3"/>
<line x1="100.4" y1="826" x2="818.4" y2="826" stroke="#231f20" stroke-width="2.8" stroke-dasharray="16.3 16.74"/>
<line x1="360.1" y1="780.8" x2="589.5" y2="826.3" stroke="#fff" stroke-width="5.2" stroke-dasharray="25.7 11"/>
<line x1="549.9" y1="825.8" x2="629.1" y2="975.3" stroke="#fff" stroke-width="5.2" stroke-dasharray="28.2 10.4"/>
<circle cx="455.4" cy="694.4" r="2.9" fill="#6fc7c7" stroke="#1f5558" stroke-width="0.7"/>
<circle cx="509.7" cy="693.6" r="2.9" fill="#6fc7c7" stroke="#1f5558" stroke-width="0.7"/>
<circle cx="458.8" cy="706.4" r="2.9" fill="#6fc7c7" stroke="#1f5558" stroke-width="0.7"/>
<circle cx="458.3" cy="721.2" r="2.9" fill="#6fc7c7" stroke="#1f5558" stroke-width="0.7"/>
<circle cx="448.5" cy="727.4" r="2.9" fill="#6fc7c7" stroke="#1f5558" stroke-width="0.7"/>
<circle cx="448.5" cy="736.5" r="2.9" fill="#6fc7c7" stroke="#1f5558" stroke-width="0.7"/>
<circle cx="443.5" cy="742.3" r="2.9" fill="#6fc7c7" stroke="#1f5558" stroke-width="0.7"/>
<circle cx="453.8" cy="741.5" r="2.9" fill="#6fc7c7" stroke="#1f5558" stroke-width="0.7"/>
<circle cx="448.5" cy="745.9" r="2.9" fill="#6fc7c7" stroke="#1f5558" stroke-width="0.7"/>
<circle cx="458.3" cy="747.9" r="2.9" fill="#6fc7c7" stroke="#1f5558" stroke-width="0.7"/>
<circle cx="455.5" cy="750.5" r="2.9" fill="#6fc7c7" stroke="#1f5558" stroke-width="0.7"/>
<circle cx="458.3" cy="754.4" r="2.9" fill="#6fc7c7" stroke="#1f5558" stroke-width="0.7"/>
<circle cx="466.4" cy="752.7" r="2.9" fill="#6fc7c7" stroke="#1f5558" stroke-width="0.7"/>
<circle cx="469.9" cy="759.1" r="2.9" fill="#6fc7c7" stroke="#1f5558" stroke-width="0.7"/>
<circle cx="475.0" cy="756.0" r="2.9" fill="#6fc7c7" stroke="#1f5558" stroke-width="0.7"/>
<circle cx="475.0" cy="759.9" r="2.9" fill="#6fc7c7" stroke="#1f5558" stroke-width="0.7"/>
<circle cx="479.7" cy="747.9" r="2.9" fill="#6fc7c7" stroke="#1f5558" stroke-width="0.7"/>
<circle cx="479.7" cy="758.3" r="2.9" fill="#6fc7c7" stroke="#1f5558" stroke-width="0.7"/>
<circle cx="483.3" cy="735.2" r="2.9" fill="#6fc7c7" stroke="#1f5558" stroke-width="0.7"/>
<circle cx="484.1" cy="740.1" r="2.9" fill="#6fc7c7" stroke="#1f5558" stroke-width="0.7"/>
<circle cx="484.1" cy="748.2" r="2.9" fill="#6fc7c7" stroke="#1f5558" stroke-width="0.7"/>
<circle cx="487.8" cy="749.0" r="2.9" fill="#6fc7c7" stroke="#1f5558" stroke-width="0.7"/>
<circle cx="484.4" cy="753.7" r="2.9" fill="#6fc7c7" stroke="#1f5558" stroke-width="0.7"/>
<circle cx="487.8" cy="754.4" r="2.9" fill="#6fc7c7" stroke="#1f5558" stroke-width="0.7"/>
<circle cx="485.2" cy="759.6" r="2.9" fill="#6fc7c7" stroke="#1f5558" stroke-width="0.7"/>
<circle cx="484.4" cy="763.0" r="2.9" fill="#6fc7c7" stroke="#1f5558" stroke-width="0.7"/>
<circle cx="486.7" cy="766.1" r="2.9" fill="#6fc7c7" stroke="#1f5558" stroke-width="0.7"/>
<circle cx="488.3" cy="766.9" r="2.9" fill="#6fc7c7" stroke="#1f5558" stroke-width="0.7"/>
<circle cx="486.2" cy="771.6" r="2.9" fill="#6fc7c7" stroke="#1f5558" stroke-width="0.7"/>
<circle cx="487.8" cy="714.2" r="2.9" fill="#6fc7c7" stroke="#1f5558" stroke-width="0.7"/>
<circle cx="486.4" cy="724.0" r="2.9" fill="#6fc7c7" stroke="#1f5558" stroke-width="0.7"/>
<circle cx="493.4" cy="726.7" r="2.9" fill="#6fc7c7" stroke="#1f5558" stroke-width="0.7"/>
<circle cx="502.0" cy="714.2" r="2.9" fill="#6fc7c7" stroke="#1f5558" stroke-width="0.7"/>
<circle cx="502.0" cy="718.1" r="2.9" fill="#6fc7c7" stroke="#1f5558" stroke-width="0.7"/>
<circle cx="509.7" cy="719.3" r="2.9" fill="#6fc7c7" stroke="#1f5558" stroke-width="0.7"/>
<circle cx="515.7" cy="713.4" r="2.9" fill="#6fc7c7" stroke="#1f5558" stroke-width="0.7"/>
<circle cx="504.4" cy="724.0" r="2.9" fill="#6fc7c7" stroke="#1f5558" stroke-width="0.7"/>
<circle cx="504.4" cy="727.1" r="2.9" fill="#6fc7c7" stroke="#1f5558" stroke-width="0.7"/>
<circle cx="504.4" cy="730.3" r="2.9" fill="#6fc7c7" stroke="#1f5558" stroke-width="0.7"/>
<circle cx="509.7" cy="723.2" r="2.9" fill="#6fc7c7" stroke="#1f5558" stroke-width="0.7"/>
<circle cx="509.7" cy="726.8" r="2.9" fill="#6fc7c7" stroke="#1f5558" stroke-width="0.7"/>
<circle cx="509.7" cy="730.3" r="2.9" fill="#6fc7c7" stroke="#1f5558" stroke-width="0.7"/>
<circle cx="507.8" cy="734.2" r="2.9" fill="#6fc7c7" stroke="#1f5558" stroke-width="0.7"/>
<circle cx="515.7" cy="731.3" r="2.9" fill="#6fc7c7" stroke="#1f5558" stroke-width="0.7"/>
<circle cx="526.7" cy="726.4" r="2.9" fill="#6fc7c7" stroke="#1f5558" stroke-width="0.7"/>
<circle cx="526.7" cy="730.3" r="2.9" fill="#6fc7c7" stroke="#1f5558" stroke-width="0.7"/>
<circle cx="526.7" cy="740.4" r="2.9" fill="#6fc7c7" stroke="#1f5558" stroke-width="0.7"/>
<circle cx="508.7" cy="741.6" r="2.9" fill="#6fc7c7" stroke="#1f5558" stroke-width="0.7"/>
<circle cx="504.7" cy="752.4" r="2.9" fill="#6fc7c7" stroke="#1f5558" stroke-width="0.7"/>
<circle cx="507.0" cy="753.7" r="2.9" fill="#6fc7c7" stroke="#1f5558" stroke-width="0.7"/>
<circle cx="501.5" cy="754.4" r="2.9" fill="#6fc7c7" stroke="#1f5558" stroke-width="0.7"/>
<circle cx="499.2" cy="756.8" r="2.9" fill="#6fc7c7" stroke="#1f5558" stroke-width="0.7"/>
<circle cx="497.6" cy="759.1" r="2.9" fill="#6fc7c7" stroke="#1f5558" stroke-width="0.7"/>
<circle cx="496.9" cy="762.2" r="2.9" fill="#6fc7c7" stroke="#1f5558" stroke-width="0.7"/>
<circle cx="493.4" cy="763.8" r="2.9" fill="#6fc7c7" stroke="#1f5558" stroke-width="0.7"/>
<circle cx="496.1" cy="766.9" r="2.9" fill="#6fc7c7" stroke="#1f5558" stroke-width="0.7"/>
<circle cx="500.0" cy="765.4" r="2.9" fill="#6fc7c7" stroke="#1f5558" stroke-width="0.7"/>
<circle cx="501.5" cy="769.3" r="2.9" fill="#6fc7c7" stroke="#1f5558" stroke-width="0.7"/>
<circle cx="496.1" cy="772.7" r="2.9" fill="#6fc7c7" stroke="#1f5558" stroke-width="0.7"/>
<circle cx="504.7" cy="772.4" r="2.9" fill="#6fc7c7" stroke="#1f5558" stroke-width="0.7"/>
<circle cx="508.6" cy="770.0" r="2.9" fill="#6fc7c7" stroke="#1f5558" stroke-width="0.7"/>
<circle cx="505.4" cy="759.9" r="2.9" fill="#6fc7c7" stroke="#1f5558" stroke-width="0.7"/>
<circle cx="507.0" cy="762.2" r="2.9" fill="#6fc7c7" stroke="#1f5558" stroke-width="0.7"/>
<circle cx="503.1" cy="758.3" r="2.9" fill="#6fc7c7" stroke="#1f5558" stroke-width="0.7"/>
<circle cx="515.7" cy="757.1" r="2.9" fill="#6fc7c7" stroke="#1f5558" stroke-width="0.7"/>
<circle cx="515.7" cy="759.9" r="2.9" fill="#6fc7c7" stroke="#1f5558" stroke-width="0.7"/>
<circle cx="516.4" cy="764.6" r="2.9" fill="#6fc7c7" stroke="#1f5558" stroke-width="0.7"/>
<circle cx="516.4" cy="768.5" r="2.9" fill="#6fc7c7" stroke="#1f5558" stroke-width="0.7"/>
<circle cx="515.7" cy="772.4" r="2.9" fill="#6fc7c7" stroke="#1f5558" stroke-width="0.7"/>
<circle cx="515.7" cy="775.5" r="2.9" fill="#6fc7c7" stroke="#1f5558" stroke-width="0.7"/>
<circle cx="513.7" cy="779.4" r="2.9" fill="#6fc7c7" stroke="#1f5558" stroke-width="0.7"/>
<circle cx="520.3" cy="778.6" r="2.9" fill="#6fc7c7" stroke="#1f5558" stroke-width="0.7"/>
<circle cx="521.0" cy="771.3" r="2.9" fill="#6fc7c7" stroke="#1f5558" stroke-width="0.7"/>
<circle cx="521.0" cy="774.7" r="2.9" fill="#6fc7c7" stroke="#1f5558" stroke-width="0.7"/>
<circle cx="524.3" cy="757.9" r="2.9" fill="#6fc7c7" stroke="#1f5558" stroke-width="0.7"/>
<circle cx="524.3" cy="764.6" r="2.9" fill="#6fc7c7" stroke="#1f5558" stroke-width="0.7"/>
<circle cx="526.5" cy="773.6" r="2.9" fill="#6fc7c7" stroke="#1f5558" stroke-width="0.7"/>
<circle cx="529.6" cy="774.0" r="2.9" fill="#6fc7c7" stroke="#1f5558" stroke-width="0.7"/>
<circle cx="532.0" cy="771.9" r="2.9" fill="#6fc7c7" stroke="#1f5558" stroke-width="0.7"/>
<circle cx="546.5" cy="765.4" r="2.9" fill="#6fc7c7" stroke="#1f5558" stroke-width="0.7"/>
<circle cx="543.7" cy="775.8" r="2.9" fill="#6fc7c7" stroke="#1f5558" stroke-width="0.7"/>
<circle cx="393.0" cy="680.2" r="2.9" fill="#6fc7c7" stroke="#1f5558" stroke-width="0.7"/>
<circle cx="368.4" cy="693.8" r="2.9" fill="#6fc7c7" stroke="#1f5558" stroke-width="0.7"/>
<circle cx="368.4" cy="698.6" r="2.9" fill="#6fc7c7" stroke="#1f5558" stroke-width="0.7"/>
<circle cx="361.5" cy="709.8" r="2.9" fill="#6fc7c7" stroke="#1f5558" stroke-width="0.7"/>
<circle cx="375.6" cy="722.3" r="2.9" fill="#6fc7c7" stroke="#1f5558" stroke-width="0.7"/>
<circle cx="366.4" cy="728.4" r="2.9" fill="#6fc7c7" stroke="#1f5558" stroke-width="0.7"/>
<circle cx="373.0" cy="760.1" r="2.9" fill="#6fc7c7" stroke="#1f5558" stroke-width="0.7"/>
<circle cx="400.8" cy="735.8" r="2.9" fill="#6fc7c7" stroke="#1f5558" stroke-width="0.7"/>
<circle cx="400.3" cy="741.6" r="2.9" fill="#6fc7c7" stroke="#1f5558" stroke-width="0.7"/>
<circle cx="408.6" cy="733.7" r="2.9" fill="#6fc7c7" stroke="#1f5558" stroke-width="0.7"/>
<circle cx="403.6" cy="770.5" r="2.9" fill="#6fc7c7" stroke="#1f5558" stroke-width="0.7"/>
<circle cx="393.0" cy="799.8" r="2.9" fill="#6fc7c7" stroke="#1f5558" stroke-width="0.7"/>
<circle cx="391.6" cy="827.9" r="2.9" fill="#6fc7c7" stroke="#1f5558" stroke-width="0.7"/>
<circle cx="431.3" cy="725.7" r="2.9" fill="#6fc7c7" stroke="#1f5558" stroke-width="0.7"/>
<circle cx="431.3" cy="729.3" r="2.9" fill="#6fc7c7" stroke="#1f5558" stroke-width="0.7"/>
<circle cx="284.5" cy="730.8" r="2.9" fill="#6fc7c7" stroke="#1f5558" stroke-width="0.7"/>
<circle cx="507.1" cy="792.1" r="2.9" fill="#6fc7c7" stroke="#1f5558" stroke-width="0.7"/>
<circle cx="520.9" cy="799.8" r="2.9" fill="#6fc7c7" stroke="#1f5558" stroke-width="0.7"/>
<circle cx="547.3" cy="797.2" r="2.9" fill="#6fc7c7" stroke="#1f5558" stroke-width="0.7"/>
<circle cx="483.2" cy="814.1" r="2.9" fill="#6fc7c7" stroke="#1f5558" stroke-width="0.7"/>
<circle cx="579.0" cy="683.3" r="2.9" fill="#6fc7c7" stroke="#1f5558" stroke-width="0.7"/>
<circle cx="579.0" cy="773.0" r="2.9" fill="#6fc7c7" stroke="#1f5558" stroke-width="0.7"/>
<circle cx="579.0" cy="804.4" r="2.9" fill="#6fc7c7" stroke="#1f5558" stroke-width="0.7"/>
<circle cx="588.4" cy="804.7" r="2.9" fill="#6fc7c7" stroke="#1f5558" stroke-width="0.7"/>
<circle cx="667.4" cy="752.8" r="2.9" fill="#6fc7c7" stroke="#1f5558" stroke-width="0.7"/>
<circle cx="791.5" cy="754.1" r="2.9" fill="#6fc7c7" stroke="#1f5558" stroke-width="0.7"/>
<circle cx="667.4" cy="802.5" r="2.9" fill="#6fc7c7" stroke="#1f5558" stroke-width="0.7"/>
<circle cx="776.3" cy="796.9" r="2.9" fill="#6fc7c7" stroke="#1f5558" stroke-width="0.7"/>
<circle cx="804.4" cy="812.9" r="2.9" fill="#6fc7c7" stroke="#1f5558" stroke-width="0.7"/>
<circle cx="717.9" cy="820.8" r="2.9" fill="#6fc7c7" stroke="#1f5558" stroke-width="0.7"/>
<circle cx="719.5" cy="819.2" r="2.9" fill="#6fc7c7" stroke="#1f5558" stroke-width="0.7"/>
<circle cx="399.5" cy="889.1" r="2.9" fill="#6fc7c7" stroke="#1f5558" stroke-width="0.7"/>
<circle cx="366.6" cy="939.7" r="2.9" fill="#6fc7c7" stroke="#1f5558" stroke-width="0.7"/>
<circle cx="391.7" cy="944.9" r="2.9" fill="#6fc7c7" stroke="#1f5558" stroke-width="0.7"/>
<circle cx="391.7" cy="952.7" r="2.9" fill="#6fc7c7" stroke="#1f5558" stroke-width="0.7"/>
<circle cx="581.0" cy="910.3" r="2.9" fill="#6fc7c7" stroke="#1f5558" stroke-width="0.7"/>
<circle cx="741.3" cy="913.8" r="2.9" fill="#6fc7c7" stroke="#1f5558" stroke-width="0.7"/>
<circle cx="272.9" cy="1011.9" r="2.9" fill="#6fc7c7" stroke="#1f5558" stroke-width="0.7"/>
<circle cx="316.9" cy="997.6" r="2.9" fill="#6fc7c7" stroke="#1f5558" stroke-width="0.7"/>
<circle cx="339.8" cy="1090.1" r="2.9" fill="#6fc7c7" stroke="#1f5558" stroke-width="0.7"/>
<circle cx="428.0" cy="1113.8" r="2.9" fill="#6fc7c7" stroke="#1f5558" stroke-width="0.7"/>
<circle cx="348.9" cy="1193.8" r="2.9" fill="#6fc7c7" stroke="#1f5558" stroke-width="0.7"/>
<circle cx="501.9" cy="1177.4" r="2.9" fill="#6fc7c7" stroke="#1f5558" stroke-width="0.7"/>
<circle cx="762.1" cy="1028.3" r="2.9" fill="#6fc7c7" stroke="#1f5558" stroke-width="0.7"/>
<circle cx="775.9" cy="1036.5" r="2.9" fill="#6fc7c7" stroke="#1f5558" stroke-width="0.7"/>
<circle cx="724.5" cy="1110.0" r="2.9" fill="#6fc7c7" stroke="#1f5558" stroke-width="0.7"/>
<circle cx="802.3" cy="1233.1" r="2.9" fill="#6fc7c7" stroke="#1f5558" stroke-width="0.7"/>
<text x="1.07" y="685.70" font-size="33.5" font-weight="bold" textLength="22.11" lengthAdjust="spacingAndGlyphs" fill="#231f20">b</text>
<text x="51.92" y="686.90" font-size="29.4" textLength="32.43" lengthAdjust="spacingAndGlyphs" fill="#231f20">70</text>
<text x="51.92" y="836.00" font-size="29.4" textLength="32.43" lengthAdjust="spacingAndGlyphs" fill="#231f20">60</text>
<text x="52.17" y="985.10" font-size="29.4" textLength="32.17" lengthAdjust="spacingAndGlyphs" fill="#231f20">50</text>
<text x="52.68" y="1134.20" font-size="29.4" textLength="31.65" lengthAdjust="spacingAndGlyphs" fill="#231f20">40</text>
<text x="52.43" y="1283.30" font-size="29.4" textLength="31.91" lengthAdjust="spacingAndGlyphs" fill="#231f20">30</text>
<text x="122.89" y="1310.40" font-size="29.4" textLength="15.82" lengthAdjust="spacingAndGlyphs" fill="#231f20">0</text>
<text x="194.66" y="1310.40" font-size="29.4" textLength="28.25" lengthAdjust="spacingAndGlyphs" fill="#231f20">10</text>
<text x="270.07" y="1310.40" font-size="29.4" textLength="31.24" lengthAdjust="spacingAndGlyphs" fill="#231f20">20</text>
<text x="346.96" y="1310.40" font-size="29.4" textLength="30.73" lengthAdjust="spacingAndGlyphs" fill="#231f20">30</text>
<text x="420.60" y="1310.40" font-size="29.4" textLength="30.48" lengthAdjust="spacingAndGlyphs" fill="#231f20">40</text>
<text x="496.62" y="1310.40" font-size="29.4" textLength="30.98" lengthAdjust="spacingAndGlyphs" fill="#231f20">50</text>
<text x="572.22" y="1310.40" font-size="29.4" textLength="32.32" lengthAdjust="spacingAndGlyphs" fill="#231f20">60</text>
<text x="648.55" y="1310.40" font-size="29.4" textLength="31.78" lengthAdjust="spacingAndGlyphs" fill="#231f20">70</text>
<text x="724.68" y="1310.40" font-size="29.4" textLength="32.06" lengthAdjust="spacingAndGlyphs" fill="#231f20">80</text>
<text x="801.52" y="1310.40" font-size="29.4" textLength="31.09" lengthAdjust="spacingAndGlyphs" fill="#231f20">90</text>
<text x="411.69" y="1344.00" font-size="29.4" textLength="121.58" lengthAdjust="spacingAndGlyphs" fill="#231f20">East (km)</text>
<text transform="translate(29.60,1169.50) rotate(-90)" font-size="29.4" textLength="372.94" lengthAdjust="spacingAndGlyphs" fill="#231f20">Days since 31 October 2013</text>
<text x="115.25" y="768.60" font-size="28.6" font-weight="bold" textLength="110.69" lengthAdjust="spacingAndGlyphs" fill="#231f20">Phase II</text>
<text x="115.27" y="916.10" font-size="28.6" font-weight="bold" textLength="101.26" lengthAdjust="spacingAndGlyphs" fill="#231f20">Phase I</text>
<text x="115.65" y="852.60" font-size="29.4" textLength="95.50" lengthAdjust="spacingAndGlyphs" fill="#231f20">Dec 30</text>
<text x="257.96" y="816.90" font-size="29.4" textLength="178.07" lengthAdjust="spacingAndGlyphs" fill="#231f20">10 km per day</text>
<text x="411.02" y="919.30" font-size="29.4" textLength="165.50" lengthAdjust="spacingAndGlyphs" fill="#231f20">1 km per day</text>
<rect x="109.4" y="1041.7" width="154.7" height="224.2" fill="#fff" stroke="#231f20" stroke-width="1.3"/>
<defs><linearGradient id="cb" x1="0" x2="0" y1="0" y2="1"><stop offset="0.000" stop-color="#000000"/><stop offset="0.025" stop-color="#150203"/><stop offset="0.050" stop-color="#2b0405"/><stop offset="0.075" stop-color="#400608"/><stop offset="0.100" stop-color="#53070b"/><stop offset="0.125" stop-color="#66070d"/><stop offset="0.150" stop-color="#790810"/><stop offset="0.175" stop-color="#8d0d16"/><stop offset="0.200" stop-color="#a1121b"/><stop offset="0.225" stop-color="#b61620"/><stop offset="0.250" stop-color="#c51924"/><stop offset="0.275" stop-color="#d51d28"/><stop offset="0.300" stop-color="#e3212c"/><stop offset="0.325" stop-color="#e72c2d"/><stop offset="0.350" stop-color="#eb372d"/><stop offset="0.375" stop-color="#ee432e"/><stop offset="0.400" stop-color="#ef552d"/><stop offset="0.425" stop-color="#f1662b"/><stop offset="0.450" stop-color="#f2772a"/><stop offset="0.475" stop-color="#f38627"/><stop offset="0.500" stop-color="#f59625"/><stop offset="0.525" stop-color="#f6a523"/><stop offset="0.550" stop-color="#f8bd22"/><stop offset="0.575" stop-color="#f8d822"/><stop offset="0.600" stop-color="#eee52d"/><stop offset="0.625" stop-color="#dee24e"/><stop offset="0.650" stop-color="#ecf0ac"/><stop offset="0.675" stop-color="#fefefe"/><stop offset="0.700" stop-color="#f5f5f5"/><stop offset="0.725" stop-color="#ececec"/><stop offset="0.750" stop-color="#e2e2e2"/><stop offset="0.775" stop-color="#d7d7d7"/><stop offset="0.800" stop-color="#cdcdcd"/><stop offset="0.825" stop-color="#c2c2c2"/><stop offset="0.850" stop-color="#b6b6b6"/><stop offset="0.875" stop-color="#aaaaaa"/><stop offset="0.900" stop-color="#9e9e9e"/><stop offset="0.925" stop-color="#929292"/><stop offset="0.950" stop-color="#868686"/><stop offset="0.975" stop-color="#7a7a7a"/><stop offset="1.000" stop-color="#6e6e6e"/></linearGradient></defs>
<rect x="124.4" y="1051.7" width="13.6" height="201.7" fill="url(#cb)"/>
<line x1="138" y1="1067.0" x2="144.5" y2="1067.0" stroke="#231f20" stroke-width="1.2"/>
<text x="149.39" y="1077.30" font-size="29.4" textLength="15.57" lengthAdjust="spacingAndGlyphs" fill="#231f20">4</text>
<line x1="138" y1="1097.1" x2="144.5" y2="1097.1" stroke="#231f20" stroke-width="1.2"/>
<text x="150.30" y="1107.38" font-size="29.4" textLength="13.13" lengthAdjust="spacingAndGlyphs" fill="#231f20">3</text>
<line x1="138" y1="1127.2" x2="144.5" y2="1127.2" stroke="#231f20" stroke-width="1.2"/>
<text x="149.80" y="1137.46" font-size="29.4" textLength="14.22" lengthAdjust="spacingAndGlyphs" fill="#231f20">2</text>
<line x1="138" y1="1157.2" x2="144.5" y2="1157.2" stroke="#231f20" stroke-width="1.2"/>
<text x="150.47" y="1167.54" font-size="29.4" textLength="12.61" lengthAdjust="spacingAndGlyphs" fill="#231f20">1</text>
<line x1="138" y1="1187.3" x2="144.5" y2="1187.3" stroke="#231f20" stroke-width="1.2"/>
<text x="149.37" y="1197.62" font-size="29.4" textLength="16.17" lengthAdjust="spacingAndGlyphs" fill="#231f20">0</text>
<line x1="138" y1="1217.4" x2="144.5" y2="1217.4" stroke="#231f20" stroke-width="1.2"/>
<text x="148.72" y="1227.70" font-size="29.4" textLength="30.84" lengthAdjust="spacingAndGlyphs" fill="#231f20">−1</text>
<line x1="138" y1="1247.5" x2="144.5" y2="1247.5" stroke="#231f20" stroke-width="1.2"/>
<text x="148.70" y="1257.78" font-size="29.4" textLength="31.39" lengthAdjust="spacingAndGlyphs" fill="#231f20">−2</text>
<text transform="translate(229.60,1103.04) rotate(90)" font-size="30.5" textLength="109.27" lengthAdjust="spacingAndGlyphs" fill="#231f20">Slip rate</text>
<text transform="translate(196.70,1076.66) rotate(90)" font-size="29.8" textLength="160.93" lengthAdjust="spacingAndGlyphs" fill="#231f20">(m per year)</text>
</svg>
</body></html>
